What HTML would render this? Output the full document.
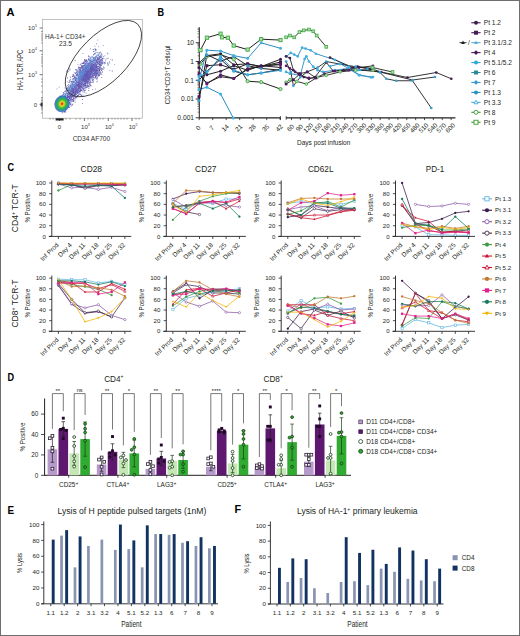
<!DOCTYPE html><html><head><meta charset="utf-8"><title>Figure</title><style>html,body{margin:0;padding:0;background:#fff;width:520px;height:636px;overflow:hidden;}svg{display:block;font-family:"Liberation Sans",sans-serif;}</style></head><body><svg width="520" height="636" viewBox="0 0 520 636" font-family="&quot;Liberation Sans&quot;, sans-serif"><rect x="0" y="0" width="520" height="636" fill="#fff"/>
<text x="6.60" y="16.20" font-size="10.8" fill="#000" textLength="8.0" lengthAdjust="spacingAndGlyphs" font-weight="bold">A</text>
<text x="157.60" y="15.90" font-size="10.8" fill="#000" textLength="6.6" lengthAdjust="spacingAndGlyphs" font-weight="bold">B</text>
<text x="7.60" y="170.60" font-size="10.8" fill="#000" textLength="6.6" lengthAdjust="spacingAndGlyphs" font-weight="bold">C</text>
<text x="7.60" y="380.60" font-size="10.8" fill="#000" textLength="6.6" lengthAdjust="spacingAndGlyphs" font-weight="bold">D</text>
<text x="7.60" y="513.80" font-size="10.8" fill="#000" textLength="6.6" lengthAdjust="spacingAndGlyphs" font-weight="bold">E</text>
<text x="234.60" y="513.30" font-size="10.8" fill="#000" textLength="6.6" lengthAdjust="spacingAndGlyphs" font-weight="bold">F</text>
<g opacity="0.9"><path fill="#1f2a80" d="M87.2 76.8h.8v.8h-.8zM84.2 75.6h.8v.8h-.8zM90.3 67.5h.8v.8h-.8zM98.7 74.5h.8v.8h-.8zM90.7 70.3h.8v.8h-.8zM90.2 76.6h.8v.8h-.8zM73.8 86.4h.8v.8h-.8zM98.8 67.1h.8v.8h-.8zM98.5 71.5h.8v.8h-.8zM89.6 60.0h.8v.8h-.8zM84.5 71.4h.8v.8h-.8zM88.0 58.6h.8v.8h-.8zM86.8 81.3h.8v.8h-.8zM95.3 68.7h.8v.8h-.8zM98.8 63.7h.8v.8h-.8zM93.6 50.9h.8v.8h-.8zM99.1 73.0h.8v.8h-.8zM84.3 89.9h.8v.8h-.8zM81.6 79.2h.8v.8h-.8zM92.1 71.8h.8v.8h-.8zM96.0 65.4h.8v.8h-.8zM87.9 63.3h.8v.8h-.8zM100.0 62.5h.8v.8h-.8zM102.2 61.9h.8v.8h-.8zM88.8 76.6h.8v.8h-.8zM94.7 70.8h.8v.8h-.8zM73.7 89.1h.8v.8h-.8zM77.2 74.0h.8v.8h-.8zM78.3 83.5h.8v.8h-.8zM86.6 77.1h.8v.8h-.8zM91.1 67.7h.8v.8h-.8zM97.0 77.5h.8v.8h-.8zM93.8 70.3h.8v.8h-.8zM72.7 78.7h.8v.8h-.8zM100.8 62.0h.8v.8h-.8zM86.7 69.0h.8v.8h-.8zM84.7 79.7h.8v.8h-.8zM82.6 78.6h.8v.8h-.8zM98.0 59.5h.8v.8h-.8zM79.4 79.3h.8v.8h-.8zM101.8 68.2h.8v.8h-.8zM87.8 78.4h.8v.8h-.8zM82.4 67.6h.8v.8h-.8zM79.9 91.2h.8v.8h-.8zM89.9 73.5h.8v.8h-.8zM91.8 68.2h.8v.8h-.8zM98.9 70.5h.8v.8h-.8zM66.8 87.9h.8v.8h-.8zM95.5 71.8h.8v.8h-.8zM106.6 58.2h.8v.8h-.8zM90.4 57.4h.8v.8h-.8zM81.8 76.9h.8v.8h-.8zM96.5 78.6h.8v.8h-.8zM100.1 63.9h.8v.8h-.8zM75.2 83.2h.8v.8h-.8zM82.2 66.3h.8v.8h-.8zM88.2 64.5h.8v.8h-.8zM87.9 73.6h.8v.8h-.8zM94.4 72.4h.8v.8h-.8zM76.4 74.1h.8v.8h-.8zM84.8 75.9h.8v.8h-.8zM94.7 56.7h.8v.8h-.8zM77.2 73.3h.8v.8h-.8zM88.0 68.9h.8v.8h-.8zM76.7 84.8h.8v.8h-.8zM86.9 64.7h.8v.8h-.8zM82.0 87.7h.8v.8h-.8zM95.2 75.6h.8v.8h-.8zM90.7 65.6h.8v.8h-.8zM84.9 85.1h.8v.8h-.8zM76.8 91.8h.8v.8h-.8zM79.3 84.6h.8v.8h-.8zM92.6 69.1h.8v.8h-.8zM87.0 79.0h.8v.8h-.8zM91.5 63.2h.8v.8h-.8zM91.8 61.4h.8v.8h-.8zM101.4 68.3h.8v.8h-.8zM75.2 80.1h.8v.8h-.8zM85.0 83.3h.8v.8h-.8zM94.4 70.0h.8v.8h-.8zM86.1 86.9h.8v.8h-.8zM90.7 73.3h.8v.8h-.8zM89.6 71.1h.8v.8h-.8zM99.1 64.2h.8v.8h-.8zM83.3 87.5h.8v.8h-.8zM79.7 75.6h.8v.8h-.8zM82.0 80.6h.8v.8h-.8zM81.5 79.0h.8v.8h-.8zM85.9 80.2h.8v.8h-.8zM97.5 56.9h.8v.8h-.8zM101.5 58.6h.8v.8h-.8zM80.9 84.5h.8v.8h-.8zM87.1 81.5h.8v.8h-.8zM69.4 88.4h.8v.8h-.8zM91.5 65.5h.8v.8h-.8zM90.4 77.6h.8v.8h-.8zM82.7 77.4h.8v.8h-.8zM93.7 65.3h.8v.8h-.8zM85.2 82.5h.8v.8h-.8zM78.1 87.5h.8v.8h-.8zM82.2 63.1h.8v.8h-.8zM84.7 80.5h.8v.8h-.8zM88.1 59.0h.8v.8h-.8zM89.2 70.4h.8v.8h-.8zM84.6 72.9h.8v.8h-.8zM76.7 77.8h.8v.8h-.8zM72.9 88.8h.8v.8h-.8zM84.4 69.3h.8v.8h-.8zM104.1 62.0h.8v.8h-.8zM81.3 86.1h.8v.8h-.8zM79.7 86.8h.8v.8h-.8zM87.7 74.5h.8v.8h-.8zM100.8 65.0h.8v.8h-.8zM92.5 63.4h.8v.8h-.8zM76.6 72.1h.8v.8h-.8zM94.4 66.6h.8v.8h-.8zM90.3 74.8h.8v.8h-.8zM84.4 77.5h.8v.8h-.8zM88.2 72.1h.8v.8h-.8zM69.2 81.6h.8v.8h-.8zM88.6 56.0h.8v.8h-.8zM76.5 87.9h.8v.8h-.8zM92.9 57.4h.8v.8h-.8zM99.9 65.8h.8v.8h-.8zM85.1 85.4h.8v.8h-.8zM86.1 77.9h.8v.8h-.8zM84.2 73.8h.8v.8h-.8zM85.0 76.2h.8v.8h-.8zM91.6 65.1h.8v.8h-.8zM85.5 72.5h.8v.8h-.8zM94.5 59.2h.8v.8h-.8zM89.3 82.9h.8v.8h-.8zM86.2 67.9h.8v.8h-.8zM88.2 77.4h.8v.8h-.8zM82.4 83.5h.8v.8h-.8zM85.6 78.0h.8v.8h-.8zM82.6 80.3h.8v.8h-.8zM86.0 77.2h.8v.8h-.8zM88.9 71.6h.8v.8h-.8zM89.9 72.5h.8v.8h-.8zM90.8 64.7h.8v.8h-.8zM84.1 80.7h.8v.8h-.8zM85.4 78.3h.8v.8h-.8zM85.2 80.4h.8v.8h-.8zM91.9 68.7h.8v.8h-.8zM86.0 67.3h.8v.8h-.8zM83.5 84.2h.8v.8h-.8zM87.4 65.5h.8v.8h-.8zM75.9 75.2h.8v.8h-.8zM92.5 70.1h.8v.8h-.8zM81.6 84.9h.8v.8h-.8zM87.3 71.7h.8v.8h-.8zM79.6 85.9h.8v.8h-.8zM85.5 67.4h.8v.8h-.8zM81.1 71.3h.8v.8h-.8zM99.2 61.4h.8v.8h-.8zM87.2 69.0h.8v.8h-.8zM89.8 66.9h.8v.8h-.8zM83.6 85.0h.8v.8h-.8zM82.9 76.1h.8v.8h-.8zM78.0 68.4h.8v.8h-.8zM103.1 56.4h.8v.8h-.8zM87.9 68.6h.8v.8h-.8zM79.4 69.1h.8v.8h-.8zM87.2 82.1h.8v.8h-.8zM96.2 68.7h.8v.8h-.8zM94.2 65.2h.8v.8h-.8zM88.2 69.4h.8v.8h-.8zM78.0 95.0h.8v.8h-.8zM100.5 56.9h.8v.8h-.8zM88.9 73.8h.8v.8h-.8zM80.9 77.7h.8v.8h-.8zM87.3 77.8h.8v.8h-.8zM85.5 84.7h.8v.8h-.8zM79.7 76.4h.8v.8h-.8zM82.6 94.8h.8v.8h-.8zM96.2 60.1h.8v.8h-.8zM83.6 73.5h.8v.8h-.8zM94.2 70.2h.8v.8h-.8zM99.8 56.6h.8v.8h-.8zM96.6 70.2h.8v.8h-.8zM90.8 68.5h.8v.8h-.8zM102.0 58.1h.8v.8h-.8zM77.5 91.6h.8v.8h-.8zM77.8 83.7h.8v.8h-.8zM84.7 72.9h.8v.8h-.8zM72.8 85.7h.8v.8h-.8zM93.9 63.5h.8v.8h-.8zM90.5 62.4h.8v.8h-.8zM84.2 74.8h.8v.8h-.8zM94.7 77.7h.8v.8h-.8zM96.7 58.9h.8v.8h-.8zM93.3 53.9h.8v.8h-.8zM71.4 91.5h.8v.8h-.8zM70.5 94.6h.8v.8h-.8zM76.2 85.8h.8v.8h-.8zM72.0 89.9h.8v.8h-.8zM70.6 90.6h.8v.8h-.8zM71.5 89.9h.8v.8h-.8zM68.1 96.5h.8v.8h-.8zM60.3 96.1h.8v.8h-.8zM69.0 95.7h.8v.8h-.8zM71.4 97.9h.8v.8h-.8zM75.2 90.1h.8v.8h-.8zM76.4 91.9h.8v.8h-.8zM74.8 92.7h.8v.8h-.8zM76.4 84.8h.8v.8h-.8zM72.8 91.4h.8v.8h-.8zM73.4 95.7h.8v.8h-.8zM75.4 93.7h.8v.8h-.8zM74.3 86.3h.8v.8h-.8zM68.3 89.6h.8v.8h-.8zM75.5 93.9h.8v.8h-.8zM79.2 93.4h.8v.8h-.8zM72.0 93.4h.8v.8h-.8zM71.3 93.2h.8v.8h-.8zM65.1 90.7h.8v.8h-.8zM74.7 92.9h.8v.8h-.8zM71.7 99.2h.8v.8h-.8zM72.1 91.2h.8v.8h-.8zM79.1 87.2h.8v.8h-.8zM71.7 90.4h.8v.8h-.8zM73.6 90.9h.8v.8h-.8zM70.6 96.0h.8v.8h-.8zM78.1 87.0h.8v.8h-.8zM71.0 90.6h.8v.8h-.8zM77.1 90.2h.8v.8h-.8zM75.0 91.3h.8v.8h-.8zM79.2 91.1h.8v.8h-.8zM67.7 92.8h.8v.8h-.8zM71.2 88.3h.8v.8h-.8zM72.5 99.6h.8v.8h-.8zM70.1 90.7h.8v.8h-.8zM75.0 86.4h.8v.8h-.8zM69.3 96.9h.8v.8h-.8zM76.8 86.0h.8v.8h-.8zM78.7 84.0h.8v.8h-.8zM69.5 94.0h.8v.8h-.8zM63.8 94.8h.8v.8h-.8zM73.6 91.9h.8v.8h-.8zM76.3 90.9h.8v.8h-.8zM70.3 98.9h.8v.8h-.8zM69.4 88.8h.8v.8h-.8zM68.8 88.2h.8v.8h-.8zM76.2 90.9h.8v.8h-.8zM73.0 91.6h.8v.8h-.8zM74.8 90.7h.8v.8h-.8zM77.6 92.1h.8v.8h-.8zM66.6 89.5h.8v.8h-.8zM67.1 95.1h.8v.8h-.8zM63.0 105.2h.8v.8h-.8zM64.9 102.6h.8v.8h-.8zM69.9 104.4h.8v.8h-.8zM57.5 99.8h.8v.8h-.8zM68.2 99.1h.8v.8h-.8zM72.2 99.6h.8v.8h-.8zM73.4 99.9h.8v.8h-.8zM66.5 100.2h.8v.8h-.8zM67.2 96.0h.8v.8h-.8zM61.7 104.9h.8v.8h-.8zM63.7 102.2h.8v.8h-.8zM74.7 101.8h.8v.8h-.8zM61.0 104.6h.8v.8h-.8zM67.2 98.4h.8v.8h-.8zM61.5 101.7h.8v.8h-.8zM68.8 102.8h.8v.8h-.8zM60.4 104.3h.8v.8h-.8zM62.5 100.1h.8v.8h-.8zM63.8 108.6h.8v.8h-.8zM63.0 101.2h.8v.8h-.8zM67.8 104.2h.8v.8h-.8zM67.0 97.4h.8v.8h-.8zM62.0 106.2h.8v.8h-.8zM65.3 108.1h.8v.8h-.8zM66.9 101.8h.8v.8h-.8zM65.5 106.0h.8v.8h-.8zM57.9 107.0h.8v.8h-.8zM70.6 97.6h.8v.8h-.8zM62.7 99.2h.8v.8h-.8zM62.9 101.1h.8v.8h-.8zM62.1 102.3h.8v.8h-.8zM74.7 60.1h.8v.8h-.8zM89.9 48.5h.8v.8h-.8zM78.5 77.7h.8v.8h-.8zM80.2 94.2h.8v.8h-.8zM94.3 59.4h.8v.8h-.8zM111.8 70.6h.8v.8h-.8zM97.4 69.8h.8v.8h-.8zM86.7 69.4h.8v.8h-.8zM107.5 53.5h.8v.8h-.8zM69.6 69.4h.8v.8h-.8zM101.3 77.0h.8v.8h-.8zM97.1 58.9h.8v.8h-.8zM68.3 70.8h.8v.8h-.8zM84.5 78.0h.8v.8h-.8zM93.2 79.4h.8v.8h-.8zM83.7 75.5h.8v.8h-.8z"/><path fill="#2c3a9c" d="M84.2 73.9h.8v.8h-.8zM88.9 70.2h.8v.8h-.8zM90.7 71.6h.8v.8h-.8zM88.0 55.6h.8v.8h-.8zM85.9 81.1h.8v.8h-.8zM92.0 67.8h.8v.8h-.8zM86.6 78.7h.8v.8h-.8zM87.3 68.2h.8v.8h-.8zM87.1 77.9h.8v.8h-.8zM91.0 73.1h.8v.8h-.8zM82.6 69.4h.8v.8h-.8zM85.8 82.6h.8v.8h-.8zM95.8 60.0h.8v.8h-.8zM93.2 63.8h.8v.8h-.8zM72.8 78.2h.8v.8h-.8zM89.7 69.1h.8v.8h-.8zM87.3 83.2h.8v.8h-.8zM83.5 79.6h.8v.8h-.8zM88.5 88.0h.8v.8h-.8zM100.9 70.3h.8v.8h-.8zM87.7 71.1h.8v.8h-.8zM95.0 67.4h.8v.8h-.8zM84.5 62.1h.8v.8h-.8zM94.1 69.8h.8v.8h-.8zM84.4 73.7h.8v.8h-.8zM83.8 71.6h.8v.8h-.8zM89.4 75.9h.8v.8h-.8zM85.5 75.0h.8v.8h-.8zM85.5 81.3h.8v.8h-.8zM87.9 74.4h.8v.8h-.8zM104.7 62.0h.8v.8h-.8zM80.3 90.6h.8v.8h-.8zM84.4 75.3h.8v.8h-.8zM86.2 70.1h.8v.8h-.8zM89.7 73.0h.8v.8h-.8zM97.7 55.3h.8v.8h-.8zM87.4 71.3h.8v.8h-.8zM83.6 66.8h.8v.8h-.8zM92.1 68.3h.8v.8h-.8zM92.4 73.8h.8v.8h-.8zM91.0 66.8h.8v.8h-.8zM95.8 64.9h.8v.8h-.8zM87.1 77.0h.8v.8h-.8zM86.4 78.1h.8v.8h-.8zM94.3 73.8h.8v.8h-.8zM88.4 74.6h.8v.8h-.8zM82.3 80.4h.8v.8h-.8zM82.0 77.1h.8v.8h-.8zM92.9 75.7h.8v.8h-.8zM83.4 78.7h.8v.8h-.8zM95.6 67.1h.8v.8h-.8zM93.8 60.0h.8v.8h-.8zM100.2 72.6h.8v.8h-.8zM87.4 72.2h.8v.8h-.8zM85.6 67.9h.8v.8h-.8zM86.4 74.7h.8v.8h-.8zM68.3 84.3h.8v.8h-.8zM103.9 67.5h.8v.8h-.8zM95.7 59.8h.8v.8h-.8zM81.1 90.1h.8v.8h-.8zM88.4 77.9h.8v.8h-.8zM83.2 85.7h.8v.8h-.8zM75.0 83.7h.8v.8h-.8zM93.2 81.6h.8v.8h-.8zM97.9 73.6h.8v.8h-.8zM98.4 63.2h.8v.8h-.8zM96.9 67.9h.8v.8h-.8zM73.9 91.1h.8v.8h-.8zM96.9 62.2h.8v.8h-.8zM99.2 69.7h.8v.8h-.8zM80.5 87.0h.8v.8h-.8zM86.3 67.0h.8v.8h-.8zM72.6 76.1h.8v.8h-.8zM84.7 76.0h.8v.8h-.8zM100.6 56.9h.8v.8h-.8zM76.4 77.5h.8v.8h-.8zM84.8 73.5h.8v.8h-.8zM86.1 76.2h.8v.8h-.8zM83.7 80.8h.8v.8h-.8zM86.4 73.5h.8v.8h-.8zM88.6 72.4h.8v.8h-.8zM76.6 75.3h.8v.8h-.8zM76.3 72.0h.8v.8h-.8zM92.4 66.3h.8v.8h-.8zM85.0 60.6h.8v.8h-.8zM96.7 73.6h.8v.8h-.8zM83.0 79.1h.8v.8h-.8zM91.0 72.8h.8v.8h-.8zM85.5 76.3h.8v.8h-.8zM90.1 83.8h.8v.8h-.8zM93.9 68.7h.8v.8h-.8zM89.4 74.4h.8v.8h-.8zM86.0 73.1h.8v.8h-.8zM83.6 72.1h.8v.8h-.8zM75.5 80.3h.8v.8h-.8zM93.4 68.9h.8v.8h-.8zM91.4 69.8h.8v.8h-.8zM88.2 77.3h.8v.8h-.8zM84.0 79.7h.8v.8h-.8zM79.7 81.5h.8v.8h-.8zM74.7 86.8h.8v.8h-.8zM94.2 69.3h.8v.8h-.8zM97.6 61.1h.8v.8h-.8zM81.0 80.8h.8v.8h-.8zM100.2 51.8h.8v.8h-.8zM93.9 60.1h.8v.8h-.8zM87.7 70.8h.8v.8h-.8zM99.2 59.5h.8v.8h-.8zM86.1 78.2h.8v.8h-.8zM85.4 75.5h.8v.8h-.8zM78.8 79.6h.8v.8h-.8zM82.8 63.2h.8v.8h-.8zM96.6 69.4h.8v.8h-.8zM94.1 71.5h.8v.8h-.8zM90.9 72.8h.8v.8h-.8zM91.5 70.7h.8v.8h-.8zM80.1 85.7h.8v.8h-.8zM88.8 86.4h.8v.8h-.8zM67.0 85.5h.8v.8h-.8zM93.3 51.2h.8v.8h-.8zM92.3 68.8h.8v.8h-.8zM92.4 66.6h.8v.8h-.8zM85.0 82.5h.8v.8h-.8zM98.6 64.0h.8v.8h-.8zM99.2 75.1h.8v.8h-.8zM84.4 79.0h.8v.8h-.8zM87.6 76.3h.8v.8h-.8zM91.5 64.5h.8v.8h-.8zM96.5 69.2h.8v.8h-.8zM86.8 85.9h.8v.8h-.8zM93.4 67.5h.8v.8h-.8zM98.2 58.5h.8v.8h-.8zM83.8 75.4h.8v.8h-.8zM94.3 65.9h.8v.8h-.8zM88.6 70.9h.8v.8h-.8zM78.7 80.8h.8v.8h-.8zM84.3 83.5h.8v.8h-.8zM93.8 58.3h.8v.8h-.8zM90.9 66.6h.8v.8h-.8zM93.6 73.0h.8v.8h-.8zM101.0 64.8h.8v.8h-.8zM95.0 72.4h.8v.8h-.8zM76.3 77.8h.8v.8h-.8zM83.4 62.0h.8v.8h-.8zM81.8 69.9h.8v.8h-.8zM89.6 66.0h.8v.8h-.8zM85.1 83.0h.8v.8h-.8zM87.4 67.8h.8v.8h-.8zM75.3 77.2h.8v.8h-.8zM83.8 72.2h.8v.8h-.8zM93.8 74.7h.8v.8h-.8zM88.5 66.6h.8v.8h-.8zM73.2 91.5h.8v.8h-.8zM97.5 70.2h.8v.8h-.8zM78.3 78.7h.8v.8h-.8zM88.5 86.0h.8v.8h-.8zM83.6 77.2h.8v.8h-.8zM91.2 69.1h.8v.8h-.8zM95.6 60.7h.8v.8h-.8zM96.0 49.4h.8v.8h-.8zM78.6 73.8h.8v.8h-.8zM93.3 73.1h.8v.8h-.8zM74.8 89.6h.8v.8h-.8zM96.7 62.7h.8v.8h-.8zM92.5 69.4h.8v.8h-.8zM85.0 70.9h.8v.8h-.8zM87.3 77.9h.8v.8h-.8zM89.9 67.1h.8v.8h-.8zM78.3 82.3h.8v.8h-.8zM86.0 75.5h.8v.8h-.8zM101.6 61.8h.8v.8h-.8zM90.4 70.9h.8v.8h-.8zM85.0 67.5h.8v.8h-.8zM88.2 76.7h.8v.8h-.8zM88.4 77.2h.8v.8h-.8zM85.0 78.0h.8v.8h-.8zM87.9 69.6h.8v.8h-.8zM100.1 55.4h.8v.8h-.8zM97.6 59.1h.8v.8h-.8zM91.1 65.4h.8v.8h-.8zM101.7 61.2h.8v.8h-.8zM91.0 69.1h.8v.8h-.8zM92.8 49.1h.8v.8h-.8zM75.3 88.5h.8v.8h-.8zM73.2 82.3h.8v.8h-.8zM85.0 72.7h.8v.8h-.8zM75.1 79.4h.8v.8h-.8zM96.0 73.5h.8v.8h-.8zM86.1 80.4h.8v.8h-.8zM78.5 88.2h.8v.8h-.8zM87.4 82.0h.8v.8h-.8zM96.2 64.9h.8v.8h-.8zM95.3 58.0h.8v.8h-.8zM91.6 69.9h.8v.8h-.8zM95.1 49.1h.8v.8h-.8zM102.6 62.9h.8v.8h-.8zM84.8 84.7h.8v.8h-.8zM87.2 76.6h.8v.8h-.8zM84.5 74.9h.8v.8h-.8zM82.1 87.3h.8v.8h-.8zM80.8 94.6h.8v.8h-.8zM84.3 71.5h.8v.8h-.8zM88.6 78.4h.8v.8h-.8zM95.6 55.9h.8v.8h-.8zM84.6 63.2h.8v.8h-.8zM94.0 66.8h.8v.8h-.8zM77.6 84.1h.8v.8h-.8zM100.1 59.5h.8v.8h-.8zM83.6 77.8h.8v.8h-.8zM101.4 56.5h.8v.8h-.8zM92.7 65.6h.8v.8h-.8zM90.7 70.6h.8v.8h-.8zM99.4 69.1h.8v.8h-.8zM96.7 73.1h.8v.8h-.8zM90.2 71.7h.8v.8h-.8zM88.2 72.5h.8v.8h-.8zM80.8 82.1h.8v.8h-.8zM89.0 71.6h.8v.8h-.8zM86.3 76.3h.8v.8h-.8zM100.6 56.4h.8v.8h-.8zM71.2 85.6h.8v.8h-.8zM74.2 93.9h.8v.8h-.8zM77.0 89.2h.8v.8h-.8zM72.2 96.1h.8v.8h-.8zM72.5 93.3h.8v.8h-.8zM77.4 89.5h.8v.8h-.8zM67.7 91.7h.8v.8h-.8zM72.3 83.7h.8v.8h-.8zM74.6 89.1h.8v.8h-.8zM69.3 92.4h.8v.8h-.8zM74.0 91.5h.8v.8h-.8zM73.6 79.7h.8v.8h-.8zM72.3 88.7h.8v.8h-.8zM66.7 93.0h.8v.8h-.8zM76.7 87.2h.8v.8h-.8zM75.6 94.0h.8v.8h-.8zM72.6 89.9h.8v.8h-.8zM70.6 94.8h.8v.8h-.8zM68.8 93.3h.8v.8h-.8zM72.5 95.3h.8v.8h-.8zM66.7 93.0h.8v.8h-.8zM66.2 92.9h.8v.8h-.8zM69.5 95.5h.8v.8h-.8zM69.1 101.9h.8v.8h-.8zM65.6 97.8h.8v.8h-.8zM78.1 87.9h.8v.8h-.8zM69.6 92.1h.8v.8h-.8zM71.7 91.6h.8v.8h-.8zM74.7 86.2h.8v.8h-.8zM67.5 96.7h.8v.8h-.8zM66.8 94.8h.8v.8h-.8zM71.7 83.7h.8v.8h-.8zM74.9 89.8h.8v.8h-.8zM76.5 88.8h.8v.8h-.8zM69.3 95.7h.8v.8h-.8zM71.3 97.2h.8v.8h-.8zM72.3 90.2h.8v.8h-.8zM74.6 92.3h.8v.8h-.8zM75.3 90.6h.8v.8h-.8zM69.6 85.9h.8v.8h-.8zM72.9 100.4h.8v.8h-.8zM66.1 98.8h.8v.8h-.8zM71.2 89.1h.8v.8h-.8zM73.3 93.0h.8v.8h-.8zM73.7 90.8h.8v.8h-.8zM73.0 98.1h.8v.8h-.8zM66.3 94.8h.8v.8h-.8zM74.0 94.0h.8v.8h-.8zM73.8 90.9h.8v.8h-.8zM69.7 89.1h.8v.8h-.8zM80.3 86.3h.8v.8h-.8zM72.6 90.3h.8v.8h-.8zM74.6 99.6h.8v.8h-.8zM63.6 100.5h.8v.8h-.8zM73.5 90.6h.8v.8h-.8zM71.3 87.4h.8v.8h-.8zM63.4 104.8h.8v.8h-.8zM62.3 103.2h.8v.8h-.8zM65.8 99.5h.8v.8h-.8zM59.9 101.9h.8v.8h-.8zM61.2 106.2h.8v.8h-.8zM65.4 111.6h.8v.8h-.8zM66.1 102.7h.8v.8h-.8zM63.3 100.0h.8v.8h-.8zM59.4 109.0h.8v.8h-.8zM63.7 103.8h.8v.8h-.8zM69.6 102.2h.8v.8h-.8zM67.4 103.4h.8v.8h-.8zM68.3 97.4h.8v.8h-.8zM59.9 99.1h.8v.8h-.8zM64.4 111.0h.8v.8h-.8zM66.3 102.4h.8v.8h-.8zM63.5 102.6h.8v.8h-.8zM70.4 103.1h.8v.8h-.8zM69.1 96.4h.8v.8h-.8zM62.2 102.6h.8v.8h-.8zM60.0 101.5h.8v.8h-.8zM60.7 104.9h.8v.8h-.8zM66.0 105.6h.8v.8h-.8zM61.1 103.5h.8v.8h-.8zM63.8 101.4h.8v.8h-.8zM62.1 106.0h.8v.8h-.8zM63.9 102.6h.8v.8h-.8zM70.5 96.1h.8v.8h-.8zM68.4 107.1h.8v.8h-.8zM65.2 102.8h.8v.8h-.8zM68.7 94.1h.8v.8h-.8zM61.0 104.5h.8v.8h-.8zM58.8 103.5h.8v.8h-.8zM58.5 103.9h.8v.8h-.8zM76.5 92.7h.8v.8h-.8zM96.2 43.5h.8v.8h-.8zM85.2 63.0h.8v.8h-.8zM78.2 77.8h.8v.8h-.8zM90.3 81.9h.8v.8h-.8zM81.4 66.4h.8v.8h-.8zM81.3 72.1h.8v.8h-.8zM98.2 73.6h.8v.8h-.8zM97.3 69.9h.8v.8h-.8zM67.3 77.6h.8v.8h-.8zM85.5 67.8h.8v.8h-.8zM99.6 74.0h.8v.8h-.8zM92.3 64.7h.8v.8h-.8zM99.5 55.9h.8v.8h-.8z"/><path fill="#3d4fb5" d="M96.3 64.8h.8v.8h-.8zM89.1 84.1h.8v.8h-.8zM77.8 86.2h.8v.8h-.8zM84.7 63.4h.8v.8h-.8zM99.6 65.0h.8v.8h-.8zM83.0 62.3h.8v.8h-.8zM73.7 87.9h.8v.8h-.8zM92.4 61.1h.8v.8h-.8zM77.4 86.3h.8v.8h-.8zM91.4 73.9h.8v.8h-.8zM92.3 64.3h.8v.8h-.8zM88.3 72.4h.8v.8h-.8zM93.9 67.0h.8v.8h-.8zM93.1 66.1h.8v.8h-.8zM86.2 72.5h.8v.8h-.8zM95.6 76.6h.8v.8h-.8zM75.7 74.8h.8v.8h-.8zM79.0 72.0h.8v.8h-.8zM90.3 78.7h.8v.8h-.8zM92.5 66.4h.8v.8h-.8zM76.2 70.4h.8v.8h-.8zM90.7 68.0h.8v.8h-.8zM86.5 73.7h.8v.8h-.8zM93.2 68.1h.8v.8h-.8zM81.4 67.9h.8v.8h-.8zM86.2 68.2h.8v.8h-.8zM84.3 72.4h.8v.8h-.8zM89.8 73.7h.8v.8h-.8zM96.0 69.4h.8v.8h-.8zM89.9 68.1h.8v.8h-.8zM85.0 81.2h.8v.8h-.8zM89.9 64.2h.8v.8h-.8zM79.6 82.4h.8v.8h-.8zM79.8 67.0h.8v.8h-.8zM74.6 77.5h.8v.8h-.8zM83.5 73.0h.8v.8h-.8zM99.7 68.4h.8v.8h-.8zM85.2 66.3h.8v.8h-.8zM73.5 90.0h.8v.8h-.8zM86.1 71.8h.8v.8h-.8zM80.2 76.9h.8v.8h-.8zM79.3 67.1h.8v.8h-.8zM77.2 91.5h.8v.8h-.8zM95.1 73.3h.8v.8h-.8zM88.8 77.7h.8v.8h-.8zM100.7 59.6h.8v.8h-.8zM86.9 68.6h.8v.8h-.8zM96.9 63.4h.8v.8h-.8zM81.3 82.8h.8v.8h-.8zM97.3 61.9h.8v.8h-.8zM95.1 69.1h.8v.8h-.8zM82.9 80.0h.8v.8h-.8zM73.9 72.4h.8v.8h-.8zM90.0 75.2h.8v.8h-.8zM95.7 73.6h.8v.8h-.8zM79.7 82.6h.8v.8h-.8zM90.3 69.1h.8v.8h-.8zM94.4 58.7h.8v.8h-.8zM95.3 77.1h.8v.8h-.8zM85.3 73.9h.8v.8h-.8zM92.3 69.1h.8v.8h-.8zM94.3 65.6h.8v.8h-.8zM84.8 78.1h.8v.8h-.8zM90.4 68.9h.8v.8h-.8zM89.1 68.8h.8v.8h-.8zM92.4 68.9h.8v.8h-.8zM79.4 74.6h.8v.8h-.8zM74.8 84.9h.8v.8h-.8zM109.2 61.6h.8v.8h-.8zM85.0 79.0h.8v.8h-.8zM101.3 69.9h.8v.8h-.8zM74.6 85.8h.8v.8h-.8zM71.7 88.0h.8v.8h-.8zM95.8 56.2h.8v.8h-.8zM86.4 72.8h.8v.8h-.8zM91.6 67.5h.8v.8h-.8zM85.5 71.2h.8v.8h-.8zM88.5 79.0h.8v.8h-.8zM85.6 65.0h.8v.8h-.8zM94.3 62.9h.8v.8h-.8zM97.7 60.2h.8v.8h-.8zM107.0 62.6h.8v.8h-.8zM73.6 94.0h.8v.8h-.8zM101.4 62.8h.8v.8h-.8zM78.6 84.9h.8v.8h-.8zM97.0 71.8h.8v.8h-.8zM98.1 66.2h.8v.8h-.8zM85.5 74.7h.8v.8h-.8zM88.0 73.9h.8v.8h-.8zM71.1 86.9h.8v.8h-.8zM98.8 58.0h.8v.8h-.8zM88.4 73.4h.8v.8h-.8zM87.1 70.8h.8v.8h-.8zM88.6 71.6h.8v.8h-.8zM104.5 55.5h.8v.8h-.8zM90.8 72.3h.8v.8h-.8zM97.6 59.0h.8v.8h-.8zM108.7 62.8h.8v.8h-.8zM78.9 83.8h.8v.8h-.8zM86.0 76.9h.8v.8h-.8zM90.8 76.0h.8v.8h-.8zM82.8 69.1h.8v.8h-.8zM97.7 66.2h.8v.8h-.8zM82.6 77.4h.8v.8h-.8zM87.0 72.3h.8v.8h-.8zM81.2 75.3h.8v.8h-.8zM87.6 63.1h.8v.8h-.8zM83.6 84.2h.8v.8h-.8zM75.9 87.3h.8v.8h-.8zM80.5 83.8h.8v.8h-.8zM79.7 70.2h.8v.8h-.8zM90.0 75.1h.8v.8h-.8zM85.4 71.3h.8v.8h-.8zM91.8 69.9h.8v.8h-.8zM88.2 71.9h.8v.8h-.8zM82.0 71.6h.8v.8h-.8zM94.3 60.4h.8v.8h-.8zM92.4 68.0h.8v.8h-.8zM81.6 76.2h.8v.8h-.8zM85.2 82.3h.8v.8h-.8zM98.3 61.2h.8v.8h-.8zM104.1 63.5h.8v.8h-.8zM78.8 68.2h.8v.8h-.8zM78.7 77.0h.8v.8h-.8zM86.1 77.8h.8v.8h-.8zM99.6 63.8h.8v.8h-.8zM83.9 78.9h.8v.8h-.8zM89.2 74.6h.8v.8h-.8zM78.2 94.6h.8v.8h-.8zM88.6 63.7h.8v.8h-.8zM87.7 64.8h.8v.8h-.8zM93.6 72.5h.8v.8h-.8zM95.9 61.9h.8v.8h-.8zM89.8 82.2h.8v.8h-.8zM83.5 77.8h.8v.8h-.8zM90.1 80.9h.8v.8h-.8zM98.1 75.7h.8v.8h-.8zM84.6 74.7h.8v.8h-.8zM93.4 71.7h.8v.8h-.8zM84.4 81.0h.8v.8h-.8zM96.3 61.9h.8v.8h-.8zM86.6 70.5h.8v.8h-.8zM83.6 68.9h.8v.8h-.8zM81.6 86.4h.8v.8h-.8zM81.8 73.3h.8v.8h-.8zM90.9 70.6h.8v.8h-.8zM84.9 76.3h.8v.8h-.8zM82.1 67.6h.8v.8h-.8zM86.5 82.9h.8v.8h-.8zM91.6 74.9h.8v.8h-.8zM88.7 69.4h.8v.8h-.8zM98.8 57.6h.8v.8h-.8zM79.1 82.0h.8v.8h-.8zM94.1 73.4h.8v.8h-.8zM91.4 66.8h.8v.8h-.8zM85.6 70.3h.8v.8h-.8zM94.0 72.0h.8v.8h-.8zM75.2 88.6h.8v.8h-.8zM96.5 60.9h.8v.8h-.8zM79.3 80.6h.8v.8h-.8zM86.3 74.7h.8v.8h-.8zM94.3 70.0h.8v.8h-.8zM82.1 81.7h.8v.8h-.8zM81.7 85.8h.8v.8h-.8zM96.6 58.8h.8v.8h-.8zM74.0 91.8h.8v.8h-.8zM81.8 65.9h.8v.8h-.8zM93.5 74.5h.8v.8h-.8zM97.9 74.2h.8v.8h-.8zM71.3 81.8h.8v.8h-.8zM93.3 74.6h.8v.8h-.8zM87.9 81.0h.8v.8h-.8zM94.7 68.5h.8v.8h-.8zM94.9 76.3h.8v.8h-.8zM94.5 65.2h.8v.8h-.8zM85.8 66.2h.8v.8h-.8zM89.6 73.0h.8v.8h-.8zM72.2 91.4h.8v.8h-.8zM92.6 79.8h.8v.8h-.8zM71.7 81.1h.8v.8h-.8zM81.0 77.6h.8v.8h-.8zM81.0 89.6h.8v.8h-.8zM88.6 68.4h.8v.8h-.8zM95.6 69.7h.8v.8h-.8zM94.5 49.4h.8v.8h-.8zM90.8 68.6h.8v.8h-.8zM75.8 75.3h.8v.8h-.8zM68.7 87.4h.8v.8h-.8zM95.4 70.2h.8v.8h-.8zM85.5 88.5h.8v.8h-.8zM69.4 85.0h.8v.8h-.8zM96.9 61.1h.8v.8h-.8zM86.7 77.7h.8v.8h-.8zM96.8 73.0h.8v.8h-.8zM79.2 81.8h.8v.8h-.8zM79.0 70.4h.8v.8h-.8zM85.1 61.2h.8v.8h-.8zM85.3 75.7h.8v.8h-.8zM94.0 67.4h.8v.8h-.8zM92.1 70.5h.8v.8h-.8zM70.2 85.0h.8v.8h-.8zM88.1 72.8h.8v.8h-.8zM88.4 72.6h.8v.8h-.8zM100.8 64.6h.8v.8h-.8zM65.5 100.0h.8v.8h-.8zM72.7 93.5h.8v.8h-.8zM69.7 103.9h.8v.8h-.8zM77.0 95.3h.8v.8h-.8zM64.8 95.9h.8v.8h-.8zM76.9 84.4h.8v.8h-.8zM71.9 90.9h.8v.8h-.8zM75.4 87.2h.8v.8h-.8zM71.3 99.6h.8v.8h-.8zM74.6 94.1h.8v.8h-.8zM73.8 93.2h.8v.8h-.8zM75.6 89.7h.8v.8h-.8zM77.4 93.2h.8v.8h-.8zM76.3 83.6h.8v.8h-.8zM72.2 87.6h.8v.8h-.8zM76.4 94.0h.8v.8h-.8zM72.9 92.3h.8v.8h-.8zM79.3 88.3h.8v.8h-.8zM75.2 93.5h.8v.8h-.8zM71.9 91.9h.8v.8h-.8zM79.5 84.6h.8v.8h-.8zM73.4 94.7h.8v.8h-.8zM75.5 90.5h.8v.8h-.8zM76.6 96.9h.8v.8h-.8zM74.3 89.8h.8v.8h-.8zM70.5 104.3h.8v.8h-.8zM76.4 89.9h.8v.8h-.8zM73.2 91.8h.8v.8h-.8zM79.1 86.5h.8v.8h-.8zM69.8 92.0h.8v.8h-.8zM75.0 97.0h.8v.8h-.8zM73.6 98.2h.8v.8h-.8zM73.1 90.9h.8v.8h-.8zM70.8 95.2h.8v.8h-.8zM82.8 88.1h.8v.8h-.8zM68.2 93.9h.8v.8h-.8zM77.8 89.6h.8v.8h-.8zM68.1 95.6h.8v.8h-.8zM75.2 93.0h.8v.8h-.8zM70.9 89.5h.8v.8h-.8zM78.8 91.9h.8v.8h-.8zM71.6 93.8h.8v.8h-.8zM74.2 85.5h.8v.8h-.8zM76.1 97.4h.8v.8h-.8zM77.0 90.7h.8v.8h-.8zM76.3 87.8h.8v.8h-.8zM69.4 93.5h.8v.8h-.8zM72.6 89.2h.8v.8h-.8zM74.4 94.3h.8v.8h-.8zM77.6 93.1h.8v.8h-.8zM67.3 92.9h.8v.8h-.8zM67.3 94.0h.8v.8h-.8zM75.7 89.9h.8v.8h-.8zM72.9 90.7h.8v.8h-.8zM69.6 97.1h.8v.8h-.8zM80.1 88.4h.8v.8h-.8zM73.4 89.7h.8v.8h-.8zM72.8 96.5h.8v.8h-.8zM65.3 110.8h.8v.8h-.8zM62.3 95.4h.8v.8h-.8zM58.4 102.5h.8v.8h-.8zM61.1 103.9h.8v.8h-.8zM61.5 95.6h.8v.8h-.8zM59.4 109.6h.8v.8h-.8zM61.7 112.4h.8v.8h-.8zM65.9 97.4h.8v.8h-.8zM58.8 102.1h.8v.8h-.8zM64.6 106.0h.8v.8h-.8zM65.4 95.2h.8v.8h-.8zM67.5 101.8h.8v.8h-.8zM58.6 96.9h.8v.8h-.8zM63.0 97.5h.8v.8h-.8zM62.9 105.0h.8v.8h-.8zM59.8 103.1h.8v.8h-.8zM64.6 105.2h.8v.8h-.8zM63.0 104.4h.8v.8h-.8zM63.2 100.2h.8v.8h-.8zM65.1 95.8h.8v.8h-.8zM59.4 107.6h.8v.8h-.8zM57.8 101.2h.8v.8h-.8zM73.2 101.1h.8v.8h-.8zM67.5 99.2h.8v.8h-.8zM61.3 102.2h.8v.8h-.8zM70.4 95.9h.8v.8h-.8zM67.7 97.2h.8v.8h-.8zM69.6 100.3h.8v.8h-.8zM67.3 97.2h.8v.8h-.8zM61.3 102.0h.8v.8h-.8zM66.1 103.2h.8v.8h-.8zM71.8 104.5h.8v.8h-.8zM78.7 70.6h.8v.8h-.8zM85.0 69.5h.8v.8h-.8zM106.9 52.7h.8v.8h-.8zM89.2 78.3h.8v.8h-.8zM68.9 80.2h.8v.8h-.8zM84.0 82.4h.8v.8h-.8zM101.4 74.0h.8v.8h-.8zM77.6 63.9h.8v.8h-.8zM89.2 76.8h.8v.8h-.8zM69.9 76.7h.8v.8h-.8zM96.4 81.5h.8v.8h-.8zM87.7 71.6h.8v.8h-.8zM75.9 75.0h.8v.8h-.8zM82.0 65.8h.8v.8h-.8zM90.8 61.1h.8v.8h-.8zM92.1 81.7h.8v.8h-.8zM95.9 75.5h.8v.8h-.8zM75.1 69.2h.8v.8h-.8zM58.8 86.8h.8v.8h-.8zM88.4 86.4h.8v.8h-.8zM79.4 78.6h.8v.8h-.8zM90.8 56.6h.8v.8h-.8zM78.4 79.4h.8v.8h-.8z"/><path fill="#4a3a98" d="M78.8 89.9h.8v.8h-.8zM92.3 68.4h.8v.8h-.8zM84.2 64.7h.8v.8h-.8zM95.3 70.3h.8v.8h-.8zM89.0 60.2h.8v.8h-.8zM88.2 79.8h.8v.8h-.8zM90.4 80.0h.8v.8h-.8zM95.8 71.2h.8v.8h-.8zM84.4 76.1h.8v.8h-.8zM80.2 83.4h.8v.8h-.8zM85.4 73.1h.8v.8h-.8zM90.7 74.1h.8v.8h-.8zM87.5 64.7h.8v.8h-.8zM77.1 70.5h.8v.8h-.8zM82.7 78.2h.8v.8h-.8zM95.9 61.5h.8v.8h-.8zM95.5 57.1h.8v.8h-.8zM90.8 70.9h.8v.8h-.8zM98.3 69.5h.8v.8h-.8zM92.7 66.4h.8v.8h-.8zM89.1 78.9h.8v.8h-.8zM88.0 78.7h.8v.8h-.8zM79.6 83.6h.8v.8h-.8zM88.6 71.4h.8v.8h-.8zM76.5 84.0h.8v.8h-.8zM91.2 59.7h.8v.8h-.8zM95.2 63.1h.8v.8h-.8zM79.9 67.9h.8v.8h-.8zM76.8 85.1h.8v.8h-.8zM83.0 69.8h.8v.8h-.8zM77.1 85.0h.8v.8h-.8zM100.4 59.9h.8v.8h-.8zM83.6 79.6h.8v.8h-.8zM94.3 70.3h.8v.8h-.8zM96.0 75.1h.8v.8h-.8zM101.8 71.9h.8v.8h-.8zM84.7 87.4h.8v.8h-.8zM89.7 70.2h.8v.8h-.8zM92.2 75.6h.8v.8h-.8zM79.2 88.6h.8v.8h-.8zM94.6 47.9h.8v.8h-.8zM79.7 67.5h.8v.8h-.8zM95.2 66.3h.8v.8h-.8zM86.4 71.6h.8v.8h-.8zM100.7 52.7h.8v.8h-.8zM90.7 85.5h.8v.8h-.8zM96.1 67.6h.8v.8h-.8zM86.7 65.8h.8v.8h-.8zM91.9 60.7h.8v.8h-.8zM79.8 81.0h.8v.8h-.8zM86.0 72.0h.8v.8h-.8zM80.5 86.3h.8v.8h-.8zM87.1 77.3h.8v.8h-.8zM89.7 69.9h.8v.8h-.8zM84.5 77.9h.8v.8h-.8zM91.9 68.7h.8v.8h-.8zM87.5 84.7h.8v.8h-.8zM99.3 58.0h.8v.8h-.8zM97.3 69.9h.8v.8h-.8zM75.8 81.8h.8v.8h-.8zM96.1 74.6h.8v.8h-.8zM87.3 76.1h.8v.8h-.8zM85.7 77.0h.8v.8h-.8zM83.4 70.4h.8v.8h-.8zM69.9 79.2h.8v.8h-.8zM85.7 77.2h.8v.8h-.8zM91.3 70.0h.8v.8h-.8zM84.2 79.3h.8v.8h-.8zM96.6 67.3h.8v.8h-.8zM96.0 71.1h.8v.8h-.8zM83.5 86.0h.8v.8h-.8zM99.3 70.1h.8v.8h-.8zM100.7 62.4h.8v.8h-.8zM82.6 67.1h.8v.8h-.8zM84.6 82.7h.8v.8h-.8zM76.0 81.1h.8v.8h-.8zM99.3 64.6h.8v.8h-.8zM78.0 75.8h.8v.8h-.8zM80.9 81.9h.8v.8h-.8zM95.1 75.9h.8v.8h-.8zM86.6 72.3h.8v.8h-.8zM96.6 60.2h.8v.8h-.8zM86.8 74.7h.8v.8h-.8zM89.5 74.3h.8v.8h-.8zM89.3 69.4h.8v.8h-.8zM97.3 62.2h.8v.8h-.8zM99.3 61.0h.8v.8h-.8zM88.8 72.8h.8v.8h-.8zM86.2 61.4h.8v.8h-.8zM83.2 71.9h.8v.8h-.8zM98.9 56.2h.8v.8h-.8zM80.7 78.1h.8v.8h-.8zM90.4 66.4h.8v.8h-.8zM70.1 85.8h.8v.8h-.8zM82.9 83.6h.8v.8h-.8zM81.5 73.8h.8v.8h-.8zM85.4 83.6h.8v.8h-.8zM98.4 68.5h.8v.8h-.8zM85.5 73.3h.8v.8h-.8zM85.4 60.8h.8v.8h-.8zM97.5 57.4h.8v.8h-.8zM81.8 73.7h.8v.8h-.8zM69.5 89.9h.8v.8h-.8zM77.9 81.0h.8v.8h-.8zM99.5 72.3h.8v.8h-.8zM78.5 82.8h.8v.8h-.8zM103.5 58.3h.8v.8h-.8zM86.3 67.6h.8v.8h-.8zM87.6 72.6h.8v.8h-.8zM93.3 64.1h.8v.8h-.8zM91.1 70.1h.8v.8h-.8zM92.1 80.2h.8v.8h-.8zM83.2 85.4h.8v.8h-.8zM80.2 78.6h.8v.8h-.8zM87.6 75.0h.8v.8h-.8zM87.7 77.4h.8v.8h-.8zM79.8 69.4h.8v.8h-.8zM93.6 66.5h.8v.8h-.8zM87.0 73.3h.8v.8h-.8zM81.0 65.5h.8v.8h-.8zM86.0 78.4h.8v.8h-.8zM95.2 61.6h.8v.8h-.8zM96.1 67.6h.8v.8h-.8zM98.9 70.5h.8v.8h-.8zM83.5 88.3h.8v.8h-.8zM95.5 51.7h.8v.8h-.8zM89.7 62.2h.8v.8h-.8zM82.7 74.3h.8v.8h-.8zM99.5 64.8h.8v.8h-.8zM86.3 61.9h.8v.8h-.8zM84.1 85.0h.8v.8h-.8zM104.7 62.9h.8v.8h-.8zM87.4 63.5h.8v.8h-.8zM75.8 73.5h.8v.8h-.8zM72.8 90.3h.8v.8h-.8zM83.3 78.2h.8v.8h-.8zM87.0 74.4h.8v.8h-.8zM81.5 78.5h.8v.8h-.8zM94.7 62.7h.8v.8h-.8zM85.7 79.5h.8v.8h-.8zM94.1 66.9h.8v.8h-.8zM88.2 69.4h.8v.8h-.8zM91.9 65.5h.8v.8h-.8zM83.5 65.9h.8v.8h-.8zM96.1 65.5h.8v.8h-.8zM89.1 71.6h.8v.8h-.8zM86.7 73.5h.8v.8h-.8zM89.8 68.1h.8v.8h-.8zM82.9 63.0h.8v.8h-.8zM84.2 77.5h.8v.8h-.8zM91.9 66.3h.8v.8h-.8zM101.1 68.8h.8v.8h-.8zM98.4 74.9h.8v.8h-.8zM74.0 91.1h.8v.8h-.8zM96.9 71.7h.8v.8h-.8zM91.1 67.6h.8v.8h-.8zM77.9 86.3h.8v.8h-.8zM84.6 73.5h.8v.8h-.8zM95.0 71.8h.8v.8h-.8zM86.8 75.5h.8v.8h-.8zM85.7 81.6h.8v.8h-.8zM86.5 74.6h.8v.8h-.8zM72.2 79.4h.8v.8h-.8zM86.4 75.5h.8v.8h-.8zM80.5 83.1h.8v.8h-.8zM81.2 83.6h.8v.8h-.8zM99.7 57.2h.8v.8h-.8zM80.8 85.9h.8v.8h-.8zM84.6 74.0h.8v.8h-.8zM87.0 79.8h.8v.8h-.8zM83.8 80.6h.8v.8h-.8zM81.2 77.4h.8v.8h-.8zM82.3 69.6h.8v.8h-.8zM85.3 70.2h.8v.8h-.8zM76.1 78.8h.8v.8h-.8zM74.0 81.6h.8v.8h-.8zM91.3 62.6h.8v.8h-.8zM86.0 72.2h.8v.8h-.8zM81.0 75.4h.8v.8h-.8zM85.0 64.2h.8v.8h-.8zM78.6 71.6h.8v.8h-.8zM84.6 78.6h.8v.8h-.8zM96.1 66.6h.8v.8h-.8zM87.4 66.4h.8v.8h-.8zM73.8 78.3h.8v.8h-.8zM83.2 78.0h.8v.8h-.8zM84.1 83.0h.8v.8h-.8zM82.3 63.3h.8v.8h-.8zM87.3 66.6h.8v.8h-.8zM95.5 65.6h.8v.8h-.8zM97.6 74.7h.8v.8h-.8zM77.4 84.0h.8v.8h-.8zM91.7 73.1h.8v.8h-.8zM74.8 83.5h.8v.8h-.8zM97.2 58.1h.8v.8h-.8zM94.1 74.5h.8v.8h-.8zM71.1 81.0h.8v.8h-.8zM85.4 72.4h.8v.8h-.8zM95.6 65.9h.8v.8h-.8zM93.6 60.0h.8v.8h-.8zM85.3 71.3h.8v.8h-.8zM98.3 72.3h.8v.8h-.8zM95.3 70.9h.8v.8h-.8zM71.5 96.0h.8v.8h-.8zM68.4 90.1h.8v.8h-.8zM78.0 90.2h.8v.8h-.8zM72.0 96.0h.8v.8h-.8zM78.3 84.3h.8v.8h-.8zM64.8 90.6h.8v.8h-.8zM78.4 85.5h.8v.8h-.8zM71.8 94.6h.8v.8h-.8zM79.9 83.3h.8v.8h-.8zM70.0 94.1h.8v.8h-.8zM73.8 95.1h.8v.8h-.8zM73.7 91.3h.8v.8h-.8zM68.3 89.4h.8v.8h-.8zM72.1 89.8h.8v.8h-.8zM76.0 86.4h.8v.8h-.8zM73.4 84.4h.8v.8h-.8zM76.3 90.3h.8v.8h-.8zM75.2 96.3h.8v.8h-.8zM75.1 95.9h.8v.8h-.8zM77.4 84.0h.8v.8h-.8zM70.6 100.3h.8v.8h-.8zM71.4 95.8h.8v.8h-.8zM68.1 96.0h.8v.8h-.8zM71.8 88.5h.8v.8h-.8zM63.1 93.9h.8v.8h-.8zM67.2 96.0h.8v.8h-.8zM67.1 90.5h.8v.8h-.8zM68.1 93.6h.8v.8h-.8zM76.8 87.7h.8v.8h-.8zM71.8 89.7h.8v.8h-.8zM80.9 84.3h.8v.8h-.8zM67.1 96.2h.8v.8h-.8zM73.6 87.1h.8v.8h-.8zM65.2 94.1h.8v.8h-.8zM67.1 93.1h.8v.8h-.8zM77.0 92.3h.8v.8h-.8zM66.4 98.9h.8v.8h-.8zM74.3 93.4h.8v.8h-.8zM76.9 93.0h.8v.8h-.8zM78.6 88.7h.8v.8h-.8zM72.1 84.0h.8v.8h-.8zM64.5 95.9h.8v.8h-.8zM75.8 88.2h.8v.8h-.8zM78.6 87.4h.8v.8h-.8zM76.9 95.3h.8v.8h-.8zM73.9 93.7h.8v.8h-.8zM72.0 104.5h.8v.8h-.8zM62.0 106.5h.8v.8h-.8zM67.7 106.9h.8v.8h-.8zM62.8 92.1h.8v.8h-.8zM63.7 102.8h.8v.8h-.8zM62.7 103.8h.8v.8h-.8zM64.5 104.4h.8v.8h-.8zM64.4 101.0h.8v.8h-.8zM65.0 105.1h.8v.8h-.8zM66.6 98.2h.8v.8h-.8zM62.6 101.4h.8v.8h-.8zM71.9 101.3h.8v.8h-.8zM56.4 100.2h.8v.8h-.8zM65.0 99.3h.8v.8h-.8zM65.1 100.5h.8v.8h-.8zM62.4 100.7h.8v.8h-.8zM66.3 105.1h.8v.8h-.8zM60.1 102.8h.8v.8h-.8zM64.0 108.7h.8v.8h-.8zM62.3 103.3h.8v.8h-.8zM67.9 105.7h.8v.8h-.8zM66.6 106.3h.8v.8h-.8zM64.3 109.1h.8v.8h-.8zM60.7 106.7h.8v.8h-.8zM63.1 93.7h.8v.8h-.8zM63.0 104.7h.8v.8h-.8zM64.8 98.9h.8v.8h-.8zM65.5 107.7h.8v.8h-.8zM68.5 105.3h.8v.8h-.8zM64.2 97.2h.8v.8h-.8zM61.8 101.4h.8v.8h-.8zM64.4 91.3h.8v.8h-.8zM62.2 102.7h.8v.8h-.8zM90.4 74.2h.8v.8h-.8zM83.8 82.5h.8v.8h-.8zM107.7 57.8h.8v.8h-.8zM85.6 92.7h.8v.8h-.8zM98.9 74.8h.8v.8h-.8zM64.6 92.4h.8v.8h-.8zM87.2 74.5h.8v.8h-.8zM66.8 71.6h.8v.8h-.8zM93.5 77.3h.8v.8h-.8zM94.9 71.8h.8v.8h-.8zM75.3 91.9h.8v.8h-.8z"/><path fill="#33509f" d="M79.7 80.3h.8v.8h-.8zM90.5 70.2h.8v.8h-.8zM71.8 89.2h.8v.8h-.8zM75.2 90.4h.8v.8h-.8zM96.2 74.3h.8v.8h-.8zM99.2 69.5h.8v.8h-.8zM85.5 73.7h.8v.8h-.8zM96.8 75.5h.8v.8h-.8zM101.7 63.2h.8v.8h-.8zM74.2 77.2h.8v.8h-.8zM93.1 64.0h.8v.8h-.8zM78.8 94.3h.8v.8h-.8zM90.9 65.9h.8v.8h-.8zM93.8 69.5h.8v.8h-.8zM80.4 64.0h.8v.8h-.8zM87.9 75.5h.8v.8h-.8zM79.9 85.1h.8v.8h-.8zM72.9 75.3h.8v.8h-.8zM91.1 69.3h.8v.8h-.8zM89.2 75.1h.8v.8h-.8zM85.9 75.1h.8v.8h-.8zM79.9 70.5h.8v.8h-.8zM78.6 68.9h.8v.8h-.8zM84.2 63.8h.8v.8h-.8zM89.0 71.8h.8v.8h-.8zM80.5 79.8h.8v.8h-.8zM91.1 72.8h.8v.8h-.8zM94.2 74.3h.8v.8h-.8zM82.4 80.7h.8v.8h-.8zM88.5 85.1h.8v.8h-.8zM86.8 76.2h.8v.8h-.8zM90.1 68.3h.8v.8h-.8zM89.2 76.2h.8v.8h-.8zM86.4 59.8h.8v.8h-.8zM91.5 70.3h.8v.8h-.8zM89.7 68.7h.8v.8h-.8zM87.7 78.8h.8v.8h-.8zM82.5 66.6h.8v.8h-.8zM77.0 82.4h.8v.8h-.8zM86.7 78.7h.8v.8h-.8zM92.7 70.6h.8v.8h-.8zM91.7 75.4h.8v.8h-.8zM97.3 54.5h.8v.8h-.8zM93.7 74.3h.8v.8h-.8zM90.5 68.4h.8v.8h-.8zM86.6 80.5h.8v.8h-.8zM85.7 81.1h.8v.8h-.8zM90.1 68.4h.8v.8h-.8zM85.4 69.5h.8v.8h-.8zM80.2 90.1h.8v.8h-.8zM92.8 70.0h.8v.8h-.8zM81.3 66.3h.8v.8h-.8zM84.9 75.4h.8v.8h-.8zM83.9 74.3h.8v.8h-.8zM84.6 75.8h.8v.8h-.8zM89.9 68.1h.8v.8h-.8zM78.2 91.7h.8v.8h-.8zM91.3 73.6h.8v.8h-.8zM103.3 68.6h.8v.8h-.8zM73.2 74.7h.8v.8h-.8zM96.5 67.7h.8v.8h-.8zM86.1 76.7h.8v.8h-.8zM84.7 69.5h.8v.8h-.8zM92.6 68.6h.8v.8h-.8zM80.9 95.1h.8v.8h-.8zM92.3 74.9h.8v.8h-.8zM71.8 81.9h.8v.8h-.8zM85.7 76.7h.8v.8h-.8zM85.8 79.8h.8v.8h-.8zM75.0 88.5h.8v.8h-.8zM85.5 87.1h.8v.8h-.8zM79.2 76.2h.8v.8h-.8zM85.2 72.7h.8v.8h-.8zM97.2 73.1h.8v.8h-.8zM79.0 78.6h.8v.8h-.8zM79.2 84.6h.8v.8h-.8zM88.3 85.4h.8v.8h-.8zM93.6 66.9h.8v.8h-.8zM92.8 60.6h.8v.8h-.8zM74.6 76.6h.8v.8h-.8zM92.2 60.8h.8v.8h-.8zM79.0 72.8h.8v.8h-.8zM69.8 79.8h.8v.8h-.8zM68.3 85.8h.8v.8h-.8zM88.3 72.6h.8v.8h-.8zM76.5 70.8h.8v.8h-.8zM91.6 78.8h.8v.8h-.8zM101.3 63.3h.8v.8h-.8zM95.2 71.6h.8v.8h-.8zM88.6 79.1h.8v.8h-.8zM86.0 68.1h.8v.8h-.8zM101.6 59.0h.8v.8h-.8zM73.0 74.2h.8v.8h-.8zM86.7 76.1h.8v.8h-.8zM90.2 62.7h.8v.8h-.8zM92.5 68.6h.8v.8h-.8zM71.7 88.0h.8v.8h-.8zM83.5 65.1h.8v.8h-.8zM84.5 76.6h.8v.8h-.8zM95.8 65.6h.8v.8h-.8zM83.8 60.9h.8v.8h-.8zM97.1 59.2h.8v.8h-.8zM81.9 83.3h.8v.8h-.8zM96.6 70.0h.8v.8h-.8zM86.7 74.8h.8v.8h-.8zM96.4 64.5h.8v.8h-.8zM84.1 75.9h.8v.8h-.8zM97.3 67.5h.8v.8h-.8zM93.7 62.1h.8v.8h-.8zM88.9 78.5h.8v.8h-.8zM97.0 65.9h.8v.8h-.8zM96.1 73.7h.8v.8h-.8zM79.0 81.9h.8v.8h-.8zM83.3 84.0h.8v.8h-.8zM79.5 82.3h.8v.8h-.8zM90.7 65.0h.8v.8h-.8zM77.7 80.7h.8v.8h-.8zM85.0 60.8h.8v.8h-.8zM83.4 73.6h.8v.8h-.8zM89.9 64.1h.8v.8h-.8zM86.6 72.4h.8v.8h-.8zM73.2 87.9h.8v.8h-.8zM81.7 82.0h.8v.8h-.8zM85.6 79.1h.8v.8h-.8zM87.5 63.6h.8v.8h-.8zM92.8 67.6h.8v.8h-.8zM89.4 68.3h.8v.8h-.8zM91.3 77.7h.8v.8h-.8zM96.0 72.3h.8v.8h-.8zM88.3 73.7h.8v.8h-.8zM101.5 60.2h.8v.8h-.8zM81.3 65.3h.8v.8h-.8zM98.9 69.0h.8v.8h-.8zM88.6 72.1h.8v.8h-.8zM86.7 77.2h.8v.8h-.8zM86.6 71.5h.8v.8h-.8zM79.1 84.8h.8v.8h-.8zM85.2 76.6h.8v.8h-.8zM84.8 78.9h.8v.8h-.8zM82.2 74.7h.8v.8h-.8zM94.9 58.5h.8v.8h-.8zM79.8 78.8h.8v.8h-.8zM79.4 71.4h.8v.8h-.8zM83.5 80.0h.8v.8h-.8zM99.2 68.4h.8v.8h-.8zM100.5 66.9h.8v.8h-.8zM92.0 67.5h.8v.8h-.8zM89.2 77.3h.8v.8h-.8zM107.6 65.0h.8v.8h-.8zM94.9 69.6h.8v.8h-.8zM98.9 68.8h.8v.8h-.8zM85.7 82.0h.8v.8h-.8zM95.6 71.9h.8v.8h-.8zM80.1 67.4h.8v.8h-.8zM94.5 73.5h.8v.8h-.8zM84.0 85.1h.8v.8h-.8zM87.0 75.6h.8v.8h-.8zM85.6 68.2h.8v.8h-.8zM83.5 75.2h.8v.8h-.8zM90.5 70.8h.8v.8h-.8zM101.1 53.7h.8v.8h-.8zM88.9 82.1h.8v.8h-.8zM86.2 75.2h.8v.8h-.8zM93.3 75.1h.8v.8h-.8zM82.4 80.8h.8v.8h-.8zM85.4 76.8h.8v.8h-.8zM93.7 77.7h.8v.8h-.8zM86.6 77.1h.8v.8h-.8zM84.7 90.0h.8v.8h-.8zM78.9 86.5h.8v.8h-.8zM84.7 75.7h.8v.8h-.8zM84.0 83.8h.8v.8h-.8zM72.7 83.5h.8v.8h-.8zM84.4 67.5h.8v.8h-.8zM80.6 89.6h.8v.8h-.8zM86.6 76.2h.8v.8h-.8zM95.0 50.2h.8v.8h-.8zM96.5 70.4h.8v.8h-.8zM90.5 68.6h.8v.8h-.8zM96.7 69.3h.8v.8h-.8zM78.9 80.7h.8v.8h-.8zM72.2 84.6h.8v.8h-.8zM87.3 77.3h.8v.8h-.8zM81.3 71.8h.8v.8h-.8zM79.7 90.5h.8v.8h-.8zM85.6 67.6h.8v.8h-.8zM87.0 82.0h.8v.8h-.8zM95.9 63.7h.8v.8h-.8zM79.0 78.8h.8v.8h-.8zM78.6 86.8h.8v.8h-.8zM92.3 68.5h.8v.8h-.8zM84.6 77.6h.8v.8h-.8zM86.7 68.6h.8v.8h-.8zM91.2 73.5h.8v.8h-.8zM85.1 76.4h.8v.8h-.8zM80.1 73.1h.8v.8h-.8zM103.1 66.6h.8v.8h-.8zM72.0 94.0h.8v.8h-.8zM80.7 87.6h.8v.8h-.8zM67.3 88.5h.8v.8h-.8zM74.7 92.3h.8v.8h-.8zM75.1 85.4h.8v.8h-.8zM75.3 89.7h.8v.8h-.8zM70.8 91.4h.8v.8h-.8zM71.8 94.4h.8v.8h-.8zM80.1 90.0h.8v.8h-.8zM71.7 93.2h.8v.8h-.8zM76.2 86.8h.8v.8h-.8zM70.6 94.4h.8v.8h-.8zM69.1 90.3h.8v.8h-.8zM75.3 90.8h.8v.8h-.8zM70.3 97.3h.8v.8h-.8zM65.6 93.7h.8v.8h-.8zM69.3 95.9h.8v.8h-.8zM74.1 93.4h.8v.8h-.8zM79.3 86.1h.8v.8h-.8zM75.3 94.4h.8v.8h-.8zM69.0 98.1h.8v.8h-.8zM72.4 86.0h.8v.8h-.8zM63.5 99.5h.8v.8h-.8zM73.5 91.1h.8v.8h-.8zM76.7 81.4h.8v.8h-.8zM73.0 96.5h.8v.8h-.8zM68.0 99.3h.8v.8h-.8zM74.3 88.9h.8v.8h-.8zM77.8 88.0h.8v.8h-.8zM73.3 93.3h.8v.8h-.8zM73.5 88.1h.8v.8h-.8zM75.1 93.9h.8v.8h-.8zM72.5 89.3h.8v.8h-.8zM79.4 87.8h.8v.8h-.8zM74.8 97.3h.8v.8h-.8zM75.2 92.6h.8v.8h-.8zM73.0 98.7h.8v.8h-.8zM69.6 98.2h.8v.8h-.8zM72.7 90.3h.8v.8h-.8zM69.5 93.8h.8v.8h-.8zM65.0 96.1h.8v.8h-.8zM63.2 94.1h.8v.8h-.8zM70.4 95.3h.8v.8h-.8zM71.8 86.8h.8v.8h-.8zM64.9 107.3h.8v.8h-.8zM65.2 102.9h.8v.8h-.8zM61.9 107.3h.8v.8h-.8zM62.4 100.4h.8v.8h-.8zM62.7 101.6h.8v.8h-.8zM62.4 100.6h.8v.8h-.8zM69.2 107.2h.8v.8h-.8zM64.2 107.7h.8v.8h-.8zM61.3 103.4h.8v.8h-.8zM62.7 107.1h.8v.8h-.8zM61.4 106.6h.8v.8h-.8zM67.5 99.2h.8v.8h-.8zM64.7 108.4h.8v.8h-.8zM66.6 102.0h.8v.8h-.8zM60.8 102.8h.8v.8h-.8zM71.2 105.4h.8v.8h-.8zM67.9 100.0h.8v.8h-.8zM70.3 101.0h.8v.8h-.8zM70.0 98.9h.8v.8h-.8zM67.9 103.3h.8v.8h-.8zM65.6 101.5h.8v.8h-.8zM68.6 105.7h.8v.8h-.8zM64.5 98.4h.8v.8h-.8zM75.7 69.6h.8v.8h-.8zM82.6 65.9h.8v.8h-.8zM92.7 76.8h.8v.8h-.8zM96.7 51.9h.8v.8h-.8zM85.9 73.4h.8v.8h-.8zM82.9 80.0h.8v.8h-.8zM72.2 87.0h.8v.8h-.8zM77.0 82.5h.8v.8h-.8zM83.5 90.3h.8v.8h-.8zM73.2 88.5h.8v.8h-.8zM84.5 60.0h.8v.8h-.8zM85.7 59.4h.8v.8h-.8zM88.4 90.1h.8v.8h-.8zM78.6 72.7h.8v.8h-.8zM92.9 73.0h.8v.8h-.8zM84.3 59.5h.8v.8h-.8zM85.4 81.6h.8v.8h-.8zM82.9 77.5h.8v.8h-.8zM70.7 90.5h.8v.8h-.8zM79.9 70.0h.8v.8h-.8zM92.3 89.2h.8v.8h-.8z"/><path fill="#5a4cb0" d="M95.1 64.9h.8v.8h-.8zM92.4 76.7h.8v.8h-.8zM82.8 67.9h.8v.8h-.8zM99.2 62.5h.8v.8h-.8zM89.0 72.4h.8v.8h-.8zM93.3 69.3h.8v.8h-.8zM87.2 75.3h.8v.8h-.8zM83.8 70.0h.8v.8h-.8zM98.7 70.4h.8v.8h-.8zM70.6 81.3h.8v.8h-.8zM98.7 64.5h.8v.8h-.8zM86.9 85.5h.8v.8h-.8zM96.4 60.0h.8v.8h-.8zM85.8 59.6h.8v.8h-.8zM75.0 72.4h.8v.8h-.8zM92.9 68.3h.8v.8h-.8zM92.6 65.8h.8v.8h-.8zM88.0 78.9h.8v.8h-.8zM87.4 76.0h.8v.8h-.8zM93.9 73.5h.8v.8h-.8zM81.3 68.4h.8v.8h-.8zM101.7 59.0h.8v.8h-.8zM101.9 63.8h.8v.8h-.8zM77.6 75.8h.8v.8h-.8zM82.9 75.5h.8v.8h-.8zM86.3 65.3h.8v.8h-.8zM98.6 58.8h.8v.8h-.8zM101.9 63.5h.8v.8h-.8zM92.8 70.4h.8v.8h-.8zM98.8 52.8h.8v.8h-.8zM85.0 80.6h.8v.8h-.8zM86.9 65.1h.8v.8h-.8zM82.0 79.7h.8v.8h-.8zM87.1 75.4h.8v.8h-.8zM89.4 77.4h.8v.8h-.8zM87.8 70.8h.8v.8h-.8zM78.4 66.6h.8v.8h-.8zM92.3 79.0h.8v.8h-.8zM90.0 75.3h.8v.8h-.8zM88.8 74.9h.8v.8h-.8zM80.9 79.6h.8v.8h-.8zM94.8 60.2h.8v.8h-.8zM92.7 68.8h.8v.8h-.8zM91.3 65.5h.8v.8h-.8zM88.2 81.0h.8v.8h-.8zM81.2 67.1h.8v.8h-.8zM94.9 67.2h.8v.8h-.8zM81.5 84.9h.8v.8h-.8zM84.1 77.3h.8v.8h-.8zM100.6 54.6h.8v.8h-.8zM74.8 94.9h.8v.8h-.8zM85.4 80.0h.8v.8h-.8zM80.8 80.4h.8v.8h-.8zM70.6 85.4h.8v.8h-.8zM75.0 73.1h.8v.8h-.8zM81.7 79.4h.8v.8h-.8zM89.4 77.4h.8v.8h-.8zM82.7 78.4h.8v.8h-.8zM87.5 74.3h.8v.8h-.8zM83.8 92.3h.8v.8h-.8zM78.3 82.7h.8v.8h-.8zM91.7 66.4h.8v.8h-.8zM89.1 65.5h.8v.8h-.8zM94.7 64.6h.8v.8h-.8zM85.4 71.0h.8v.8h-.8zM86.4 71.1h.8v.8h-.8zM95.9 69.6h.8v.8h-.8zM81.5 83.6h.8v.8h-.8zM75.1 92.5h.8v.8h-.8zM97.3 66.4h.8v.8h-.8zM86.6 75.6h.8v.8h-.8zM93.1 61.9h.8v.8h-.8zM97.2 71.9h.8v.8h-.8zM73.4 81.1h.8v.8h-.8zM82.9 63.3h.8v.8h-.8zM87.3 74.3h.8v.8h-.8zM86.3 60.4h.8v.8h-.8zM74.4 76.9h.8v.8h-.8zM80.9 78.2h.8v.8h-.8zM85.2 77.1h.8v.8h-.8zM103.0 61.7h.8v.8h-.8zM100.4 60.7h.8v.8h-.8zM93.1 58.0h.8v.8h-.8zM77.5 92.0h.8v.8h-.8zM85.4 59.8h.8v.8h-.8zM88.8 59.2h.8v.8h-.8zM84.9 69.9h.8v.8h-.8zM89.2 72.2h.8v.8h-.8zM87.3 81.2h.8v.8h-.8zM88.8 74.8h.8v.8h-.8zM95.4 73.7h.8v.8h-.8zM78.9 88.5h.8v.8h-.8zM88.2 69.2h.8v.8h-.8zM83.9 81.3h.8v.8h-.8zM87.7 71.9h.8v.8h-.8zM89.4 75.4h.8v.8h-.8zM85.1 74.4h.8v.8h-.8zM88.1 74.2h.8v.8h-.8zM89.7 74.5h.8v.8h-.8zM81.3 83.4h.8v.8h-.8zM89.4 75.6h.8v.8h-.8zM86.8 71.6h.8v.8h-.8zM88.1 80.2h.8v.8h-.8zM94.2 64.1h.8v.8h-.8zM84.0 60.1h.8v.8h-.8zM81.4 83.8h.8v.8h-.8zM79.2 81.6h.8v.8h-.8zM93.1 74.9h.8v.8h-.8zM92.0 72.7h.8v.8h-.8zM83.7 65.0h.8v.8h-.8zM93.3 69.6h.8v.8h-.8zM88.7 63.8h.8v.8h-.8zM89.7 58.2h.8v.8h-.8zM80.0 85.8h.8v.8h-.8zM78.0 84.4h.8v.8h-.8zM82.8 71.6h.8v.8h-.8zM92.4 72.5h.8v.8h-.8zM90.9 66.9h.8v.8h-.8zM82.5 84.8h.8v.8h-.8zM85.0 84.4h.8v.8h-.8zM91.4 77.1h.8v.8h-.8zM100.2 63.4h.8v.8h-.8zM82.1 71.8h.8v.8h-.8zM92.3 71.9h.8v.8h-.8zM88.3 71.6h.8v.8h-.8zM84.4 73.8h.8v.8h-.8zM77.0 71.2h.8v.8h-.8zM88.0 68.8h.8v.8h-.8zM78.0 83.3h.8v.8h-.8zM99.1 67.0h.8v.8h-.8zM89.4 77.9h.8v.8h-.8zM89.2 70.9h.8v.8h-.8zM88.4 78.7h.8v.8h-.8zM87.2 60.8h.8v.8h-.8zM88.1 75.1h.8v.8h-.8zM81.6 83.9h.8v.8h-.8zM95.6 60.2h.8v.8h-.8zM81.1 78.6h.8v.8h-.8zM96.2 73.3h.8v.8h-.8zM86.0 74.0h.8v.8h-.8zM86.9 61.7h.8v.8h-.8zM86.1 62.9h.8v.8h-.8zM85.1 76.5h.8v.8h-.8zM102.2 71.3h.8v.8h-.8zM85.9 70.6h.8v.8h-.8zM83.7 77.3h.8v.8h-.8zM94.5 73.6h.8v.8h-.8zM85.1 76.0h.8v.8h-.8zM83.4 75.2h.8v.8h-.8zM79.0 80.3h.8v.8h-.8zM87.9 72.1h.8v.8h-.8zM90.8 65.8h.8v.8h-.8zM98.9 66.4h.8v.8h-.8zM91.7 76.3h.8v.8h-.8zM82.1 69.4h.8v.8h-.8zM83.1 77.4h.8v.8h-.8zM83.3 83.3h.8v.8h-.8zM91.9 75.7h.8v.8h-.8zM71.9 92.6h.8v.8h-.8zM99.7 66.9h.8v.8h-.8zM96.5 77.7h.8v.8h-.8zM80.6 72.7h.8v.8h-.8zM98.5 58.9h.8v.8h-.8zM80.1 70.5h.8v.8h-.8zM95.9 78.5h.8v.8h-.8zM75.7 88.9h.8v.8h-.8zM81.6 78.9h.8v.8h-.8zM82.8 71.9h.8v.8h-.8zM97.0 62.4h.8v.8h-.8zM80.7 71.9h.8v.8h-.8zM91.2 65.5h.8v.8h-.8zM83.2 78.5h.8v.8h-.8zM84.5 77.8h.8v.8h-.8zM87.6 69.9h.8v.8h-.8zM82.0 76.3h.8v.8h-.8zM85.2 66.3h.8v.8h-.8zM83.8 73.4h.8v.8h-.8zM77.9 67.3h.8v.8h-.8zM93.7 65.0h.8v.8h-.8zM90.4 75.4h.8v.8h-.8zM88.0 74.4h.8v.8h-.8zM74.9 82.7h.8v.8h-.8zM92.6 71.2h.8v.8h-.8zM88.9 70.4h.8v.8h-.8zM92.2 63.6h.8v.8h-.8zM82.1 89.6h.8v.8h-.8zM84.5 75.9h.8v.8h-.8zM85.7 80.0h.8v.8h-.8zM83.3 77.4h.8v.8h-.8zM91.2 76.5h.8v.8h-.8zM94.8 70.2h.8v.8h-.8zM101.9 59.9h.8v.8h-.8zM78.2 88.2h.8v.8h-.8zM85.3 68.1h.8v.8h-.8zM95.9 69.3h.8v.8h-.8zM94.9 68.2h.8v.8h-.8zM88.2 76.5h.8v.8h-.8zM77.0 83.6h.8v.8h-.8zM96.1 67.0h.8v.8h-.8zM79.7 83.3h.8v.8h-.8zM93.0 70.5h.8v.8h-.8zM101.4 58.9h.8v.8h-.8zM92.6 69.8h.8v.8h-.8zM99.3 57.4h.8v.8h-.8zM84.2 80.2h.8v.8h-.8zM96.2 73.3h.8v.8h-.8zM91.8 68.4h.8v.8h-.8zM85.5 66.6h.8v.8h-.8zM85.1 66.6h.8v.8h-.8zM100.5 73.5h.8v.8h-.8zM86.7 74.1h.8v.8h-.8zM77.7 85.6h.8v.8h-.8zM90.5 64.3h.8v.8h-.8zM80.2 84.8h.8v.8h-.8zM77.3 84.8h.8v.8h-.8zM80.6 79.1h.8v.8h-.8zM70.9 94.5h.8v.8h-.8zM65.9 98.0h.8v.8h-.8zM70.5 90.3h.8v.8h-.8zM75.7 96.9h.8v.8h-.8zM76.9 95.8h.8v.8h-.8zM74.3 90.7h.8v.8h-.8zM71.6 97.3h.8v.8h-.8zM75.2 85.7h.8v.8h-.8zM69.5 96.5h.8v.8h-.8zM71.1 95.8h.8v.8h-.8zM67.7 101.5h.8v.8h-.8zM73.8 95.1h.8v.8h-.8zM78.3 81.9h.8v.8h-.8zM70.2 92.7h.8v.8h-.8zM70.4 90.2h.8v.8h-.8zM74.7 98.1h.8v.8h-.8zM77.8 88.5h.8v.8h-.8zM75.4 85.3h.8v.8h-.8zM74.0 96.4h.8v.8h-.8zM76.3 89.8h.8v.8h-.8zM69.8 94.5h.8v.8h-.8zM67.3 99.2h.8v.8h-.8zM77.5 89.7h.8v.8h-.8zM67.8 90.6h.8v.8h-.8zM73.3 90.1h.8v.8h-.8zM79.6 86.5h.8v.8h-.8zM76.6 89.1h.8v.8h-.8zM67.1 100.0h.8v.8h-.8zM70.4 91.1h.8v.8h-.8zM76.6 84.4h.8v.8h-.8zM69.3 100.1h.8v.8h-.8zM73.9 95.6h.8v.8h-.8zM69.5 99.3h.8v.8h-.8zM71.7 83.4h.8v.8h-.8zM72.1 92.9h.8v.8h-.8zM78.8 84.9h.8v.8h-.8zM75.5 87.8h.8v.8h-.8zM66.4 89.8h.8v.8h-.8zM66.4 90.4h.8v.8h-.8zM69.7 86.8h.8v.8h-.8zM76.6 92.1h.8v.8h-.8zM69.9 95.3h.8v.8h-.8zM69.5 87.3h.8v.8h-.8zM66.9 90.7h.8v.8h-.8zM62.3 97.2h.8v.8h-.8zM60.6 98.2h.8v.8h-.8zM68.6 96.8h.8v.8h-.8zM60.5 102.9h.8v.8h-.8zM64.2 100.9h.8v.8h-.8zM68.5 103.6h.8v.8h-.8zM68.5 95.7h.8v.8h-.8zM62.3 97.3h.8v.8h-.8zM60.6 103.9h.8v.8h-.8zM63.9 95.7h.8v.8h-.8zM65.5 103.6h.8v.8h-.8zM62.4 107.2h.8v.8h-.8zM65.2 101.0h.8v.8h-.8zM65.5 102.5h.8v.8h-.8zM66.8 103.9h.8v.8h-.8zM64.3 102.6h.8v.8h-.8zM61.2 101.3h.8v.8h-.8zM69.1 99.9h.8v.8h-.8zM66.3 109.2h.8v.8h-.8zM69.4 101.9h.8v.8h-.8zM68.1 99.6h.8v.8h-.8zM71.6 99.3h.8v.8h-.8zM64.8 109.2h.8v.8h-.8zM63.8 104.5h.8v.8h-.8zM61.9 99.3h.8v.8h-.8zM57.4 98.5h.8v.8h-.8zM69.5 106.4h.8v.8h-.8zM57.5 102.0h.8v.8h-.8zM64.8 103.2h.8v.8h-.8zM64.0 103.1h.8v.8h-.8zM56.3 104.3h.8v.8h-.8zM58.9 103.0h.8v.8h-.8zM60.2 104.2h.8v.8h-.8zM63.2 100.3h.8v.8h-.8zM66.0 100.1h.8v.8h-.8zM62.1 107.4h.8v.8h-.8zM61.3 101.7h.8v.8h-.8zM66.3 103.5h.8v.8h-.8zM86.8 87.2h.8v.8h-.8zM97.6 58.5h.8v.8h-.8zM75.9 90.4h.8v.8h-.8zM95.0 88.7h.8v.8h-.8zM85.1 64.7h.8v.8h-.8zM72.1 90.0h.8v.8h-.8zM94.6 45.8h.8v.8h-.8zM56.6 88.5h.8v.8h-.8zM88.4 76.8h.8v.8h-.8zM87.4 76.1h.8v.8h-.8zM89.1 74.4h.8v.8h-.8zM93.6 64.3h.8v.8h-.8zM90.0 58.8h.8v.8h-.8zM108.1 63.8h.8v.8h-.8zM78.3 70.7h.8v.8h-.8zM97.0 80.7h.8v.8h-.8zM110.5 59.0h.8v.8h-.8zM87.2 73.7h.8v.8h-.8zM80.3 69.1h.8v.8h-.8zM83.9 65.1h.8v.8h-.8zM82.5 52.9h.8v.8h-.8zM99.2 67.7h.8v.8h-.8z"/><path fill="#7a6ccc" d="M92.4 70.2h.8v.8h-.8zM79.8 76.0h.8v.8h-.8zM80.2 73.8h.8v.8h-.8zM88.1 81.3h.8v.8h-.8zM82.4 80.7h.8v.8h-.8zM90.2 68.6h.8v.8h-.8zM80.1 88.1h.8v.8h-.8zM98.4 61.8h.8v.8h-.8zM84.8 85.7h.8v.8h-.8zM75.2 81.4h.8v.8h-.8zM94.3 66.7h.8v.8h-.8zM90.0 75.4h.8v.8h-.8zM92.1 64.0h.8v.8h-.8zM86.9 68.9h.8v.8h-.8zM94.7 62.3h.8v.8h-.8zM84.0 71.9h.8v.8h-.8zM93.2 66.6h.8v.8h-.8zM86.2 81.4h.8v.8h-.8zM81.6 70.3h.8v.8h-.8zM68.2 89.3h.8v.8h-.8zM82.0 62.6h.8v.8h-.8zM88.3 75.8h.8v.8h-.8zM81.7 71.5h.8v.8h-.8zM85.6 83.8h.8v.8h-.8zM96.9 74.2h.8v.8h-.8zM95.4 65.2h.8v.8h-.8zM86.7 70.2h.8v.8h-.8zM89.5 60.4h.8v.8h-.8zM87.8 66.2h.8v.8h-.8zM88.1 71.7h.8v.8h-.8zM83.8 69.6h.8v.8h-.8zM85.9 86.9h.8v.8h-.8zM93.8 64.6h.8v.8h-.8zM77.3 80.0h.8v.8h-.8zM88.2 73.5h.8v.8h-.8zM95.1 64.0h.8v.8h-.8zM83.4 77.5h.8v.8h-.8zM83.6 76.7h.8v.8h-.8zM81.9 72.1h.8v.8h-.8zM85.7 76.9h.8v.8h-.8zM84.0 78.0h.8v.8h-.8zM90.4 75.0h.8v.8h-.8zM82.2 83.9h.8v.8h-.8zM83.4 82.5h.8v.8h-.8zM80.3 92.7h.8v.8h-.8zM75.8 85.1h.8v.8h-.8zM79.9 84.5h.8v.8h-.8zM84.4 80.4h.8v.8h-.8zM80.0 83.9h.8v.8h-.8zM85.0 72.6h.8v.8h-.8zM92.1 64.5h.8v.8h-.8zM70.3 77.0h.8v.8h-.8zM91.2 64.9h.8v.8h-.8zM86.0 72.2h.8v.8h-.8zM87.5 72.9h.8v.8h-.8zM89.9 68.3h.8v.8h-.8zM92.8 73.0h.8v.8h-.8zM80.1 89.3h.8v.8h-.8zM90.2 66.1h.8v.8h-.8zM94.8 60.4h.8v.8h-.8zM93.3 65.9h.8v.8h-.8zM96.3 66.8h.8v.8h-.8zM83.5 73.9h.8v.8h-.8zM79.9 78.4h.8v.8h-.8zM81.5 70.8h.8v.8h-.8zM80.3 84.7h.8v.8h-.8zM86.6 66.5h.8v.8h-.8zM92.7 61.3h.8v.8h-.8zM89.0 64.1h.8v.8h-.8zM93.8 66.0h.8v.8h-.8zM87.2 69.4h.8v.8h-.8zM82.1 79.4h.8v.8h-.8zM79.1 69.1h.8v.8h-.8zM83.3 77.3h.8v.8h-.8zM86.9 83.5h.8v.8h-.8zM89.5 74.3h.8v.8h-.8zM96.2 71.6h.8v.8h-.8zM73.7 88.0h.8v.8h-.8zM100.6 72.6h.8v.8h-.8zM95.4 57.9h.8v.8h-.8zM95.2 63.2h.8v.8h-.8zM86.8 74.9h.8v.8h-.8zM97.3 61.2h.8v.8h-.8zM88.3 58.4h.8v.8h-.8zM79.3 86.6h.8v.8h-.8zM75.5 89.8h.8v.8h-.8zM90.9 63.6h.8v.8h-.8zM95.3 74.4h.8v.8h-.8zM89.8 77.5h.8v.8h-.8zM94.5 64.4h.8v.8h-.8zM86.2 79.0h.8v.8h-.8zM96.3 75.6h.8v.8h-.8zM100.1 66.8h.8v.8h-.8zM86.2 70.0h.8v.8h-.8zM86.6 77.3h.8v.8h-.8zM80.9 78.5h.8v.8h-.8zM73.9 76.1h.8v.8h-.8zM84.8 81.6h.8v.8h-.8zM87.7 79.8h.8v.8h-.8zM97.1 63.9h.8v.8h-.8zM94.2 64.8h.8v.8h-.8zM81.9 74.9h.8v.8h-.8zM75.1 78.7h.8v.8h-.8zM87.0 82.5h.8v.8h-.8zM81.3 85.0h.8v.8h-.8zM93.1 78.7h.8v.8h-.8zM85.7 70.1h.8v.8h-.8zM89.7 57.0h.8v.8h-.8zM76.9 89.7h.8v.8h-.8zM100.1 71.8h.8v.8h-.8zM78.4 80.5h.8v.8h-.8zM81.2 80.4h.8v.8h-.8zM84.9 68.4h.8v.8h-.8zM89.0 69.6h.8v.8h-.8zM94.3 73.2h.8v.8h-.8zM92.1 57.0h.8v.8h-.8zM87.9 82.6h.8v.8h-.8zM82.5 84.7h.8v.8h-.8zM97.6 68.8h.8v.8h-.8zM84.7 60.5h.8v.8h-.8zM88.9 81.5h.8v.8h-.8zM91.1 70.9h.8v.8h-.8zM88.6 76.8h.8v.8h-.8zM79.7 84.4h.8v.8h-.8zM96.3 74.1h.8v.8h-.8zM81.0 83.1h.8v.8h-.8zM83.6 75.5h.8v.8h-.8zM77.2 92.9h.8v.8h-.8zM92.9 71.2h.8v.8h-.8zM78.0 81.5h.8v.8h-.8zM84.2 72.8h.8v.8h-.8zM93.6 75.4h.8v.8h-.8zM88.8 56.4h.8v.8h-.8zM84.1 77.8h.8v.8h-.8zM82.6 72.4h.8v.8h-.8zM99.8 71.1h.8v.8h-.8zM97.0 67.0h.8v.8h-.8zM87.7 66.0h.8v.8h-.8zM91.6 71.8h.8v.8h-.8zM81.0 73.0h.8v.8h-.8zM79.1 81.9h.8v.8h-.8zM97.0 70.9h.8v.8h-.8zM93.4 69.4h.8v.8h-.8zM87.4 80.5h.8v.8h-.8zM93.0 60.1h.8v.8h-.8zM87.2 77.3h.8v.8h-.8zM79.0 83.2h.8v.8h-.8zM92.9 71.3h.8v.8h-.8zM77.7 88.4h.8v.8h-.8zM83.5 74.9h.8v.8h-.8zM88.3 72.9h.8v.8h-.8zM92.2 78.5h.8v.8h-.8zM81.9 73.8h.8v.8h-.8zM87.9 71.5h.8v.8h-.8zM98.8 71.8h.8v.8h-.8zM80.5 73.8h.8v.8h-.8zM94.1 67.5h.8v.8h-.8zM88.8 70.7h.8v.8h-.8zM74.1 81.3h.8v.8h-.8zM97.9 75.6h.8v.8h-.8zM89.1 79.7h.8v.8h-.8zM84.8 86.4h.8v.8h-.8zM92.4 71.7h.8v.8h-.8zM71.3 82.8h.8v.8h-.8zM78.9 81.3h.8v.8h-.8zM76.1 87.5h.8v.8h-.8zM86.1 78.4h.8v.8h-.8zM84.7 63.0h.8v.8h-.8zM79.9 67.0h.8v.8h-.8zM95.9 68.3h.8v.8h-.8zM89.5 70.8h.8v.8h-.8zM88.3 63.8h.8v.8h-.8zM83.9 73.7h.8v.8h-.8zM84.5 67.2h.8v.8h-.8zM73.6 88.5h.8v.8h-.8zM98.8 62.5h.8v.8h-.8zM95.0 69.5h.8v.8h-.8zM76.1 78.2h.8v.8h-.8zM89.6 76.2h.8v.8h-.8zM76.3 91.7h.8v.8h-.8zM89.6 68.2h.8v.8h-.8zM81.9 70.9h.8v.8h-.8zM80.4 84.3h.8v.8h-.8zM101.4 61.3h.8v.8h-.8zM79.8 72.0h.8v.8h-.8zM92.5 76.9h.8v.8h-.8zM91.2 73.2h.8v.8h-.8zM91.7 64.5h.8v.8h-.8zM88.8 65.1h.8v.8h-.8zM89.1 74.2h.8v.8h-.8zM76.9 78.5h.8v.8h-.8zM87.8 74.3h.8v.8h-.8zM95.2 69.0h.8v.8h-.8zM88.6 75.7h.8v.8h-.8zM86.1 86.3h.8v.8h-.8zM74.9 79.4h.8v.8h-.8zM91.0 65.7h.8v.8h-.8zM95.5 62.7h.8v.8h-.8zM93.4 62.0h.8v.8h-.8zM78.8 82.3h.8v.8h-.8zM92.0 67.4h.8v.8h-.8zM96.2 75.4h.8v.8h-.8zM92.2 64.9h.8v.8h-.8zM89.5 69.6h.8v.8h-.8zM90.1 76.6h.8v.8h-.8zM73.4 75.2h.8v.8h-.8zM97.5 66.5h.8v.8h-.8zM79.5 85.1h.8v.8h-.8zM93.3 76.8h.8v.8h-.8zM90.3 66.0h.8v.8h-.8zM71.8 92.6h.8v.8h-.8zM69.0 92.7h.8v.8h-.8zM65.8 88.9h.8v.8h-.8zM64.7 99.9h.8v.8h-.8zM77.0 84.9h.8v.8h-.8zM70.1 87.8h.8v.8h-.8zM73.8 89.0h.8v.8h-.8zM74.1 93.7h.8v.8h-.8zM73.9 92.0h.8v.8h-.8zM70.6 91.3h.8v.8h-.8zM72.2 90.5h.8v.8h-.8zM70.8 94.6h.8v.8h-.8zM73.0 88.8h.8v.8h-.8zM78.5 92.6h.8v.8h-.8zM71.7 89.1h.8v.8h-.8zM73.1 88.3h.8v.8h-.8zM78.3 83.5h.8v.8h-.8zM68.5 102.5h.8v.8h-.8zM65.8 99.9h.8v.8h-.8zM69.7 94.6h.8v.8h-.8zM70.0 95.4h.8v.8h-.8zM75.2 85.8h.8v.8h-.8zM71.5 96.9h.8v.8h-.8zM74.1 91.1h.8v.8h-.8zM68.1 93.4h.8v.8h-.8zM67.7 87.1h.8v.8h-.8zM69.1 99.0h.8v.8h-.8zM70.6 94.2h.8v.8h-.8zM74.8 86.4h.8v.8h-.8zM73.9 93.4h.8v.8h-.8zM75.0 90.1h.8v.8h-.8zM73.2 96.6h.8v.8h-.8zM64.7 96.2h.8v.8h-.8zM71.4 93.9h.8v.8h-.8zM79.3 90.2h.8v.8h-.8zM76.3 93.2h.8v.8h-.8zM69.6 94.0h.8v.8h-.8zM65.7 108.1h.8v.8h-.8zM71.4 100.7h.8v.8h-.8zM67.6 102.6h.8v.8h-.8zM65.7 93.3h.8v.8h-.8zM64.9 99.0h.8v.8h-.8zM63.7 97.5h.8v.8h-.8zM64.2 112.3h.8v.8h-.8zM62.3 103.5h.8v.8h-.8zM65.3 109.2h.8v.8h-.8zM66.7 105.0h.8v.8h-.8zM63.1 102.2h.8v.8h-.8zM63.0 94.1h.8v.8h-.8zM66.5 104.1h.8v.8h-.8zM67.8 97.0h.8v.8h-.8zM68.8 100.7h.8v.8h-.8zM63.5 105.8h.8v.8h-.8zM70.1 100.3h.8v.8h-.8zM63.0 103.4h.8v.8h-.8zM62.6 108.5h.8v.8h-.8zM61.6 106.1h.8v.8h-.8zM70.1 98.4h.8v.8h-.8zM64.4 103.3h.8v.8h-.8zM59.4 100.5h.8v.8h-.8zM68.1 106.2h.8v.8h-.8zM59.7 107.6h.8v.8h-.8zM64.2 105.6h.8v.8h-.8zM64.5 99.1h.8v.8h-.8zM66.1 102.9h.8v.8h-.8zM60.8 100.0h.8v.8h-.8zM69.4 101.8h.8v.8h-.8zM57.3 103.3h.8v.8h-.8zM58.0 98.0h.8v.8h-.8zM85.9 85.8h.8v.8h-.8zM85.4 81.8h.8v.8h-.8zM98.2 46.0h.8v.8h-.8zM79.5 70.6h.8v.8h-.8zM74.8 72.8h.8v.8h-.8zM84.8 60.6h.8v.8h-.8zM71.9 82.4h.8v.8h-.8zM92.6 81.4h.8v.8h-.8zM98.1 62.5h.8v.8h-.8zM97.4 39.6h.8v.8h-.8zM79.3 71.0h.8v.8h-.8zM105.4 59.2h.8v.8h-.8zM100.5 73.2h.8v.8h-.8zM74.1 93.7h.8v.8h-.8zM81.9 103.1h.8v.8h-.8zM99.3 60.0h.8v.8h-.8zM84.0 61.7h.8v.8h-.8zM99.6 66.3h.8v.8h-.8zM88.8 77.7h.8v.8h-.8zM84.8 68.1h.8v.8h-.8zM114.0 63.9h.8v.8h-.8z"/><path fill="#6a3a9a" d="M68.5 82.0h.8v.8h-.8zM95.5 72.0h.8v.8h-.8zM88.9 65.8h.8v.8h-.8zM77.6 75.8h.8v.8h-.8zM98.0 68.1h.8v.8h-.8zM100.3 61.0h.8v.8h-.8zM88.6 72.3h.8v.8h-.8zM91.1 72.4h.8v.8h-.8zM79.6 87.5h.8v.8h-.8zM87.6 71.5h.8v.8h-.8zM91.4 70.9h.8v.8h-.8zM100.6 68.0h.8v.8h-.8zM100.0 68.8h.8v.8h-.8zM71.9 76.1h.8v.8h-.8zM89.4 74.3h.8v.8h-.8zM92.5 66.2h.8v.8h-.8zM89.7 62.4h.8v.8h-.8zM87.5 74.7h.8v.8h-.8zM83.1 62.4h.8v.8h-.8zM94.1 53.1h.8v.8h-.8zM89.2 63.3h.8v.8h-.8zM87.2 70.2h.8v.8h-.8zM86.6 72.7h.8v.8h-.8zM83.7 81.2h.8v.8h-.8zM88.0 77.2h.8v.8h-.8zM84.5 80.6h.8v.8h-.8zM96.0 69.3h.8v.8h-.8zM83.6 71.1h.8v.8h-.8zM76.2 83.4h.8v.8h-.8zM91.8 61.1h.8v.8h-.8zM89.8 65.7h.8v.8h-.8zM96.2 61.6h.8v.8h-.8zM91.0 71.8h.8v.8h-.8zM93.4 67.6h.8v.8h-.8zM88.1 67.5h.8v.8h-.8zM98.9 60.8h.8v.8h-.8zM86.9 73.1h.8v.8h-.8zM91.6 66.2h.8v.8h-.8zM86.7 69.3h.8v.8h-.8zM98.1 71.4h.8v.8h-.8zM84.1 76.0h.8v.8h-.8zM84.5 70.7h.8v.8h-.8zM90.2 75.8h.8v.8h-.8zM92.2 74.7h.8v.8h-.8zM85.1 80.4h.8v.8h-.8zM82.4 91.4h.8v.8h-.8zM87.6 78.1h.8v.8h-.8zM98.8 58.8h.8v.8h-.8zM88.1 71.0h.8v.8h-.8zM81.6 76.5h.8v.8h-.8zM79.4 86.1h.8v.8h-.8zM90.3 72.7h.8v.8h-.8zM87.0 78.8h.8v.8h-.8zM86.2 60.3h.8v.8h-.8zM90.3 66.5h.8v.8h-.8zM84.9 75.9h.8v.8h-.8zM91.4 64.0h.8v.8h-.8zM92.2 74.4h.8v.8h-.8zM76.5 69.2h.8v.8h-.8zM80.2 81.3h.8v.8h-.8zM93.8 60.0h.8v.8h-.8zM88.5 71.1h.8v.8h-.8zM87.7 76.0h.8v.8h-.8zM90.2 68.1h.8v.8h-.8zM84.4 69.4h.8v.8h-.8zM86.9 85.1h.8v.8h-.8zM89.7 73.8h.8v.8h-.8zM79.0 82.4h.8v.8h-.8zM99.5 63.0h.8v.8h-.8zM86.0 73.9h.8v.8h-.8zM75.4 78.4h.8v.8h-.8zM88.3 65.3h.8v.8h-.8zM80.5 85.2h.8v.8h-.8zM90.7 70.0h.8v.8h-.8zM89.0 70.8h.8v.8h-.8zM93.2 59.9h.8v.8h-.8zM87.0 75.3h.8v.8h-.8zM90.3 66.0h.8v.8h-.8zM85.8 75.8h.8v.8h-.8zM96.2 70.2h.8v.8h-.8zM81.0 86.6h.8v.8h-.8zM94.6 68.0h.8v.8h-.8zM85.3 74.2h.8v.8h-.8zM79.9 89.0h.8v.8h-.8zM74.3 84.6h.8v.8h-.8zM96.6 63.5h.8v.8h-.8zM77.8 94.7h.8v.8h-.8zM97.9 65.7h.8v.8h-.8zM87.8 75.8h.8v.8h-.8zM83.2 81.4h.8v.8h-.8zM87.9 85.8h.8v.8h-.8zM91.4 70.2h.8v.8h-.8zM94.9 76.9h.8v.8h-.8zM96.1 73.3h.8v.8h-.8zM83.7 78.0h.8v.8h-.8zM79.1 83.2h.8v.8h-.8zM72.2 74.5h.8v.8h-.8zM89.1 80.4h.8v.8h-.8zM80.8 63.2h.8v.8h-.8zM90.9 69.2h.8v.8h-.8zM88.4 72.3h.8v.8h-.8zM97.5 57.2h.8v.8h-.8zM83.6 85.6h.8v.8h-.8zM93.6 64.7h.8v.8h-.8zM79.7 77.8h.8v.8h-.8zM90.4 76.2h.8v.8h-.8zM83.1 78.4h.8v.8h-.8zM107.3 63.7h.8v.8h-.8zM90.8 65.6h.8v.8h-.8zM96.1 66.5h.8v.8h-.8zM84.9 79.9h.8v.8h-.8zM102.1 69.3h.8v.8h-.8zM89.9 69.4h.8v.8h-.8zM83.8 68.3h.8v.8h-.8zM83.4 68.1h.8v.8h-.8zM82.6 65.2h.8v.8h-.8zM72.5 75.9h.8v.8h-.8zM91.1 76.3h.8v.8h-.8zM79.8 76.3h.8v.8h-.8zM91.0 68.6h.8v.8h-.8zM75.5 82.3h.8v.8h-.8zM87.8 77.5h.8v.8h-.8zM88.1 67.1h.8v.8h-.8zM87.0 74.0h.8v.8h-.8zM88.6 59.5h.8v.8h-.8zM79.8 67.5h.8v.8h-.8zM86.2 77.3h.8v.8h-.8zM85.6 85.2h.8v.8h-.8zM91.4 63.4h.8v.8h-.8zM88.2 73.9h.8v.8h-.8zM93.6 71.3h.8v.8h-.8zM87.0 69.3h.8v.8h-.8zM101.7 60.0h.8v.8h-.8zM81.9 79.1h.8v.8h-.8zM91.4 61.3h.8v.8h-.8zM85.8 76.6h.8v.8h-.8zM87.8 82.6h.8v.8h-.8zM93.1 70.2h.8v.8h-.8zM80.6 74.6h.8v.8h-.8zM79.5 67.3h.8v.8h-.8zM94.1 59.1h.8v.8h-.8zM99.1 62.2h.8v.8h-.8zM86.0 71.9h.8v.8h-.8zM78.7 71.9h.8v.8h-.8zM90.3 84.7h.8v.8h-.8zM99.9 59.4h.8v.8h-.8zM84.7 83.3h.8v.8h-.8zM90.6 77.0h.8v.8h-.8zM91.3 82.0h.8v.8h-.8zM85.2 76.2h.8v.8h-.8zM77.0 82.3h.8v.8h-.8zM77.9 75.1h.8v.8h-.8zM87.3 84.6h.8v.8h-.8zM91.1 65.2h.8v.8h-.8zM88.6 72.5h.8v.8h-.8zM87.4 86.4h.8v.8h-.8zM83.2 84.1h.8v.8h-.8zM93.4 57.8h.8v.8h-.8zM78.0 89.7h.8v.8h-.8zM85.6 77.7h.8v.8h-.8zM94.2 68.4h.8v.8h-.8zM84.8 80.1h.8v.8h-.8zM77.9 91.3h.8v.8h-.8zM87.8 73.8h.8v.8h-.8zM83.9 74.2h.8v.8h-.8zM72.7 88.3h.8v.8h-.8zM92.0 70.6h.8v.8h-.8zM94.8 74.1h.8v.8h-.8zM91.5 62.4h.8v.8h-.8zM83.3 76.3h.8v.8h-.8zM84.3 79.0h.8v.8h-.8zM90.4 69.2h.8v.8h-.8zM82.6 81.5h.8v.8h-.8zM89.0 77.6h.8v.8h-.8zM105.3 60.5h.8v.8h-.8zM94.7 64.2h.8v.8h-.8zM84.5 86.7h.8v.8h-.8zM101.5 54.6h.8v.8h-.8zM98.1 63.2h.8v.8h-.8zM87.4 73.8h.8v.8h-.8zM85.1 66.9h.8v.8h-.8zM93.1 59.5h.8v.8h-.8zM76.9 85.1h.8v.8h-.8zM78.3 77.7h.8v.8h-.8zM81.6 81.5h.8v.8h-.8zM77.5 81.5h.8v.8h-.8zM87.1 69.9h.8v.8h-.8zM93.1 73.5h.8v.8h-.8zM99.0 62.3h.8v.8h-.8zM86.8 81.5h.8v.8h-.8zM86.9 81.9h.8v.8h-.8zM85.9 80.9h.8v.8h-.8zM95.4 65.7h.8v.8h-.8zM91.8 66.3h.8v.8h-.8zM81.9 75.0h.8v.8h-.8zM95.8 67.0h.8v.8h-.8zM80.7 89.8h.8v.8h-.8zM93.2 65.4h.8v.8h-.8zM83.8 78.8h.8v.8h-.8zM90.9 71.1h.8v.8h-.8zM87.7 73.9h.8v.8h-.8zM80.9 79.8h.8v.8h-.8zM87.6 71.7h.8v.8h-.8zM83.3 73.5h.8v.8h-.8zM100.1 64.8h.8v.8h-.8zM87.6 81.1h.8v.8h-.8zM86.7 77.0h.8v.8h-.8zM79.8 64.5h.8v.8h-.8zM83.7 91.0h.8v.8h-.8zM73.4 84.0h.8v.8h-.8zM98.4 66.2h.8v.8h-.8zM101.2 69.7h.8v.8h-.8zM97.4 68.2h.8v.8h-.8zM74.3 75.7h.8v.8h-.8zM75.9 85.1h.8v.8h-.8zM87.3 75.0h.8v.8h-.8zM83.3 77.6h.8v.8h-.8zM73.5 78.3h.8v.8h-.8zM70.6 81.0h.8v.8h-.8zM95.3 53.3h.8v.8h-.8zM76.3 91.0h.8v.8h-.8zM83.8 65.2h.8v.8h-.8zM85.4 76.3h.8v.8h-.8zM96.8 76.7h.8v.8h-.8zM99.0 52.5h.8v.8h-.8zM79.9 70.7h.8v.8h-.8zM96.8 70.6h.8v.8h-.8zM84.5 89.6h.8v.8h-.8zM86.9 60.9h.8v.8h-.8zM75.3 78.0h.8v.8h-.8zM94.7 75.2h.8v.8h-.8zM72.5 85.9h.8v.8h-.8zM89.7 71.0h.8v.8h-.8zM68.0 100.1h.8v.8h-.8zM75.9 83.3h.8v.8h-.8zM77.8 88.8h.8v.8h-.8zM78.6 85.7h.8v.8h-.8zM73.5 97.4h.8v.8h-.8zM65.9 91.6h.8v.8h-.8zM74.1 87.3h.8v.8h-.8zM68.6 92.2h.8v.8h-.8zM72.9 89.0h.8v.8h-.8zM73.2 92.5h.8v.8h-.8zM83.7 87.9h.8v.8h-.8zM80.0 89.7h.8v.8h-.8zM71.0 96.7h.8v.8h-.8zM72.7 92.4h.8v.8h-.8zM67.3 100.0h.8v.8h-.8zM69.9 95.0h.8v.8h-.8zM72.6 92.0h.8v.8h-.8zM65.3 95.4h.8v.8h-.8zM75.8 88.4h.8v.8h-.8zM72.2 89.3h.8v.8h-.8zM81.8 87.6h.8v.8h-.8zM72.9 91.6h.8v.8h-.8zM69.5 98.3h.8v.8h-.8zM72.0 83.8h.8v.8h-.8zM70.5 95.2h.8v.8h-.8zM71.4 92.9h.8v.8h-.8zM70.8 96.6h.8v.8h-.8zM64.2 98.5h.8v.8h-.8zM78.5 85.1h.8v.8h-.8zM76.7 95.9h.8v.8h-.8zM69.9 91.1h.8v.8h-.8zM73.5 92.4h.8v.8h-.8zM70.8 96.5h.8v.8h-.8zM72.8 88.8h.8v.8h-.8zM74.0 87.2h.8v.8h-.8zM68.1 96.1h.8v.8h-.8zM79.5 87.0h.8v.8h-.8zM72.1 96.2h.8v.8h-.8zM71.4 92.2h.8v.8h-.8zM73.8 83.6h.8v.8h-.8zM68.2 85.7h.8v.8h-.8zM68.9 97.1h.8v.8h-.8zM78.0 82.3h.8v.8h-.8zM81.5 87.6h.8v.8h-.8zM73.4 88.1h.8v.8h-.8zM71.9 88.9h.8v.8h-.8zM83.2 89.1h.8v.8h-.8zM72.7 90.9h.8v.8h-.8zM66.1 98.5h.8v.8h-.8zM69.5 94.7h.8v.8h-.8zM61.9 97.2h.8v.8h-.8zM72.7 99.3h.8v.8h-.8zM76.4 91.4h.8v.8h-.8zM75.0 91.6h.8v.8h-.8zM71.6 98.9h.8v.8h-.8zM77.9 84.2h.8v.8h-.8zM72.4 103.8h.8v.8h-.8zM60.1 102.2h.8v.8h-.8zM60.6 102.2h.8v.8h-.8zM62.6 112.0h.8v.8h-.8zM64.6 107.1h.8v.8h-.8zM61.2 104.2h.8v.8h-.8zM62.1 109.3h.8v.8h-.8zM67.7 97.8h.8v.8h-.8zM66.5 98.4h.8v.8h-.8zM64.6 101.7h.8v.8h-.8zM56.5 104.2h.8v.8h-.8zM67.7 100.8h.8v.8h-.8zM62.7 105.5h.8v.8h-.8zM66.2 102.6h.8v.8h-.8zM62.4 108.0h.8v.8h-.8zM70.9 101.4h.8v.8h-.8zM64.7 100.0h.8v.8h-.8zM64.4 97.9h.8v.8h-.8zM63.5 107.5h.8v.8h-.8zM65.0 97.6h.8v.8h-.8zM64.0 103.1h.8v.8h-.8zM60.3 105.8h.8v.8h-.8zM61.3 106.0h.8v.8h-.8zM63.7 109.2h.8v.8h-.8zM69.3 97.8h.8v.8h-.8zM64.3 103.1h.8v.8h-.8zM64.1 111.1h.8v.8h-.8zM59.7 95.6h.8v.8h-.8zM66.3 106.0h.8v.8h-.8zM60.7 103.4h.8v.8h-.8zM61.8 95.6h.8v.8h-.8zM84.1 59.3h.8v.8h-.8zM90.2 61.4h.8v.8h-.8zM82.0 72.2h.8v.8h-.8zM66.1 70.7h.8v.8h-.8zM64.7 87.6h.8v.8h-.8zM66.3 88.1h.8v.8h-.8zM112.2 59.6h.8v.8h-.8zM89.3 76.6h.8v.8h-.8zM77.8 84.9h.8v.8h-.8zM90.3 85.5h.8v.8h-.8zM82.1 99.1h.8v.8h-.8zM86.7 79.8h.8v.8h-.8zM73.2 100.2h.8v.8h-.8zM66.9 81.4h.8v.8h-.8zM86.4 80.6h.8v.8h-.8zM109.4 70.3h.8v.8h-.8zM82.4 65.1h.8v.8h-.8zM75.3 87.0h.8v.8h-.8zM95.7 64.7h.8v.8h-.8zM69.4 68.6h.8v.8h-.8z"/><path fill="#4a88d4" d="M79.0 79.1h.8v.8h-.8zM88.1 66.5h.8v.8h-.8zM83.1 71.3h.8v.8h-.8zM79.0 72.9h.8v.8h-.8zM78.2 79.6h.8v.8h-.8zM78.6 72.5h.8v.8h-.8zM87.6 68.9h.8v.8h-.8zM84.7 72.0h.8v.8h-.8zM89.4 60.7h.8v.8h-.8zM80.5 71.9h.8v.8h-.8zM93.6 57.5h.8v.8h-.8zM93.4 57.0h.8v.8h-.8zM76.1 82.0h.8v.8h-.8zM79.6 75.0h.8v.8h-.8zM87.2 69.1h.8v.8h-.8zM83.1 74.1h.8v.8h-.8zM86.6 66.1h.8v.8h-.8zM84.4 69.4h.8v.8h-.8zM78.8 78.1h.8v.8h-.8zM89.9 60.8h.8v.8h-.8zM91.1 60.9h.8v.8h-.8zM70.2 85.3h.8v.8h-.8zM76.0 82.6h.8v.8h-.8zM75.5 78.7h.8v.8h-.8zM82.0 71.4h.8v.8h-.8zM87.2 69.4h.8v.8h-.8zM94.1 58.7h.8v.8h-.8zM84.4 72.5h.8v.8h-.8zM78.5 76.1h.8v.8h-.8zM70.5 86.4h.8v.8h-.8zM90.5 63.2h.8v.8h-.8zM95.1 58.4h.8v.8h-.8zM73.5 84.3h.8v.8h-.8zM95.8 56.6h.8v.8h-.8zM80.3 74.6h.8v.8h-.8zM86.5 66.0h.8v.8h-.8zM92.7 60.3h.8v.8h-.8zM86.3 65.4h.8v.8h-.8zM73.6 84.0h.8v.8h-.8zM83.9 66.7h.8v.8h-.8zM81.0 72.0h.8v.8h-.8zM75.5 79.1h.8v.8h-.8zM87.4 66.9h.8v.8h-.8zM84.1 71.3h.8v.8h-.8zM84.4 68.3h.8v.8h-.8zM93.5 59.5h.8v.8h-.8zM86.8 69.1h.8v.8h-.8zM77.0 79.4h.8v.8h-.8zM80.5 76.2h.8v.8h-.8zM79.9 76.0h.8v.8h-.8zM89.6 62.5h.8v.8h-.8zM97.6 54.4h.8v.8h-.8zM82.2 70.3h.8v.8h-.8zM81.4 73.5h.8v.8h-.8zM82.0 74.0h.8v.8h-.8zM86.9 68.2h.8v.8h-.8zM77.8 76.4h.8v.8h-.8zM87.0 67.9h.8v.8h-.8zM75.7 82.7h.8v.8h-.8zM86.0 64.6h.8v.8h-.8zM80.6 77.4h.8v.8h-.8zM90.7 63.9h.8v.8h-.8zM73.0 85.2h.8v.8h-.8zM90.3 64.5h.8v.8h-.8zM92.7 62.7h.8v.8h-.8zM76.4 80.1h.8v.8h-.8zM89.0 59.7h.8v.8h-.8zM79.4 77.4h.8v.8h-.8zM87.6 66.3h.8v.8h-.8zM93.1 62.0h.8v.8h-.8zM85.5 64.4h.8v.8h-.8zM72.2 84.7h.8v.8h-.8zM80.5 76.7h.8v.8h-.8zM88.5 66.6h.8v.8h-.8zM89.5 59.7h.8v.8h-.8zM89.3 66.1h.8v.8h-.8zM81.6 74.6h.8v.8h-.8zM93.2 57.4h.8v.8h-.8zM73.1 81.1h.8v.8h-.8zM73.4 81.4h.8v.8h-.8zM89.8 60.6h.8v.8h-.8zM77.7 78.2h.8v.8h-.8zM73.9 78.8h.8v.8h-.8zM90.3 62.3h.8v.8h-.8zM76.1 79.0h.8v.8h-.8zM82.6 73.5h.8v.8h-.8zM79.5 74.7h.8v.8h-.8zM80.2 75.1h.8v.8h-.8zM84.1 71.6h.8v.8h-.8zM85.0 72.1h.8v.8h-.8zM82.1 74.3h.8v.8h-.8zM83.8 70.0h.8v.8h-.8zM88.3 60.3h.8v.8h-.8zM79.9 75.7h.8v.8h-.8zM80.2 77.3h.8v.8h-.8zM70.2 83.6h.8v.8h-.8zM73.0 85.6h.8v.8h-.8zM84.8 67.2h.8v.8h-.8zM78.3 78.1h.8v.8h-.8zM82.5 72.1h.8v.8h-.8zM78.8 78.7h.8v.8h-.8zM85.7 69.3h.8v.8h-.8zM94.5 53.9h.8v.8h-.8zM73.7 82.2h.8v.8h-.8zM90.5 61.5h.8v.8h-.8zM82.5 74.6h.8v.8h-.8zM87.0 63.5h.8v.8h-.8zM86.5 66.3h.8v.8h-.8zM71.7 86.5h.8v.8h-.8zM79.9 72.0h.8v.8h-.8zM88.7 67.3h.8v.8h-.8zM81.2 76.0h.8v.8h-.8zM78.2 78.0h.8v.8h-.8zM80.7 77.0h.8v.8h-.8zM79.3 77.6h.8v.8h-.8zM94.3 57.5h.8v.8h-.8zM76.4 76.5h.8v.8h-.8zM77.4 78.2h.8v.8h-.8zM98.4 54.6h.8v.8h-.8zM86.9 64.9h.8v.8h-.8zM80.2 71.1h.8v.8h-.8zM78.1 73.9h.8v.8h-.8zM94.3 58.6h.8v.8h-.8zM78.8 79.4h.8v.8h-.8zM72.9 81.0h.8v.8h-.8zM79.6 78.4h.8v.8h-.8zM66.9 87.8h.8v.8h-.8zM96.1 55.2h.8v.8h-.8zM79.3 76.6h.8v.8h-.8zM89.7 66.5h.8v.8h-.8zM79.4 74.7h.8v.8h-.8zM93.4 57.6h.8v.8h-.8zM92.0 56.2h.8v.8h-.8zM82.6 72.8h.8v.8h-.8zM82.2 75.3h.8v.8h-.8zM82.3 75.0h.8v.8h-.8zM83.0 72.0h.8v.8h-.8zM88.5 62.5h.8v.8h-.8zM85.3 71.7h.8v.8h-.8zM73.9 85.2h.8v.8h-.8zM78.2 78.7h.8v.8h-.8zM81.6 74.8h.8v.8h-.8zM87.3 66.9h.8v.8h-.8zM86.7 67.1h.8v.8h-.8zM75.9 82.2h.8v.8h-.8zM83.3 73.2h.8v.8h-.8zM85.7 69.8h.8v.8h-.8zM84.1 72.0h.8v.8h-.8zM90.9 61.4h.8v.8h-.8zM87.8 68.0h.8v.8h-.8zM82.4 73.9h.8v.8h-.8zM89.4 61.5h.8v.8h-.8zM87.2 66.8h.8v.8h-.8zM81.1 70.3h.8v.8h-.8zM92.9 61.9h.8v.8h-.8zM73.0 86.0h.8v.8h-.8zM89.7 62.7h.8v.8h-.8zM87.7 65.6h.8v.8h-.8zM89.8 61.7h.8v.8h-.8zM94.2 60.6h.8v.8h-.8zM73.5 84.6h.8v.8h-.8zM90.5 58.8h.8v.8h-.8zM80.0 76.0h.8v.8h-.8zM83.0 72.6h.8v.8h-.8zM80.8 75.0h.8v.8h-.8zM80.1 78.3h.8v.8h-.8zM87.7 67.4h.8v.8h-.8zM75.9 79.0h.8v.8h-.8zM73.3 82.2h.8v.8h-.8zM70.6 85.4h.8v.8h-.8zM88.0 67.9h.8v.8h-.8zM79.6 72.6h.8v.8h-.8zM98.4 55.4h.8v.8h-.8zM82.4 72.9h.8v.8h-.8zM85.2 71.8h.8v.8h-.8zM73.0 80.7h.8v.8h-.8zM90.3 59.9h.8v.8h-.8zM89.6 66.0h.8v.8h-.8zM94.4 59.6h.8v.8h-.8zM75.9 78.2h.8v.8h-.8zM75.0 77.0h.8v.8h-.8zM78.2 77.0h.8v.8h-.8zM93.0 54.6h.8v.8h-.8zM80.4 72.9h.8v.8h-.8zM80.8 73.7h.8v.8h-.8zM84.3 65.7h.8v.8h-.8zM82.5 72.1h.8v.8h-.8zM83.5 69.6h.8v.8h-.8zM92.7 58.2h.8v.8h-.8zM78.8 74.0h.8v.8h-.8zM82.2 68.7h.8v.8h-.8zM88.1 68.4h.8v.8h-.8zM82.4 72.3h.8v.8h-.8zM97.6 56.6h.8v.8h-.8zM92.5 61.4h.8v.8h-.8zM77.1 74.7h.8v.8h-.8zM85.7 64.6h.8v.8h-.8zM88.9 64.6h.8v.8h-.8zM86.9 69.5h.8v.8h-.8zM84.4 68.2h.8v.8h-.8zM83.0 73.6h.8v.8h-.8zM79.6 74.9h.8v.8h-.8zM91.4 62.9h.8v.8h-.8zM97.8 52.2h.8v.8h-.8zM90.6 60.9h.8v.8h-.8zM86.2 67.3h.8v.8h-.8zM86.6 64.2h.8v.8h-.8zM78.9 73.8h.8v.8h-.8zM91.7 59.1h.8v.8h-.8zM98.6 53.8h.8v.8h-.8zM84.2 69.8h.8v.8h-.8zM88.3 68.0h.8v.8h-.8zM86.7 64.4h.8v.8h-.8zM83.9 72.6h.8v.8h-.8zM80.7 76.4h.8v.8h-.8zM84.3 71.2h.8v.8h-.8zM85.3 65.4h.8v.8h-.8zM80.1 76.3h.8v.8h-.8zM85.6 65.5h.8v.8h-.8zM74.8 78.7h.8v.8h-.8zM80.9 72.1h.8v.8h-.8zM82.4 70.8h.8v.8h-.8zM76.5 74.9h.8v.8h-.8zM72.8 82.5h.8v.8h-.8zM71.0 84.4h.8v.8h-.8zM64.3 95.5h.8v.8h-.8zM68.8 91.3h.8v.8h-.8zM64.2 97.1h.8v.8h-.8zM74.0 84.2h.8v.8h-.8zM65.2 96.0h.8v.8h-.8zM71.6 89.0h.8v.8h-.8zM66.2 92.9h.8v.8h-.8zM66.3 93.2h.8v.8h-.8zM70.3 90.1h.8v.8h-.8zM66.9 93.4h.8v.8h-.8zM63.9 93.0h.8v.8h-.8zM64.2 94.8h.8v.8h-.8zM73.2 85.9h.8v.8h-.8zM72.2 83.7h.8v.8h-.8zM70.1 87.1h.8v.8h-.8zM71.7 87.1h.8v.8h-.8zM74.1 86.2h.8v.8h-.8zM71.5 84.3h.8v.8h-.8zM72.6 86.8h.8v.8h-.8zM66.7 93.9h.8v.8h-.8zM64.7 92.9h.8v.8h-.8zM67.6 86.9h.8v.8h-.8zM73.5 85.9h.8v.8h-.8zM70.4 87.8h.8v.8h-.8zM70.6 89.1h.8v.8h-.8zM69.0 92.3h.8v.8h-.8zM65.9 90.2h.8v.8h-.8zM69.6 89.0h.8v.8h-.8zM75.5 83.2h.8v.8h-.8zM67.8 87.8h.8v.8h-.8zM73.8 86.1h.8v.8h-.8zM66.6 89.4h.8v.8h-.8zM76.1 83.5h.8v.8h-.8zM66.0 92.1h.8v.8h-.8zM66.8 89.4h.8v.8h-.8zM66.6 88.7h.8v.8h-.8zM69.2 87.5h.8v.8h-.8zM71.0 89.8h.8v.8h-.8zM68.5 88.2h.8v.8h-.8zM66.3 90.0h.8v.8h-.8zM68.1 93.7h.8v.8h-.8zM66.9 94.0h.8v.8h-.8zM71.8 87.7h.8v.8h-.8zM68.1 92.6h.8v.8h-.8zM76.1 82.9h.8v.8h-.8zM70.8 85.5h.8v.8h-.8zM76.2 82.5h.8v.8h-.8zM68.8 90.9h.8v.8h-.8zM62.5 96.6h.8v.8h-.8zM75.0 85.0h.8v.8h-.8zM62.5 93.8h.8v.8h-.8zM61.7 100.3h.8v.8h-.8zM67.0 94.5h.8v.8h-.8zM58.5 98.5h.8v.8h-.8zM62.4 99.4h.8v.8h-.8zM65.5 96.2h.8v.8h-.8zM61.6 96.3h.8v.8h-.8zM61.9 100.0h.8v.8h-.8zM62.5 94.5h.8v.8h-.8zM60.8 102.4h.8v.8h-.8zM60.0 102.0h.8v.8h-.8zM58.5 102.2h.8v.8h-.8zM58.7 102.0h.8v.8h-.8zM62.9 95.9h.8v.8h-.8zM64.9 95.9h.8v.8h-.8zM58.7 104.0h.8v.8h-.8zM62.0 99.8h.8v.8h-.8zM63.2 99.1h.8v.8h-.8zM62.2 99.8h.8v.8h-.8zM66.1 96.4h.8v.8h-.8zM57.2 105.3h.8v.8h-.8zM61.8 97.2h.8v.8h-.8zM62.6 100.3h.8v.8h-.8zM62.8 100.2h.8v.8h-.8zM55.8 102.9h.8v.8h-.8zM57.3 104.2h.8v.8h-.8zM60.5 98.5h.8v.8h-.8zM64.8 95.3h.8v.8h-.8zM61.9 100.3h.8v.8h-.8zM66.2 96.9h.8v.8h-.8zM63.7 98.3h.8v.8h-.8zM63.2 93.2h.8v.8h-.8zM61.7 98.8h.8v.8h-.8zM60.5 102.5h.8v.8h-.8zM58.5 103.7h.8v.8h-.8zM60.5 98.9h.8v.8h-.8zM59.9 98.4h.8v.8h-.8zM63.5 97.0h.8v.8h-.8zM64.6 96.5h.8v.8h-.8zM67.9 95.0h.8v.8h-.8zM62.9 98.7h.8v.8h-.8zM62.3 97.2h.8v.8h-.8zM60.3 100.8h.8v.8h-.8zM62.4 100.7h.8v.8h-.8zM59.6 98.6h.8v.8h-.8zM56.7 101.9h.8v.8h-.8zM59.8 102.1h.8v.8h-.8zM86.0 65.8h.8v.8h-.8zM90.8 61.6h.8v.8h-.8zM88.5 61.9h.8v.8h-.8zM79.5 73.5h.8v.8h-.8zM94.5 52.7h.8v.8h-.8zM86.7 68.3h.8v.8h-.8zM62.3 95.1h.8v.8h-.8zM91.3 60.6h.8v.8h-.8zM79.6 73.9h.8v.8h-.8zM85.8 65.6h.8v.8h-.8zM72.0 81.1h.8v.8h-.8zM102.8 45.1h.8v.8h-.8z"/></g>
<defs><radialGradient id="hot" cx="0.5" cy="0.5" r="0.5"><stop offset="0" stop-color="#d81c10"/><stop offset="0.1" stop-color="#e85a10"/><stop offset="0.2" stop-color="#f0b020"/><stop offset="0.3" stop-color="#c8dc28"/><stop offset="0.42" stop-color="#58c040"/><stop offset="0.62" stop-color="#2eac48"/><stop offset="0.76" stop-color="#2a90b8"/><stop offset="0.9" stop-color="#3050b0" stop-opacity="0.7"/><stop offset="1" stop-color="#4060d0" stop-opacity="0"/></radialGradient><radialGradient id="blu" cx="0.5" cy="0.5" r="0.5"><stop offset="0" stop-color="#4a62c8" stop-opacity="0.35"/><stop offset="1" stop-color="#4a62c8" stop-opacity="0"/></radialGradient></defs>
<ellipse cx="86" cy="74" rx="28" ry="11" fill="url(#blu)" transform="rotate(-51 86 74)"/>
<ellipse cx="62" cy="103.8" rx="8" ry="9" fill="url(#hot)" transform="rotate(20 62 103.8)"/>
<rect x="42.5" y="19.5" width="99.80000000000001" height="98.7" fill="none" stroke="#a8a8a8" stroke-width="0.7"/>
<ellipse cx="103.4" cy="58.6" rx="48.6" ry="23.5" fill="none" stroke="#222" stroke-width="0.8" transform="rotate(-45 103.4 58.6)"/>
<text x="45.00" y="39.30" font-size="6.6" fill="#333" textLength="40.5" lengthAdjust="spacingAndGlyphs">HA-1+ CD34+</text>
<text x="65.50" y="46.20" font-size="6.6" fill="#333" text-anchor="middle">23.5</text>
<line x1="39.60" y1="28.00" x2="42.50" y2="28.00" stroke="#333" stroke-width="0.7"/>
<text x="34.80" y="30.20" font-size="6" fill="#333" text-anchor="end">10</text>
<text x="34.90" y="27.40" font-size="3.5" fill="#333">5</text>
<line x1="39.60" y1="50.80" x2="42.50" y2="50.80" stroke="#333" stroke-width="0.7"/>
<text x="34.80" y="53.00" font-size="6" fill="#333" text-anchor="end">10</text>
<text x="34.90" y="50.20" font-size="3.5" fill="#333">4</text>
<line x1="39.60" y1="74.70" x2="42.50" y2="74.70" stroke="#333" stroke-width="0.7"/>
<text x="34.80" y="76.90" font-size="6" fill="#333" text-anchor="end">10</text>
<text x="34.90" y="74.10" font-size="3.5" fill="#333">3</text>
<line x1="39.60" y1="104.60" x2="42.50" y2="104.60" stroke="#333" stroke-width="0.7"/>
<text x="37.20" y="106.80" font-size="6" fill="#333" text-anchor="end">0</text>
<line x1="41.00" y1="31.50" x2="42.50" y2="31.50" stroke="#333" stroke-width="0.5"/>
<line x1="41.00" y1="34.00" x2="42.50" y2="34.00" stroke="#333" stroke-width="0.5"/>
<line x1="41.00" y1="36.00" x2="42.50" y2="36.00" stroke="#333" stroke-width="0.5"/>
<line x1="41.00" y1="38.00" x2="42.50" y2="38.00" stroke="#333" stroke-width="0.5"/>
<line x1="41.00" y1="40.00" x2="42.50" y2="40.00" stroke="#333" stroke-width="0.5"/>
<line x1="41.00" y1="43.00" x2="42.50" y2="43.00" stroke="#333" stroke-width="0.5"/>
<line x1="41.00" y1="54.50" x2="42.50" y2="54.50" stroke="#333" stroke-width="0.5"/>
<line x1="41.00" y1="57.00" x2="42.50" y2="57.00" stroke="#333" stroke-width="0.5"/>
<line x1="41.00" y1="59.00" x2="42.50" y2="59.00" stroke="#333" stroke-width="0.5"/>
<line x1="41.00" y1="61.00" x2="42.50" y2="61.00" stroke="#333" stroke-width="0.5"/>
<line x1="41.00" y1="63.00" x2="42.50" y2="63.00" stroke="#333" stroke-width="0.5"/>
<line x1="41.00" y1="66.00" x2="42.50" y2="66.00" stroke="#333" stroke-width="0.5"/>
<line x1="41.00" y1="79.00" x2="42.50" y2="79.00" stroke="#333" stroke-width="0.5"/>
<line x1="41.00" y1="82.00" x2="42.50" y2="82.00" stroke="#333" stroke-width="0.5"/>
<line x1="41.00" y1="86.00" x2="42.50" y2="86.00" stroke="#333" stroke-width="0.5"/>
<line x1="41.00" y1="92.00" x2="42.50" y2="92.00" stroke="#333" stroke-width="0.5"/>
<line x1="41.00" y1="97.50" x2="42.50" y2="97.50" stroke="#333" stroke-width="0.5"/>
<line x1="41.00" y1="99.00" x2="42.50" y2="99.00" stroke="#333" stroke-width="0.5"/>
<line x1="41.00" y1="100.50" x2="42.50" y2="100.50" stroke="#333" stroke-width="0.5"/>
<line x1="41.00" y1="102.00" x2="42.50" y2="102.00" stroke="#333" stroke-width="0.5"/>
<line x1="41.00" y1="103.20" x2="42.50" y2="103.20" stroke="#333" stroke-width="0.5"/>
<line x1="41.00" y1="106.00" x2="42.50" y2="106.00" stroke="#333" stroke-width="0.5"/>
<line x1="41.00" y1="107.20" x2="42.50" y2="107.20" stroke="#333" stroke-width="0.5"/>
<line x1="41.00" y1="108.50" x2="42.50" y2="108.50" stroke="#333" stroke-width="0.5"/>
<line x1="41.00" y1="110.00" x2="42.50" y2="110.00" stroke="#333" stroke-width="0.5"/>
<line x1="41.00" y1="113.00" x2="42.50" y2="113.00" stroke="#333" stroke-width="0.5"/>
<line x1="84.40" y1="118.20" x2="84.40" y2="121.00" stroke="#333" stroke-width="0.7"/>
<text x="84.40" y="129.20" font-size="6" fill="#333" text-anchor="middle">10</text>
<text x="87.80" y="126.30" font-size="3.5" fill="#333">3</text>
<line x1="108.30" y1="118.20" x2="108.30" y2="121.00" stroke="#333" stroke-width="0.7"/>
<text x="108.30" y="129.20" font-size="6" fill="#333" text-anchor="middle">10</text>
<text x="111.70" y="126.30" font-size="3.5" fill="#333">4</text>
<line x1="132.00" y1="118.20" x2="132.00" y2="121.00" stroke="#333" stroke-width="0.7"/>
<text x="132.00" y="129.20" font-size="6" fill="#333" text-anchor="middle">10</text>
<text x="135.40" y="126.30" font-size="3.5" fill="#333">5</text>
<line x1="59.50" y1="118.20" x2="59.50" y2="121.00" stroke="#333" stroke-width="0.7"/>
<text x="59.50" y="129.20" font-size="6" fill="#333" text-anchor="middle">0</text>
<line x1="50.00" y1="118.20" x2="50.00" y2="119.60" stroke="#333" stroke-width="0.5"/>
<line x1="53.00" y1="118.20" x2="53.00" y2="119.60" stroke="#333" stroke-width="0.5"/>
<line x1="66.00" y1="118.20" x2="66.00" y2="119.60" stroke="#333" stroke-width="0.5"/>
<line x1="70.00" y1="118.20" x2="70.00" y2="119.60" stroke="#333" stroke-width="0.5"/>
<line x1="76.00" y1="118.20" x2="76.00" y2="119.60" stroke="#333" stroke-width="0.5"/>
<line x1="80.00" y1="118.20" x2="80.00" y2="119.60" stroke="#333" stroke-width="0.5"/>
<line x1="88.00" y1="118.20" x2="88.00" y2="119.60" stroke="#333" stroke-width="0.5"/>
<line x1="91.00" y1="118.20" x2="91.00" y2="119.60" stroke="#333" stroke-width="0.5"/>
<line x1="94.00" y1="118.20" x2="94.00" y2="119.60" stroke="#333" stroke-width="0.5"/>
<line x1="97.00" y1="118.20" x2="97.00" y2="119.60" stroke="#333" stroke-width="0.5"/>
<line x1="100.00" y1="118.20" x2="100.00" y2="119.60" stroke="#333" stroke-width="0.5"/>
<line x1="103.00" y1="118.20" x2="103.00" y2="119.60" stroke="#333" stroke-width="0.5"/>
<line x1="112.00" y1="118.20" x2="112.00" y2="119.60" stroke="#333" stroke-width="0.5"/>
<line x1="115.00" y1="118.20" x2="115.00" y2="119.60" stroke="#333" stroke-width="0.5"/>
<line x1="118.00" y1="118.20" x2="118.00" y2="119.60" stroke="#333" stroke-width="0.5"/>
<line x1="121.00" y1="118.20" x2="121.00" y2="119.60" stroke="#333" stroke-width="0.5"/>
<line x1="124.00" y1="118.20" x2="124.00" y2="119.60" stroke="#333" stroke-width="0.5"/>
<line x1="127.00" y1="118.20" x2="127.00" y2="119.60" stroke="#333" stroke-width="0.5"/>
<line x1="136.00" y1="118.20" x2="136.00" y2="119.60" stroke="#333" stroke-width="0.5"/>
<line x1="139.00" y1="118.20" x2="139.00" y2="119.60" stroke="#333" stroke-width="0.5"/>
<rect x="55.6" y="118.3" width="8" height="2.2" fill="#222"/>
<rect x="40.6" y="102.8" width="1.9" height="3.6" fill="#333"/>
<text x="91.40" y="141.30" font-size="7.8" fill="#333" text-anchor="middle" textLength="37.5" lengthAdjust="spacingAndGlyphs">CD34 AF700</text>
<text x="22.90" y="70.00" font-size="8.2" fill="#333" text-anchor="middle" textLength="40.7" lengthAdjust="spacingAndGlyphs" transform="rotate(-90 22.90 70.00)">HA-1 TCR APC</text>
<line x1="199.30" y1="27.30" x2="199.30" y2="117.90" stroke="#231f20" stroke-width="1.0"/>
<line x1="195.70" y1="42.75" x2="199.30" y2="42.75" stroke="#231f20" stroke-width="0.9"/>
<text x="194.10" y="45.05" font-size="6.7" fill="#231f20" text-anchor="end">10</text>
<line x1="195.70" y1="61.50" x2="199.30" y2="61.50" stroke="#231f20" stroke-width="0.9"/>
<text x="194.10" y="63.80" font-size="6.7" fill="#231f20" text-anchor="end">1</text>
<line x1="195.70" y1="80.25" x2="199.30" y2="80.25" stroke="#231f20" stroke-width="0.9"/>
<text x="194.10" y="82.55" font-size="6.7" fill="#231f20" text-anchor="end">0.1</text>
<line x1="195.70" y1="99.00" x2="199.30" y2="99.00" stroke="#231f20" stroke-width="0.9"/>
<text x="194.10" y="101.30" font-size="6.7" fill="#231f20" text-anchor="end">0.01</text>
<line x1="195.70" y1="117.75" x2="199.30" y2="117.75" stroke="#231f20" stroke-width="0.9"/>
<text x="194.10" y="120.05" font-size="6.7" fill="#231f20" text-anchor="end">0.001</text>
<line x1="197.50" y1="112.11" x2="199.30" y2="112.11" stroke="#231f20" stroke-width="0.5"/>
<line x1="197.50" y1="108.80" x2="199.30" y2="108.80" stroke="#231f20" stroke-width="0.5"/>
<line x1="197.50" y1="106.46" x2="199.30" y2="106.46" stroke="#231f20" stroke-width="0.5"/>
<line x1="197.50" y1="104.64" x2="199.30" y2="104.64" stroke="#231f20" stroke-width="0.5"/>
<line x1="197.50" y1="103.16" x2="199.30" y2="103.16" stroke="#231f20" stroke-width="0.5"/>
<line x1="197.50" y1="101.90" x2="199.30" y2="101.90" stroke="#231f20" stroke-width="0.5"/>
<line x1="197.50" y1="100.82" x2="199.30" y2="100.82" stroke="#231f20" stroke-width="0.5"/>
<line x1="197.50" y1="99.86" x2="199.30" y2="99.86" stroke="#231f20" stroke-width="0.5"/>
<line x1="197.50" y1="93.36" x2="199.30" y2="93.36" stroke="#231f20" stroke-width="0.5"/>
<line x1="197.50" y1="90.05" x2="199.30" y2="90.05" stroke="#231f20" stroke-width="0.5"/>
<line x1="197.50" y1="87.71" x2="199.30" y2="87.71" stroke="#231f20" stroke-width="0.5"/>
<line x1="197.50" y1="85.89" x2="199.30" y2="85.89" stroke="#231f20" stroke-width="0.5"/>
<line x1="197.50" y1="84.41" x2="199.30" y2="84.41" stroke="#231f20" stroke-width="0.5"/>
<line x1="197.50" y1="83.15" x2="199.30" y2="83.15" stroke="#231f20" stroke-width="0.5"/>
<line x1="197.50" y1="82.07" x2="199.30" y2="82.07" stroke="#231f20" stroke-width="0.5"/>
<line x1="197.50" y1="81.11" x2="199.30" y2="81.11" stroke="#231f20" stroke-width="0.5"/>
<line x1="197.50" y1="74.61" x2="199.30" y2="74.61" stroke="#231f20" stroke-width="0.5"/>
<line x1="197.50" y1="71.30" x2="199.30" y2="71.30" stroke="#231f20" stroke-width="0.5"/>
<line x1="197.50" y1="68.96" x2="199.30" y2="68.96" stroke="#231f20" stroke-width="0.5"/>
<line x1="197.50" y1="67.14" x2="199.30" y2="67.14" stroke="#231f20" stroke-width="0.5"/>
<line x1="197.50" y1="65.66" x2="199.30" y2="65.66" stroke="#231f20" stroke-width="0.5"/>
<line x1="197.50" y1="64.40" x2="199.30" y2="64.40" stroke="#231f20" stroke-width="0.5"/>
<line x1="197.50" y1="63.32" x2="199.30" y2="63.32" stroke="#231f20" stroke-width="0.5"/>
<line x1="197.50" y1="62.36" x2="199.30" y2="62.36" stroke="#231f20" stroke-width="0.5"/>
<line x1="197.50" y1="55.86" x2="199.30" y2="55.86" stroke="#231f20" stroke-width="0.5"/>
<line x1="197.50" y1="52.55" x2="199.30" y2="52.55" stroke="#231f20" stroke-width="0.5"/>
<line x1="197.50" y1="50.21" x2="199.30" y2="50.21" stroke="#231f20" stroke-width="0.5"/>
<line x1="197.50" y1="48.39" x2="199.30" y2="48.39" stroke="#231f20" stroke-width="0.5"/>
<line x1="197.50" y1="46.91" x2="199.30" y2="46.91" stroke="#231f20" stroke-width="0.5"/>
<line x1="197.50" y1="45.65" x2="199.30" y2="45.65" stroke="#231f20" stroke-width="0.5"/>
<line x1="197.50" y1="44.57" x2="199.30" y2="44.57" stroke="#231f20" stroke-width="0.5"/>
<line x1="197.50" y1="43.61" x2="199.30" y2="43.61" stroke="#231f20" stroke-width="0.5"/>
<line x1="197.50" y1="37.11" x2="199.30" y2="37.11" stroke="#231f20" stroke-width="0.5"/>
<line x1="197.50" y1="33.80" x2="199.30" y2="33.80" stroke="#231f20" stroke-width="0.5"/>
<line x1="197.50" y1="31.46" x2="199.30" y2="31.46" stroke="#231f20" stroke-width="0.5"/>
<line x1="197.50" y1="29.64" x2="199.30" y2="29.64" stroke="#231f20" stroke-width="0.5"/>
<line x1="197.50" y1="28.16" x2="199.30" y2="28.16" stroke="#231f20" stroke-width="0.5"/>
<line x1="199.30" y1="117.90" x2="280.40" y2="117.90" stroke="#231f20" stroke-width="1.1"/>
<line x1="280.40" y1="116.10" x2="280.40" y2="119.70" stroke="#231f20" stroke-width="0.8"/>
<line x1="286.20" y1="116.10" x2="286.20" y2="119.70" stroke="#231f20" stroke-width="0.8"/>
<line x1="286.20" y1="117.90" x2="455.40" y2="117.90" stroke="#231f20" stroke-width="1.1"/>
<line x1="199.20" y1="117.90" x2="199.20" y2="120.10" stroke="#231f20" stroke-width="0.8"/>
<text x="199.80" y="129.50" font-size="6.4" fill="#231f20" text-anchor="middle" transform="rotate(-45 199.80 129.50)">0</text>
<line x1="212.70" y1="117.90" x2="212.70" y2="120.10" stroke="#231f20" stroke-width="0.8"/>
<text x="213.30" y="129.50" font-size="6.4" fill="#231f20" text-anchor="middle" transform="rotate(-45 213.30 129.50)">7</text>
<line x1="226.21" y1="117.90" x2="226.21" y2="120.10" stroke="#231f20" stroke-width="0.8"/>
<text x="226.81" y="129.50" font-size="6.4" fill="#231f20" text-anchor="middle" transform="rotate(-45 226.81 129.50)">14</text>
<line x1="239.71" y1="117.90" x2="239.71" y2="120.10" stroke="#231f20" stroke-width="0.8"/>
<text x="240.31" y="129.50" font-size="6.4" fill="#231f20" text-anchor="middle" transform="rotate(-45 240.31 129.50)">21</text>
<line x1="253.21" y1="117.90" x2="253.21" y2="120.10" stroke="#231f20" stroke-width="0.8"/>
<text x="253.81" y="129.50" font-size="6.4" fill="#231f20" text-anchor="middle" transform="rotate(-45 253.81 129.50)">28</text>
<line x1="266.71" y1="117.90" x2="266.71" y2="120.10" stroke="#231f20" stroke-width="0.8"/>
<text x="267.31" y="129.50" font-size="6.4" fill="#231f20" text-anchor="middle" transform="rotate(-45 267.31 129.50)">35</text>
<line x1="280.22" y1="117.90" x2="280.22" y2="120.10" stroke="#231f20" stroke-width="0.8"/>
<text x="280.82" y="129.50" font-size="6.4" fill="#231f20" text-anchor="middle" transform="rotate(-45 280.82 129.50)">42</text>
<line x1="291.50" y1="117.90" x2="291.50" y2="120.10" stroke="#231f20" stroke-width="0.8"/>
<text x="292.10" y="129.50" font-size="6.4" fill="#231f20" text-anchor="middle" transform="rotate(-45 292.10 129.50)">60</text>
<line x1="300.37" y1="117.90" x2="300.37" y2="120.10" stroke="#231f20" stroke-width="0.8"/>
<text x="300.97" y="129.50" font-size="6.4" fill="#231f20" text-anchor="middle" transform="rotate(-45 300.97 129.50)">90</text>
<line x1="309.23" y1="117.90" x2="309.23" y2="120.10" stroke="#231f20" stroke-width="0.8"/>
<text x="309.83" y="129.50" font-size="6.4" fill="#231f20" text-anchor="middle" transform="rotate(-45 309.83 129.50)">120</text>
<line x1="318.10" y1="117.90" x2="318.10" y2="120.10" stroke="#231f20" stroke-width="0.8"/>
<text x="318.70" y="129.50" font-size="6.4" fill="#231f20" text-anchor="middle" transform="rotate(-45 318.70 129.50)">150</text>
<line x1="326.97" y1="117.90" x2="326.97" y2="120.10" stroke="#231f20" stroke-width="0.8"/>
<text x="327.57" y="129.50" font-size="6.4" fill="#231f20" text-anchor="middle" transform="rotate(-45 327.57 129.50)">180</text>
<line x1="335.84" y1="117.90" x2="335.84" y2="120.10" stroke="#231f20" stroke-width="0.8"/>
<text x="336.44" y="129.50" font-size="6.4" fill="#231f20" text-anchor="middle" transform="rotate(-45 336.44 129.50)">210</text>
<line x1="344.70" y1="117.90" x2="344.70" y2="120.10" stroke="#231f20" stroke-width="0.8"/>
<text x="345.30" y="129.50" font-size="6.4" fill="#231f20" text-anchor="middle" transform="rotate(-45 345.30 129.50)">240</text>
<line x1="353.57" y1="117.90" x2="353.57" y2="120.10" stroke="#231f20" stroke-width="0.8"/>
<text x="354.17" y="129.50" font-size="6.4" fill="#231f20" text-anchor="middle" transform="rotate(-45 354.17 129.50)">270</text>
<line x1="362.44" y1="117.90" x2="362.44" y2="120.10" stroke="#231f20" stroke-width="0.8"/>
<text x="363.04" y="129.50" font-size="6.4" fill="#231f20" text-anchor="middle" transform="rotate(-45 363.04 129.50)">300</text>
<line x1="371.30" y1="117.90" x2="371.30" y2="120.10" stroke="#231f20" stroke-width="0.8"/>
<text x="371.90" y="129.50" font-size="6.4" fill="#231f20" text-anchor="middle" transform="rotate(-45 371.90 129.50)">330</text>
<line x1="380.17" y1="117.90" x2="380.17" y2="120.10" stroke="#231f20" stroke-width="0.8"/>
<text x="380.77" y="129.50" font-size="6.4" fill="#231f20" text-anchor="middle" transform="rotate(-45 380.77 129.50)">360</text>
<line x1="389.04" y1="117.90" x2="389.04" y2="120.10" stroke="#231f20" stroke-width="0.8"/>
<text x="389.64" y="129.50" font-size="6.4" fill="#231f20" text-anchor="middle" transform="rotate(-45 389.64 129.50)">390</text>
<line x1="397.90" y1="117.90" x2="397.90" y2="120.10" stroke="#231f20" stroke-width="0.8"/>
<text x="398.50" y="129.50" font-size="6.4" fill="#231f20" text-anchor="middle" transform="rotate(-45 398.50 129.50)">420</text>
<line x1="406.77" y1="117.90" x2="406.77" y2="120.10" stroke="#231f20" stroke-width="0.8"/>
<text x="407.37" y="129.50" font-size="6.4" fill="#231f20" text-anchor="middle" transform="rotate(-45 407.37 129.50)">450</text>
<line x1="415.64" y1="117.90" x2="415.64" y2="120.10" stroke="#231f20" stroke-width="0.8"/>
<text x="416.24" y="129.50" font-size="6.4" fill="#231f20" text-anchor="middle" transform="rotate(-45 416.24 129.50)">480</text>
<line x1="424.50" y1="117.90" x2="424.50" y2="120.10" stroke="#231f20" stroke-width="0.8"/>
<text x="425.11" y="129.50" font-size="6.4" fill="#231f20" text-anchor="middle" transform="rotate(-45 425.11 129.50)">510</text>
<line x1="433.37" y1="117.90" x2="433.37" y2="120.10" stroke="#231f20" stroke-width="0.8"/>
<text x="433.97" y="129.50" font-size="6.4" fill="#231f20" text-anchor="middle" transform="rotate(-45 433.97 129.50)">540</text>
<line x1="442.24" y1="117.90" x2="442.24" y2="120.10" stroke="#231f20" stroke-width="0.8"/>
<text x="442.84" y="129.50" font-size="6.4" fill="#231f20" text-anchor="middle" transform="rotate(-45 442.84 129.50)">570</text>
<line x1="451.11" y1="117.90" x2="451.11" y2="120.10" stroke="#231f20" stroke-width="0.8"/>
<text x="451.71" y="129.50" font-size="6.4" fill="#231f20" text-anchor="middle" transform="rotate(-45 451.71 129.50)">600</text>
<text x="323.70" y="144.60" font-size="7.5" fill="#231f20" text-anchor="middle" textLength="53.4" lengthAdjust="spacingAndGlyphs">Days post infusion</text>
<text x="170.3" y="74.9" font-size="7.2" fill="#231f20" text-anchor="middle" transform="rotate(-90 170.3 74.9)" textLength="58.6" lengthAdjust="spacingAndGlyphs">CD34<tspan font-size="5.2" dy="-2.6">+</tspan><tspan dy="2.6">CD3</tspan><tspan font-size="5.2" dy="-2.6">+</tspan><tspan dy="2.6">T cells/μl</tspan></text>
<polyline points="200.48,50.14 206.87,37.72 220.58,33.70 222.04,37.35 227.88,37.72 233.73,45.58 247.61,49.59 261.13,39.18 280.50,40.09" fill="none" stroke="#231f20" stroke-width="1.0"/>
<polyline points="200.48,63.84 206.87,56.54 220.58,54.71 233.73,59.28 247.61,81.20 261.13,82.11 280.50,89.05" fill="none" stroke="#231f20" stroke-width="1.0"/>
<polyline points="199.02,89.42 206.87,87.23 220.58,93.99 233.36,118.10" fill="none" stroke="#2a8ac0" stroke-width="1.0"/>
<polyline points="199.02,62.93 206.87,55.62 220.58,53.80 233.73,64.76 247.61,63.84 261.13,66.58 280.50,59.28" fill="none" stroke="#231f20" stroke-width="1.0"/>
<polyline points="199.02,74.80 206.87,83.03 220.58,76.63 233.73,78.46 247.61,68.41 261.13,66.58 280.50,63.84" fill="none" stroke="#231f20" stroke-width="1.0"/>
<polyline points="199.02,80.28 206.87,71.15 220.58,59.28 233.73,71.15 247.61,74.80 261.13,72.98 280.50,69.32" fill="none" stroke="#231f20" stroke-width="1.0"/>
<polyline points="199.02,96.73 206.87,65.67 220.58,64.76 233.73,69.32 247.61,63.84 261.13,66.58 280.50,62.02" fill="none" stroke="#231f20" stroke-width="1.0"/>
<polyline points="199.02,100.38 206.87,54.71 220.58,61.10 233.73,56.54 247.61,65.67 261.13,68.41 280.50,70.24" fill="none" stroke="#231f20" stroke-width="1.0"/>
<polyline points="200.48,74.80 206.87,50.14 220.58,51.06 233.73,55.62 247.61,58.36 261.13,42.84 280.50,48.32" fill="none" stroke="#2a8ac0" stroke-width="1.0"/>
<polyline points="199.02,76.63 206.87,72.98 220.58,56.54 233.73,70.24 247.61,74.80 261.13,72.98 280.50,70.24" fill="none" stroke="#2a8ac0" stroke-width="1.0"/>
<polyline points="199.02,72.98 206.87,83.94 220.58,74.80 233.73,78.46 247.61,69.32 261.13,65.67 280.50,64.76" fill="none" stroke="#231f20" stroke-width="1.0"/>
<polyline points="199.02,67.50 206.87,74.80 220.58,71.15 233.73,65.67 247.61,70.24 261.13,65.67 280.50,67.50" fill="none" stroke="#231f20" stroke-width="1.0"/>
<rect x="198.88" y="48.54" width="3.20" height="3.20" fill="#b6e2ae" stroke="#4caf50" stroke-width="1.0"/>
<rect x="205.27" y="36.12" width="3.20" height="3.20" fill="#b6e2ae" stroke="#4caf50" stroke-width="1.0"/>
<rect x="218.98" y="32.10" width="3.20" height="3.20" fill="#b6e2ae" stroke="#4caf50" stroke-width="1.0"/>
<rect x="220.44" y="35.75" width="3.20" height="3.20" fill="#b6e2ae" stroke="#4caf50" stroke-width="1.0"/>
<rect x="226.28" y="36.12" width="3.20" height="3.20" fill="#b6e2ae" stroke="#4caf50" stroke-width="1.0"/>
<rect x="232.13" y="43.98" width="3.20" height="3.20" fill="#b6e2ae" stroke="#4caf50" stroke-width="1.0"/>
<rect x="246.01" y="47.99" width="3.20" height="3.20" fill="#b6e2ae" stroke="#4caf50" stroke-width="1.0"/>
<rect x="259.53" y="37.58" width="3.20" height="3.20" fill="#b6e2ae" stroke="#4caf50" stroke-width="1.0"/>
<rect x="278.90" y="38.49" width="3.20" height="3.20" fill="#b6e2ae" stroke="#4caf50" stroke-width="1.0"/>
<circle cx="200.48" cy="63.84" r="1.6" fill="#b6e2ae" stroke="#4caf50" stroke-width="1.0"/>
<circle cx="206.87" cy="56.54" r="1.6" fill="#b6e2ae" stroke="#4caf50" stroke-width="1.0"/>
<circle cx="220.58" cy="54.71" r="1.6" fill="#b6e2ae" stroke="#4caf50" stroke-width="1.0"/>
<circle cx="233.73" cy="59.28" r="1.6" fill="#b6e2ae" stroke="#4caf50" stroke-width="1.0"/>
<circle cx="247.61" cy="81.20" r="1.6" fill="#b6e2ae" stroke="#4caf50" stroke-width="1.0"/>
<circle cx="261.13" cy="82.11" r="1.6" fill="#b6e2ae" stroke="#4caf50" stroke-width="1.0"/>
<circle cx="280.50" cy="89.05" r="1.6" fill="#b6e2ae" stroke="#4caf50" stroke-width="1.0"/>
<circle cx="199.02" cy="89.42" r="1.5" fill="#3fb0e0"/>
<circle cx="206.87" cy="87.23" r="1.5" fill="#3fb0e0"/>
<circle cx="220.58" cy="93.99" r="1.5" fill="#3fb0e0"/>
<circle cx="233.36" cy="118.10" r="1.5" fill="#3fb0e0"/>
<circle cx="199.02" cy="62.93" r="1.5" fill="#3d1f4f"/>
<circle cx="206.87" cy="55.62" r="1.5" fill="#3d1f4f"/>
<circle cx="220.58" cy="53.80" r="1.5" fill="#3d1f4f"/>
<circle cx="233.73" cy="64.76" r="1.5" fill="#3d1f4f"/>
<circle cx="247.61" cy="63.84" r="1.5" fill="#3d1f4f"/>
<circle cx="261.13" cy="66.58" r="1.5" fill="#3d1f4f"/>
<circle cx="280.50" cy="59.28" r="1.5" fill="#3d1f4f"/>
<circle cx="199.02" cy="74.80" r="1.5" fill="#5a2a70"/>
<circle cx="206.87" cy="83.03" r="1.5" fill="#5a2a70"/>
<circle cx="220.58" cy="76.63" r="1.5" fill="#5a2a70"/>
<circle cx="233.73" cy="78.46" r="1.5" fill="#5a2a70"/>
<circle cx="247.61" cy="68.41" r="1.5" fill="#5a2a70"/>
<circle cx="261.13" cy="66.58" r="1.5" fill="#5a2a70"/>
<circle cx="280.50" cy="63.84" r="1.5" fill="#5a2a70"/>
<circle cx="199.02" cy="80.28" r="1.5" fill="#3aa0d0"/>
<circle cx="206.87" cy="71.15" r="1.5" fill="#3aa0d0"/>
<circle cx="220.58" cy="59.28" r="1.5" fill="#3aa0d0"/>
<circle cx="233.73" cy="71.15" r="1.5" fill="#3aa0d0"/>
<circle cx="247.61" cy="74.80" r="1.5" fill="#3aa0d0"/>
<circle cx="261.13" cy="72.98" r="1.5" fill="#3aa0d0"/>
<circle cx="280.50" cy="69.32" r="1.5" fill="#3aa0d0"/>
<rect x="197.52" y="95.23" width="3.00" height="3.00" fill="#4a1a5a"/>
<rect x="205.37" y="64.17" width="3.00" height="3.00" fill="#4a1a5a"/>
<rect x="219.08" y="63.26" width="3.00" height="3.00" fill="#4a1a5a"/>
<rect x="232.23" y="67.82" width="3.00" height="3.00" fill="#4a1a5a"/>
<rect x="246.11" y="62.34" width="3.00" height="3.00" fill="#4a1a5a"/>
<rect x="259.63" y="65.08" width="3.00" height="3.00" fill="#4a1a5a"/>
<rect x="279.00" y="60.52" width="3.00" height="3.00" fill="#4a1a5a"/>
<circle cx="199.02" cy="100.38" r="1.5" fill="#3aa0d0"/>
<circle cx="206.87" cy="54.71" r="1.5" fill="#3aa0d0"/>
<circle cx="220.58" cy="61.10" r="1.5" fill="#3aa0d0"/>
<circle cx="233.73" cy="56.54" r="1.5" fill="#3aa0d0"/>
<circle cx="247.61" cy="65.67" r="1.5" fill="#3aa0d0"/>
<circle cx="261.13" cy="68.41" r="1.5" fill="#3aa0d0"/>
<circle cx="280.50" cy="70.24" r="1.5" fill="#3aa0d0"/>
<circle cx="200.48" cy="74.80" r="1.5" fill="#3fb0e0"/>
<circle cx="206.87" cy="50.14" r="1.5" fill="#3fb0e0"/>
<circle cx="220.58" cy="51.06" r="1.5" fill="#3fb0e0"/>
<circle cx="233.73" cy="55.62" r="1.5" fill="#3fb0e0"/>
<circle cx="247.61" cy="58.36" r="1.5" fill="#3fb0e0"/>
<circle cx="261.13" cy="42.84" r="1.5" fill="#3fb0e0"/>
<circle cx="280.50" cy="48.32" r="1.5" fill="#3fb0e0"/>
<circle cx="199.02" cy="76.63" r="1.5" fill="#3fb0e0"/>
<circle cx="206.87" cy="72.98" r="1.5" fill="#3fb0e0"/>
<circle cx="220.58" cy="56.54" r="1.5" fill="#3fb0e0"/>
<circle cx="233.73" cy="70.24" r="1.5" fill="#3fb0e0"/>
<circle cx="247.61" cy="74.80" r="1.5" fill="#3fb0e0"/>
<circle cx="261.13" cy="72.98" r="1.5" fill="#3fb0e0"/>
<circle cx="280.50" cy="70.24" r="1.5" fill="#3fb0e0"/>
<circle cx="199.02" cy="72.98" r="1.5" fill="#5a1a6a"/>
<circle cx="206.87" cy="83.94" r="1.5" fill="#5a1a6a"/>
<circle cx="220.58" cy="74.80" r="1.5" fill="#5a1a6a"/>
<circle cx="233.73" cy="78.46" r="1.5" fill="#5a1a6a"/>
<circle cx="247.61" cy="69.32" r="1.5" fill="#5a1a6a"/>
<circle cx="261.13" cy="65.67" r="1.5" fill="#5a1a6a"/>
<circle cx="280.50" cy="64.76" r="1.5" fill="#5a1a6a"/>
<circle cx="199.02" cy="67.50" r="1.5" fill="#3d1f4f"/>
<circle cx="206.87" cy="74.80" r="1.5" fill="#3d1f4f"/>
<circle cx="220.58" cy="71.15" r="1.5" fill="#3d1f4f"/>
<circle cx="233.73" cy="65.67" r="1.5" fill="#3d1f4f"/>
<circle cx="247.61" cy="70.24" r="1.5" fill="#3d1f4f"/>
<circle cx="261.13" cy="65.67" r="1.5" fill="#3d1f4f"/>
<circle cx="280.50" cy="67.50" r="1.5" fill="#3d1f4f"/>
<polyline points="286.11,37.30 289.92,35.57 294.25,37.30 299.44,32.11 303.76,30.38 308.95,29.52 313.28,31.25 316.74,35.57 326.25,46.82" fill="none" stroke="#231f20" stroke-width="0.9"/>
<polyline points="286.46,56.33 290.79,52.87 294.25,54.60 297.71,56.33 302.03,47.68 305.49,48.55 310.68,50.28 315.87,53.74 334.90,59.79 348.74,66.71 357.39,70.17 372.97,69.31" fill="none" stroke="#2a8ac0" stroke-width="0.9"/>
<polyline points="286.11,71.90 289.92,73.63 300.30,75.36 304.63,58.93 306.36,56.33 308.95,61.52 313.28,66.71 317.60,70.17 322.79,71.90 334.90,70.17 348.74,68.44 359.12,75.36 372.97,77.09" fill="none" stroke="#2a8ac0" stroke-width="0.9"/>
<polyline points="286.11,56.33 289.92,58.06 293.38,70.17 298.57,73.63 303.76,77.09 308.95,78.82 315.01,77.09 326.25,62.39 333.17,71.04 343.55,70.17 357.39,66.71 372.97,68.44" fill="none" stroke="#231f20" stroke-width="0.9"/>
<polyline points="286.11,65.85 289.92,68.44 295.11,71.90 300.30,75.36 308.95,77.96 315.87,77.96 324.52,73.63 334.90,71.04 348.74,70.17 359.12,67.58 372.97,65.85" fill="none" stroke="#231f20" stroke-width="0.9"/>
<polyline points="286.11,61.52 290.79,71.90 293.38,85.74 300.30,77.09 307.22,71.90 317.60,67.58 326.25,61.52 340.09,64.12 355.66,66.71 372.97,69.31" fill="none" stroke="#231f20" stroke-width="0.9"/>
<polyline points="286.11,82.28 289.92,79.69 296.84,81.42 306.36,84.01 317.60,77.09 326.25,75.36 340.09,71.90 355.66,70.17 372.97,70.17" fill="none" stroke="#231f20" stroke-width="0.9"/>
<polyline points="286.11,84.01 293.38,79.69 300.30,73.63 307.22,71.90 315.87,77.96" fill="none" stroke="#231f20" stroke-width="0.9"/>
<polyline points="330.00,57.50 352.50,67.50 358.75,67.00 371.25,68.75 381.25,72.00 407.50,77.50 436.25,72.50 451.25,78.75" fill="none" stroke="#231f20" stroke-width="0.9"/>
<polyline points="330.00,66.25 340.00,63.75 360.00,75.00 371.25,77.50" fill="none" stroke="#2a8ac0" stroke-width="0.9"/>
<polyline points="367.50,68.75 380.00,72.50 386.25,78.75 396.25,80.75 412.50,80.75 431.25,108.00" fill="none" stroke="#231f20" stroke-width="0.9"/>
<polyline points="372.50,67.50 392.50,72.00" fill="none" stroke="#231f20" stroke-width="0.9"/>
<polyline points="360.00,70.00 380.00,72.00 412.50,80.00 435.00,77.00" fill="none" stroke="#231f20" stroke-width="0.9"/>
<rect x="284.76" y="35.95" width="2.70" height="2.70" fill="#b6e2ae" stroke="#4caf50" stroke-width="0.9"/>
<rect x="288.57" y="34.22" width="2.70" height="2.70" fill="#b6e2ae" stroke="#4caf50" stroke-width="0.9"/>
<rect x="292.90" y="35.95" width="2.70" height="2.70" fill="#b6e2ae" stroke="#4caf50" stroke-width="0.9"/>
<rect x="298.09" y="30.76" width="2.70" height="2.70" fill="#b6e2ae" stroke="#4caf50" stroke-width="0.9"/>
<rect x="302.41" y="29.03" width="2.70" height="2.70" fill="#b6e2ae" stroke="#4caf50" stroke-width="0.9"/>
<rect x="307.60" y="28.17" width="2.70" height="2.70" fill="#b6e2ae" stroke="#4caf50" stroke-width="0.9"/>
<rect x="311.93" y="29.90" width="2.70" height="2.70" fill="#b6e2ae" stroke="#4caf50" stroke-width="0.9"/>
<rect x="315.39" y="34.22" width="2.70" height="2.70" fill="#b6e2ae" stroke="#4caf50" stroke-width="0.9"/>
<rect x="324.90" y="45.47" width="2.70" height="2.70" fill="#b6e2ae" stroke="#4caf50" stroke-width="0.9"/>
<circle cx="286.46" cy="56.33" r="1.35" fill="#3fb0e0"/>
<circle cx="290.79" cy="52.87" r="1.35" fill="#3fb0e0"/>
<circle cx="294.25" cy="54.60" r="1.35" fill="#3fb0e0"/>
<circle cx="297.71" cy="56.33" r="1.35" fill="#3fb0e0"/>
<circle cx="302.03" cy="47.68" r="1.35" fill="#3fb0e0"/>
<circle cx="305.49" cy="48.55" r="1.35" fill="#3fb0e0"/>
<circle cx="310.68" cy="50.28" r="1.35" fill="#3fb0e0"/>
<circle cx="315.87" cy="53.74" r="1.35" fill="#3fb0e0"/>
<circle cx="334.90" cy="59.79" r="1.35" fill="#3fb0e0"/>
<circle cx="348.74" cy="66.71" r="1.35" fill="#3fb0e0"/>
<circle cx="357.39" cy="70.17" r="1.35" fill="#3fb0e0"/>
<circle cx="372.97" cy="69.31" r="1.35" fill="#3fb0e0"/>
<circle cx="286.11" cy="71.90" r="1.35" fill="#3fb0e0"/>
<circle cx="289.92" cy="73.63" r="1.35" fill="#3fb0e0"/>
<circle cx="300.30" cy="75.36" r="1.35" fill="#3fb0e0"/>
<circle cx="304.63" cy="58.93" r="1.35" fill="#3fb0e0"/>
<circle cx="306.36" cy="56.33" r="1.35" fill="#3fb0e0"/>
<circle cx="308.95" cy="61.52" r="1.35" fill="#3fb0e0"/>
<circle cx="313.28" cy="66.71" r="1.35" fill="#3fb0e0"/>
<circle cx="317.60" cy="70.17" r="1.35" fill="#3fb0e0"/>
<circle cx="322.79" cy="71.90" r="1.35" fill="#3fb0e0"/>
<circle cx="334.90" cy="70.17" r="1.35" fill="#3fb0e0"/>
<circle cx="348.74" cy="68.44" r="1.35" fill="#3fb0e0"/>
<circle cx="359.12" cy="75.36" r="1.35" fill="#3fb0e0"/>
<circle cx="372.97" cy="77.09" r="1.35" fill="#3fb0e0"/>
<circle cx="286.11" cy="56.33" r="1.35" fill="#3d1f4f"/>
<circle cx="289.92" cy="58.06" r="1.35" fill="#3d1f4f"/>
<circle cx="293.38" cy="70.17" r="1.35" fill="#3d1f4f"/>
<circle cx="298.57" cy="73.63" r="1.35" fill="#3d1f4f"/>
<circle cx="303.76" cy="77.09" r="1.35" fill="#3d1f4f"/>
<circle cx="308.95" cy="78.82" r="1.35" fill="#3d1f4f"/>
<circle cx="315.01" cy="77.09" r="1.35" fill="#3d1f4f"/>
<circle cx="326.25" cy="62.39" r="1.35" fill="#3d1f4f"/>
<circle cx="333.17" cy="71.04" r="1.35" fill="#3d1f4f"/>
<circle cx="343.55" cy="70.17" r="1.35" fill="#3d1f4f"/>
<circle cx="357.39" cy="66.71" r="1.35" fill="#3d1f4f"/>
<circle cx="372.97" cy="68.44" r="1.35" fill="#3d1f4f"/>
<circle cx="286.11" cy="65.85" r="1.35" fill="#5a1a6a"/>
<circle cx="289.92" cy="68.44" r="1.35" fill="#5a1a6a"/>
<circle cx="295.11" cy="71.90" r="1.35" fill="#5a1a6a"/>
<circle cx="300.30" cy="75.36" r="1.35" fill="#5a1a6a"/>
<circle cx="308.95" cy="77.96" r="1.35" fill="#5a1a6a"/>
<circle cx="315.87" cy="77.96" r="1.35" fill="#5a1a6a"/>
<circle cx="324.52" cy="73.63" r="1.35" fill="#5a1a6a"/>
<circle cx="334.90" cy="71.04" r="1.35" fill="#5a1a6a"/>
<circle cx="348.74" cy="70.17" r="1.35" fill="#5a1a6a"/>
<circle cx="359.12" cy="67.58" r="1.35" fill="#5a1a6a"/>
<circle cx="372.97" cy="65.85" r="1.35" fill="#5a1a6a"/>
<circle cx="286.11" cy="61.52" r="1.35" fill="#3aa0d0"/>
<circle cx="290.79" cy="71.90" r="1.35" fill="#3aa0d0"/>
<circle cx="293.38" cy="85.74" r="1.35" fill="#3aa0d0"/>
<circle cx="300.30" cy="77.09" r="1.35" fill="#3aa0d0"/>
<circle cx="307.22" cy="71.90" r="1.35" fill="#3aa0d0"/>
<circle cx="317.60" cy="67.58" r="1.35" fill="#3aa0d0"/>
<circle cx="326.25" cy="61.52" r="1.35" fill="#3aa0d0"/>
<circle cx="340.09" cy="64.12" r="1.35" fill="#3aa0d0"/>
<circle cx="355.66" cy="66.71" r="1.35" fill="#3aa0d0"/>
<circle cx="372.97" cy="69.31" r="1.35" fill="#3aa0d0"/>
<circle cx="286.11" cy="82.28" r="1.35" fill="#b6e2ae" stroke="#4caf50" stroke-width="0.9"/>
<circle cx="289.92" cy="79.69" r="1.35" fill="#b6e2ae" stroke="#4caf50" stroke-width="0.9"/>
<circle cx="296.84" cy="81.42" r="1.35" fill="#b6e2ae" stroke="#4caf50" stroke-width="0.9"/>
<circle cx="306.36" cy="84.01" r="1.35" fill="#b6e2ae" stroke="#4caf50" stroke-width="0.9"/>
<circle cx="317.60" cy="77.09" r="1.35" fill="#b6e2ae" stroke="#4caf50" stroke-width="0.9"/>
<circle cx="326.25" cy="75.36" r="1.35" fill="#b6e2ae" stroke="#4caf50" stroke-width="0.9"/>
<circle cx="340.09" cy="71.90" r="1.35" fill="#b6e2ae" stroke="#4caf50" stroke-width="0.9"/>
<circle cx="355.66" cy="70.17" r="1.35" fill="#b6e2ae" stroke="#4caf50" stroke-width="0.9"/>
<circle cx="372.97" cy="70.17" r="1.35" fill="#b6e2ae" stroke="#4caf50" stroke-width="0.9"/>
<rect x="284.76" y="82.66" width="2.70" height="2.70" fill="#4a1a5a"/>
<rect x="292.03" y="78.34" width="2.70" height="2.70" fill="#4a1a5a"/>
<rect x="298.95" y="72.28" width="2.70" height="2.70" fill="#4a1a5a"/>
<rect x="305.87" y="70.55" width="2.70" height="2.70" fill="#4a1a5a"/>
<rect x="314.52" y="76.61" width="2.70" height="2.70" fill="#4a1a5a"/>
<circle cx="330.00" cy="57.50" r="1.35" fill="#3d1f4f"/>
<circle cx="352.50" cy="67.50" r="1.35" fill="#3d1f4f"/>
<circle cx="358.75" cy="67.00" r="1.35" fill="#3d1f4f"/>
<circle cx="371.25" cy="68.75" r="1.35" fill="#3d1f4f"/>
<circle cx="381.25" cy="72.00" r="1.35" fill="#3d1f4f"/>
<circle cx="407.50" cy="77.50" r="1.35" fill="#3d1f4f"/>
<circle cx="436.25" cy="72.50" r="1.35" fill="#3d1f4f"/>
<circle cx="451.25" cy="78.75" r="1.35" fill="#3d1f4f"/>
<circle cx="330.00" cy="66.25" r="1.35" fill="#3fb0e0"/>
<circle cx="340.00" cy="63.75" r="1.35" fill="#3fb0e0"/>
<circle cx="360.00" cy="75.00" r="1.35" fill="#3fb0e0"/>
<circle cx="371.25" cy="77.50" r="1.35" fill="#3fb0e0"/>
<circle cx="367.50" cy="68.75" r="1.35" fill="#3aa0d0"/>
<circle cx="380.00" cy="72.50" r="1.35" fill="#3aa0d0"/>
<circle cx="386.25" cy="78.75" r="1.35" fill="#3aa0d0"/>
<circle cx="396.25" cy="80.75" r="1.35" fill="#3aa0d0"/>
<circle cx="412.50" cy="80.75" r="1.35" fill="#3aa0d0"/>
<circle cx="431.25" cy="108.00" r="1.35" fill="#3aa0d0"/>
<rect x="371.15" y="66.15" width="2.70" height="2.70" fill="#b6e2ae" stroke="#4caf50" stroke-width="0.9"/>
<rect x="391.15" y="70.65" width="2.70" height="2.70" fill="#b6e2ae" stroke="#4caf50" stroke-width="0.9"/>
<circle cx="360.00" cy="70.00" r="1.35" fill="#3aa0d0"/>
<circle cx="380.00" cy="72.00" r="1.35" fill="#3aa0d0"/>
<circle cx="412.50" cy="80.00" r="1.35" fill="#3aa0d0"/>
<circle cx="435.00" cy="77.00" r="1.35" fill="#3aa0d0"/>
<line x1="471.30" y1="22.75" x2="480.60" y2="22.75" stroke="#3d1f4f" stroke-width="1.1"/>
<circle cx="476.00" cy="22.75" r="2.0" fill="#3d1f4f"/>
<text x="483.80" y="25.05" font-size="6.6" fill="#231f20">Pt 1.2</text>
<line x1="471.30" y1="32.70" x2="480.60" y2="32.70" stroke="#4a1a5a" stroke-width="1.1"/>
<rect x="474.00" y="30.70" width="4.00" height="4.00" fill="#4a1a5a"/>
<text x="483.80" y="35.00" font-size="6.6" fill="#231f20">Pt 2</text>
<line x1="471.30" y1="42.65" x2="480.60" y2="42.65" stroke="#5aaed8" stroke-width="1.1"/>
<line x1="459.50" y1="42.65" x2="466.50" y2="42.65" stroke="#231f20" stroke-width="0.9"/>
<path d="M463.00,40.56 L464.90,43.98 L461.10,43.98Z" fill="#231f20"/>
<text x="468.80" y="44.85" font-size="6.6" fill="#231f20" text-anchor="middle">/</text>
<path d="M476.00,40.56 L477.90,43.98 L474.10,43.98Z" fill="#5aaed8"/>
<text x="483.80" y="44.95" font-size="6.6" fill="#231f20">Pt 3.1/3.2</text>
<line x1="471.30" y1="52.60" x2="480.60" y2="52.60" stroke="#4a1a5a" stroke-width="1.1"/>
<path d="M476.00,50.20 L478.40,52.60 L476.00,55.00 L473.60,52.60Z" fill="#4a1a5a"/>
<text x="483.80" y="54.90" font-size="6.6" fill="#231f20">Pt 4</text>
<line x1="471.30" y1="62.55" x2="480.60" y2="62.55" stroke="#2fa8d8" stroke-width="1.1"/>
<circle cx="476.00" cy="62.55" r="2.0" fill="#2fa8d8"/>
<text x="483.80" y="64.85" font-size="6.6" fill="#231f20">Pt 5.1/5.2</text>
<line x1="471.30" y1="72.50" x2="480.60" y2="72.50" stroke="#2a8a9a" stroke-width="1.1"/>
<rect x="474.00" y="70.50" width="4.00" height="4.00" fill="#2a8a9a"/>
<text x="483.80" y="74.80" font-size="6.6" fill="#231f20">Pt 6</text>
<line x1="471.30" y1="82.45" x2="480.60" y2="82.45" stroke="#3a9ad0" stroke-width="1.1"/>
<path d="M476.00,80.05 L478.40,82.45 L476.00,84.85 L473.60,82.45Z" fill="#3a9ad0"/>
<text x="483.80" y="84.75" font-size="6.6" fill="#231f20">Pt 7</text>
<line x1="471.30" y1="92.40" x2="480.60" y2="92.40" stroke="#2a90c8" stroke-width="1.1"/>
<circle cx="476.00" cy="92.40" r="2.0" fill="#2a90c8"/>
<text x="483.80" y="94.70" font-size="6.6" fill="#231f20">Pt 1.3</text>
<line x1="471.30" y1="102.35" x2="480.60" y2="102.35" stroke="#4aa8e0" stroke-width="1.1"/>
<path d="M476.00,100.15 L478.00,103.75 L474.00,103.75Z" fill="#fff" stroke="#4aa8e0" stroke-width="0.9"/>
<text x="483.80" y="104.65" font-size="6.6" fill="#231f20">Pt 3.3</text>
<line x1="471.30" y1="112.30" x2="480.60" y2="112.30" stroke="#3a9a30" stroke-width="1.1"/>
<circle cx="476.00" cy="112.30" r="2.0" fill="#fff" stroke="#3a9a30" stroke-width="0.9"/>
<text x="483.80" y="114.60" font-size="6.6" fill="#231f20">Pt 8</text>
<line x1="471.30" y1="122.25" x2="480.60" y2="122.25" stroke="#3a9a30" stroke-width="1.1"/>
<rect x="474.00" y="120.25" width="4.00" height="4.00" fill="#fff" stroke="#3a9a30" stroke-width="0.9"/>
<text x="483.80" y="124.55" font-size="6.6" fill="#231f20">Pt 9</text>
<polyline points="58.40,183.00 71.70,183.53 85.00,183.53 98.30,183.53 111.60,183.53 124.90,184.07" fill="none" stroke="#5fb6e4" stroke-width="0.75"/>
<polyline points="58.40,183.53 71.70,185.14 85.00,187.27 98.30,185.14 111.60,185.14 124.90,184.60" fill="none" stroke="#3b1a4e" stroke-width="0.75"/>
<polyline points="58.40,184.07 71.70,187.81 85.00,187.27 98.30,189.41 111.60,187.27 124.90,191.54" fill="none" stroke="#8a58aa" stroke-width="0.75"/>
<polyline points="58.40,184.07 71.70,184.60 85.00,188.34 98.30,185.67 111.60,185.67 124.90,185.14" fill="none" stroke="#3d2a48" stroke-width="0.75"/>
<polyline points="58.40,190.48 71.70,184.60 85.00,184.07 98.30,184.07 111.60,184.07 124.90,184.60" fill="none" stroke="#3c9a44" stroke-width="0.75"/>
<polyline points="58.40,183.53 71.70,183.53 85.00,183.53 98.30,183.53 111.60,183.53 124.90,184.07" fill="none" stroke="#c8102e" stroke-width="0.75"/>
<polyline points="58.40,183.53 71.70,183.53 85.00,183.53 98.30,183.53 111.60,184.07 124.90,184.07" fill="none" stroke="#c8102e" stroke-width="0.75"/>
<polyline points="58.40,183.00 71.70,183.53 85.00,183.53 98.30,183.53 111.60,183.53 124.90,183.53" fill="none" stroke="#c07830" stroke-width="0.75"/>
<polyline points="58.40,183.53 71.70,184.07 85.00,184.07 98.30,184.07 111.60,184.07 124.90,184.60" fill="none" stroke="#e2208a" stroke-width="0.75"/>
<polyline points="58.40,184.07 71.70,185.14 85.00,186.20 98.30,185.14 111.60,186.20 124.90,197.95" fill="none" stroke="#16785c" stroke-width="0.75"/>
<polyline points="58.40,183.00 71.70,183.00 85.00,183.00 98.30,183.00 111.60,183.00 124.90,183.00" fill="none" stroke="#f2b400" stroke-width="0.75"/>
<rect x="57.25" y="181.85" width="2.30" height="2.30" fill="#fff" stroke="#5fb6e4" stroke-width="0.6"/>
<rect x="70.55" y="182.38" width="2.30" height="2.30" fill="#fff" stroke="#5fb6e4" stroke-width="0.6"/>
<rect x="83.85" y="182.38" width="2.30" height="2.30" fill="#fff" stroke="#5fb6e4" stroke-width="0.6"/>
<rect x="97.15" y="182.38" width="2.30" height="2.30" fill="#fff" stroke="#5fb6e4" stroke-width="0.6"/>
<rect x="110.45" y="182.38" width="2.30" height="2.30" fill="#fff" stroke="#5fb6e4" stroke-width="0.6"/>
<rect x="123.75" y="182.92" width="2.30" height="2.30" fill="#fff" stroke="#5fb6e4" stroke-width="0.6"/>
<circle cx="58.40" cy="183.53" r="1.15" fill="#3b1a4e"/>
<circle cx="71.70" cy="185.14" r="1.15" fill="#3b1a4e"/>
<circle cx="85.00" cy="187.27" r="1.15" fill="#3b1a4e"/>
<circle cx="98.30" cy="185.14" r="1.15" fill="#3b1a4e"/>
<circle cx="111.60" cy="185.14" r="1.15" fill="#3b1a4e"/>
<circle cx="124.90" cy="184.60" r="1.15" fill="#3b1a4e"/>
<circle cx="58.40" cy="184.07" r="1.15" fill="#fff" stroke="#8a58aa" stroke-width="0.6"/>
<circle cx="71.70" cy="187.81" r="1.15" fill="#fff" stroke="#8a58aa" stroke-width="0.6"/>
<circle cx="85.00" cy="187.27" r="1.15" fill="#fff" stroke="#8a58aa" stroke-width="0.6"/>
<circle cx="98.30" cy="189.41" r="1.15" fill="#fff" stroke="#8a58aa" stroke-width="0.6"/>
<circle cx="111.60" cy="187.27" r="1.15" fill="#fff" stroke="#8a58aa" stroke-width="0.6"/>
<circle cx="124.90" cy="191.54" r="1.15" fill="#fff" stroke="#8a58aa" stroke-width="0.6"/>
<circle cx="58.40" cy="184.07" r="1.15" fill="#fff" stroke="#3d2a48" stroke-width="0.6"/>
<circle cx="71.70" cy="184.60" r="1.15" fill="#fff" stroke="#3d2a48" stroke-width="0.6"/>
<circle cx="85.00" cy="188.34" r="1.15" fill="#fff" stroke="#3d2a48" stroke-width="0.6"/>
<circle cx="98.30" cy="185.67" r="1.15" fill="#fff" stroke="#3d2a48" stroke-width="0.6"/>
<circle cx="111.60" cy="185.67" r="1.15" fill="#fff" stroke="#3d2a48" stroke-width="0.6"/>
<circle cx="124.90" cy="185.14" r="1.15" fill="#fff" stroke="#3d2a48" stroke-width="0.6"/>
<circle cx="58.40" cy="190.48" r="1.15" fill="#3c9a44"/>
<circle cx="71.70" cy="184.60" r="1.15" fill="#3c9a44"/>
<circle cx="85.00" cy="184.07" r="1.15" fill="#3c9a44"/>
<circle cx="98.30" cy="184.07" r="1.15" fill="#3c9a44"/>
<circle cx="111.60" cy="184.07" r="1.15" fill="#3c9a44"/>
<circle cx="124.90" cy="184.60" r="1.15" fill="#3c9a44"/>
<path d="M58.40,182.27 L59.55,184.34 L57.25,184.34Z" fill="#c8102e"/>
<path d="M71.70,182.27 L72.85,184.34 L70.55,184.34Z" fill="#c8102e"/>
<path d="M85.00,182.27 L86.15,184.34 L83.85,184.34Z" fill="#c8102e"/>
<path d="M98.30,182.27 L99.45,184.34 L97.15,184.34Z" fill="#c8102e"/>
<path d="M111.60,182.27 L112.75,184.34 L110.45,184.34Z" fill="#c8102e"/>
<path d="M124.90,182.80 L126.05,184.87 L123.75,184.87Z" fill="#c8102e"/>
<path d="M58.40,182.27 L59.55,184.34 L57.25,184.34Z" fill="#fff" stroke="#c8102e" stroke-width="0.6"/>
<path d="M71.70,182.27 L72.85,184.34 L70.55,184.34Z" fill="#fff" stroke="#c8102e" stroke-width="0.6"/>
<path d="M85.00,182.27 L86.15,184.34 L83.85,184.34Z" fill="#fff" stroke="#c8102e" stroke-width="0.6"/>
<path d="M98.30,182.27 L99.45,184.34 L97.15,184.34Z" fill="#fff" stroke="#c8102e" stroke-width="0.6"/>
<path d="M111.60,182.80 L112.75,184.87 L110.45,184.87Z" fill="#fff" stroke="#c8102e" stroke-width="0.6"/>
<path d="M124.90,182.80 L126.05,184.87 L123.75,184.87Z" fill="#fff" stroke="#c8102e" stroke-width="0.6"/>
<circle cx="58.40" cy="183.00" r="1.15" fill="#c07830"/>
<circle cx="71.70" cy="183.53" r="1.15" fill="#c07830"/>
<circle cx="85.00" cy="183.53" r="1.15" fill="#c07830"/>
<circle cx="98.30" cy="183.53" r="1.15" fill="#c07830"/>
<circle cx="111.60" cy="183.53" r="1.15" fill="#c07830"/>
<circle cx="124.90" cy="183.53" r="1.15" fill="#c07830"/>
<rect x="57.25" y="182.38" width="2.30" height="2.30" fill="#e2208a"/>
<rect x="70.55" y="182.92" width="2.30" height="2.30" fill="#e2208a"/>
<rect x="83.85" y="182.92" width="2.30" height="2.30" fill="#e2208a"/>
<rect x="97.15" y="182.92" width="2.30" height="2.30" fill="#e2208a"/>
<rect x="110.45" y="182.92" width="2.30" height="2.30" fill="#e2208a"/>
<rect x="123.75" y="183.45" width="2.30" height="2.30" fill="#e2208a"/>
<circle cx="58.40" cy="184.07" r="1.15" fill="#16785c"/>
<circle cx="71.70" cy="185.14" r="1.15" fill="#16785c"/>
<circle cx="85.00" cy="186.20" r="1.15" fill="#16785c"/>
<circle cx="98.30" cy="185.14" r="1.15" fill="#16785c"/>
<circle cx="111.60" cy="186.20" r="1.15" fill="#16785c"/>
<circle cx="124.90" cy="197.95" r="1.15" fill="#16785c"/>
<path d="M58.40,184.26 L59.55,182.19 L57.25,182.19Z" fill="#f2b400"/>
<path d="M71.70,184.26 L72.85,182.19 L70.55,182.19Z" fill="#f2b400"/>
<path d="M85.00,184.26 L86.15,182.19 L83.85,182.19Z" fill="#f2b400"/>
<path d="M98.30,184.26 L99.45,182.19 L97.15,182.19Z" fill="#f2b400"/>
<path d="M111.60,184.26 L112.75,182.19 L110.45,182.19Z" fill="#f2b400"/>
<path d="M124.90,184.26 L126.05,182.19 L123.75,182.19Z" fill="#f2b400"/>
<line x1="51.80" y1="180.50" x2="51.80" y2="236.40" stroke="#231f20" stroke-width="0.9"/>
<line x1="48.80" y1="236.40" x2="131.30" y2="236.40" stroke="#231f20" stroke-width="0.9"/>
<line x1="49.20" y1="236.40" x2="51.80" y2="236.40" stroke="#231f20" stroke-width="0.8"/>
<text x="45.90" y="238.50" font-size="6.1" fill="#231f20" text-anchor="end">0</text>
<line x1="49.20" y1="225.72" x2="51.80" y2="225.72" stroke="#231f20" stroke-width="0.8"/>
<text x="45.90" y="227.82" font-size="6.1" fill="#231f20" text-anchor="end">20</text>
<line x1="49.20" y1="215.04" x2="51.80" y2="215.04" stroke="#231f20" stroke-width="0.8"/>
<text x="45.90" y="217.14" font-size="6.1" fill="#231f20" text-anchor="end">40</text>
<line x1="49.20" y1="204.36" x2="51.80" y2="204.36" stroke="#231f20" stroke-width="0.8"/>
<text x="45.90" y="206.46" font-size="6.1" fill="#231f20" text-anchor="end">60</text>
<line x1="49.20" y1="193.68" x2="51.80" y2="193.68" stroke="#231f20" stroke-width="0.8"/>
<text x="45.90" y="195.78" font-size="6.1" fill="#231f20" text-anchor="end">80</text>
<line x1="49.20" y1="183.00" x2="51.80" y2="183.00" stroke="#231f20" stroke-width="0.8"/>
<text x="45.90" y="185.10" font-size="6.1" fill="#231f20" text-anchor="end">100</text>
<line x1="58.40" y1="236.40" x2="58.40" y2="239.00" stroke="#231f20" stroke-width="0.8"/>
<text x="59.10" y="245.40" font-size="6.5" fill="#231f20" text-anchor="end" transform="rotate(-45 59.10 245.40)">Inf Prod</text>
<line x1="71.70" y1="236.40" x2="71.70" y2="239.00" stroke="#231f20" stroke-width="0.8"/>
<text x="72.40" y="245.40" font-size="6.5" fill="#231f20" text-anchor="end" transform="rotate(-45 72.40 245.40)">Day 4</text>
<line x1="85.00" y1="236.40" x2="85.00" y2="239.00" stroke="#231f20" stroke-width="0.8"/>
<text x="85.70" y="245.40" font-size="6.5" fill="#231f20" text-anchor="end" transform="rotate(-45 85.70 245.40)">Day 11</text>
<line x1="98.30" y1="236.40" x2="98.30" y2="239.00" stroke="#231f20" stroke-width="0.8"/>
<text x="99.00" y="245.40" font-size="6.5" fill="#231f20" text-anchor="end" transform="rotate(-45 99.00 245.40)">Day 18</text>
<line x1="111.60" y1="236.40" x2="111.60" y2="239.00" stroke="#231f20" stroke-width="0.8"/>
<text x="112.30" y="245.40" font-size="6.5" fill="#231f20" text-anchor="end" transform="rotate(-45 112.30 245.40)">Day 25</text>
<line x1="124.90" y1="236.40" x2="124.90" y2="239.00" stroke="#231f20" stroke-width="0.8"/>
<text x="125.60" y="245.40" font-size="6.5" fill="#231f20" text-anchor="end" transform="rotate(-45 125.60 245.40)">Day 32</text>
<text x="29.80" y="208.20" font-size="7.2" fill="#231f20" text-anchor="middle" textLength="28.7" lengthAdjust="spacingAndGlyphs" transform="rotate(-90 29.80 208.20)">% Positive</text>
<text x="91.30" y="171.70" font-size="8.7" fill="#231f20" text-anchor="middle" textLength="21.4" lengthAdjust="spacingAndGlyphs">CD28</text>
<polyline points="172.90,203.29 186.20,209.70 199.50,201.69 212.80,203.29 226.10,199.02 239.40,199.02" fill="none" stroke="#5fb6e4" stroke-width="0.75"/>
<polyline points="172.90,199.02 186.20,193.68 199.50,191.54 212.80,192.61 226.10,192.61 239.40,193.68" fill="none" stroke="#3b1a4e" stroke-width="0.75"/>
<polyline points="172.90,199.55 186.20,207.03 199.50,203.29 212.80,202.76 226.10,205.43 239.40,207.03" fill="none" stroke="#8a58aa" stroke-width="0.75"/>
<polyline points="172.90,204.36 186.20,211.84 199.50,214.51" fill="none" stroke="#3d2a48" stroke-width="0.75"/>
<polyline points="172.90,219.85 186.20,207.03 199.50,201.16 212.80,196.35 226.10,193.68 239.40,192.61" fill="none" stroke="#3c9a44" stroke-width="0.75"/>
<polyline points="172.90,208.63 186.20,213.44 199.50,203.29 212.80,201.16 226.10,208.63 239.40,201.16" fill="none" stroke="#c8102e" stroke-width="0.75"/>
<polyline points="172.90,207.03 186.20,205.43 199.50,202.76 212.80,201.16 226.10,202.76 239.40,199.02" fill="none" stroke="#c8102e" stroke-width="0.75"/>
<polyline points="172.90,203.29 186.20,190.48 199.50,191.01 212.80,192.61 226.10,192.61 239.40,192.61" fill="none" stroke="#c07830" stroke-width="0.75"/>
<polyline points="172.90,208.63 186.20,213.97 199.50,202.76 212.80,201.16 226.10,202.22 239.40,196.88" fill="none" stroke="#e2208a" stroke-width="0.75"/>
<polyline points="172.90,207.03 186.20,205.43 199.50,203.29 212.80,208.63 226.10,203.29 239.40,216.64" fill="none" stroke="#16785c" stroke-width="0.75"/>
<polyline points="172.90,205.43 186.20,212.37 199.50,196.35 212.80,194.75 226.10,192.61 239.40,190.48" fill="none" stroke="#f2b400" stroke-width="0.75"/>
<rect x="171.75" y="202.14" width="2.30" height="2.30" fill="#fff" stroke="#5fb6e4" stroke-width="0.6"/>
<rect x="185.05" y="208.55" width="2.30" height="2.30" fill="#fff" stroke="#5fb6e4" stroke-width="0.6"/>
<rect x="198.35" y="200.54" width="2.30" height="2.30" fill="#fff" stroke="#5fb6e4" stroke-width="0.6"/>
<rect x="211.65" y="202.14" width="2.30" height="2.30" fill="#fff" stroke="#5fb6e4" stroke-width="0.6"/>
<rect x="224.95" y="197.87" width="2.30" height="2.30" fill="#fff" stroke="#5fb6e4" stroke-width="0.6"/>
<rect x="238.25" y="197.87" width="2.30" height="2.30" fill="#fff" stroke="#5fb6e4" stroke-width="0.6"/>
<circle cx="172.90" cy="199.02" r="1.15" fill="#3b1a4e"/>
<circle cx="186.20" cy="193.68" r="1.15" fill="#3b1a4e"/>
<circle cx="199.50" cy="191.54" r="1.15" fill="#3b1a4e"/>
<circle cx="212.80" cy="192.61" r="1.15" fill="#3b1a4e"/>
<circle cx="226.10" cy="192.61" r="1.15" fill="#3b1a4e"/>
<circle cx="239.40" cy="193.68" r="1.15" fill="#3b1a4e"/>
<circle cx="172.90" cy="199.55" r="1.15" fill="#fff" stroke="#8a58aa" stroke-width="0.6"/>
<circle cx="186.20" cy="207.03" r="1.15" fill="#fff" stroke="#8a58aa" stroke-width="0.6"/>
<circle cx="199.50" cy="203.29" r="1.15" fill="#fff" stroke="#8a58aa" stroke-width="0.6"/>
<circle cx="212.80" cy="202.76" r="1.15" fill="#fff" stroke="#8a58aa" stroke-width="0.6"/>
<circle cx="226.10" cy="205.43" r="1.15" fill="#fff" stroke="#8a58aa" stroke-width="0.6"/>
<circle cx="239.40" cy="207.03" r="1.15" fill="#fff" stroke="#8a58aa" stroke-width="0.6"/>
<circle cx="172.90" cy="204.36" r="1.15" fill="#fff" stroke="#3d2a48" stroke-width="0.6"/>
<circle cx="186.20" cy="211.84" r="1.15" fill="#fff" stroke="#3d2a48" stroke-width="0.6"/>
<circle cx="199.50" cy="214.51" r="1.15" fill="#fff" stroke="#3d2a48" stroke-width="0.6"/>
<circle cx="172.90" cy="219.85" r="1.15" fill="#3c9a44"/>
<circle cx="186.20" cy="207.03" r="1.15" fill="#3c9a44"/>
<circle cx="199.50" cy="201.16" r="1.15" fill="#3c9a44"/>
<circle cx="212.80" cy="196.35" r="1.15" fill="#3c9a44"/>
<circle cx="226.10" cy="193.68" r="1.15" fill="#3c9a44"/>
<circle cx="239.40" cy="192.61" r="1.15" fill="#3c9a44"/>
<path d="M172.90,207.37 L174.05,209.44 L171.75,209.44Z" fill="#c8102e"/>
<path d="M186.20,212.17 L187.35,214.24 L185.05,214.24Z" fill="#c8102e"/>
<path d="M199.50,202.03 L200.65,204.10 L198.35,204.10Z" fill="#c8102e"/>
<path d="M212.80,199.89 L213.95,201.96 L211.65,201.96Z" fill="#c8102e"/>
<path d="M226.10,207.37 L227.25,209.44 L224.95,209.44Z" fill="#c8102e"/>
<path d="M239.40,199.89 L240.55,201.96 L238.25,201.96Z" fill="#c8102e"/>
<path d="M172.90,205.77 L174.05,207.84 L171.75,207.84Z" fill="#fff" stroke="#c8102e" stroke-width="0.6"/>
<path d="M186.20,204.16 L187.35,206.23 L185.05,206.23Z" fill="#fff" stroke="#c8102e" stroke-width="0.6"/>
<path d="M199.50,201.49 L200.65,203.56 L198.35,203.56Z" fill="#fff" stroke="#c8102e" stroke-width="0.6"/>
<path d="M212.80,199.89 L213.95,201.96 L211.65,201.96Z" fill="#fff" stroke="#c8102e" stroke-width="0.6"/>
<path d="M226.10,201.49 L227.25,203.56 L224.95,203.56Z" fill="#fff" stroke="#c8102e" stroke-width="0.6"/>
<path d="M239.40,197.76 L240.55,199.83 L238.25,199.83Z" fill="#fff" stroke="#c8102e" stroke-width="0.6"/>
<circle cx="172.90" cy="203.29" r="1.15" fill="#c07830"/>
<circle cx="186.20" cy="190.48" r="1.15" fill="#c07830"/>
<circle cx="199.50" cy="191.01" r="1.15" fill="#c07830"/>
<circle cx="212.80" cy="192.61" r="1.15" fill="#c07830"/>
<circle cx="226.10" cy="192.61" r="1.15" fill="#c07830"/>
<circle cx="239.40" cy="192.61" r="1.15" fill="#c07830"/>
<rect x="171.75" y="207.48" width="2.30" height="2.30" fill="#e2208a"/>
<rect x="185.05" y="212.82" width="2.30" height="2.30" fill="#e2208a"/>
<rect x="198.35" y="201.61" width="2.30" height="2.30" fill="#e2208a"/>
<rect x="211.65" y="200.01" width="2.30" height="2.30" fill="#e2208a"/>
<rect x="224.95" y="201.07" width="2.30" height="2.30" fill="#e2208a"/>
<rect x="238.25" y="195.73" width="2.30" height="2.30" fill="#e2208a"/>
<circle cx="172.90" cy="207.03" r="1.15" fill="#16785c"/>
<circle cx="186.20" cy="205.43" r="1.15" fill="#16785c"/>
<circle cx="199.50" cy="203.29" r="1.15" fill="#16785c"/>
<circle cx="212.80" cy="208.63" r="1.15" fill="#16785c"/>
<circle cx="226.10" cy="203.29" r="1.15" fill="#16785c"/>
<circle cx="239.40" cy="216.64" r="1.15" fill="#16785c"/>
<path d="M172.90,206.69 L174.05,204.62 L171.75,204.62Z" fill="#f2b400"/>
<path d="M186.20,213.63 L187.35,211.56 L185.05,211.56Z" fill="#f2b400"/>
<path d="M199.50,197.61 L200.65,195.54 L198.35,195.54Z" fill="#f2b400"/>
<path d="M212.80,196.01 L213.95,193.94 L211.65,193.94Z" fill="#f2b400"/>
<path d="M226.10,193.88 L227.25,191.81 L224.95,191.81Z" fill="#f2b400"/>
<path d="M239.40,191.74 L240.55,189.67 L238.25,189.67Z" fill="#f2b400"/>
<line x1="166.30" y1="180.50" x2="166.30" y2="236.40" stroke="#231f20" stroke-width="0.9"/>
<line x1="163.30" y1="236.40" x2="245.80" y2="236.40" stroke="#231f20" stroke-width="0.9"/>
<line x1="163.70" y1="236.40" x2="166.30" y2="236.40" stroke="#231f20" stroke-width="0.8"/>
<text x="160.40" y="238.50" font-size="6.1" fill="#231f20" text-anchor="end">0</text>
<line x1="163.70" y1="225.72" x2="166.30" y2="225.72" stroke="#231f20" stroke-width="0.8"/>
<text x="160.40" y="227.82" font-size="6.1" fill="#231f20" text-anchor="end">20</text>
<line x1="163.70" y1="215.04" x2="166.30" y2="215.04" stroke="#231f20" stroke-width="0.8"/>
<text x="160.40" y="217.14" font-size="6.1" fill="#231f20" text-anchor="end">40</text>
<line x1="163.70" y1="204.36" x2="166.30" y2="204.36" stroke="#231f20" stroke-width="0.8"/>
<text x="160.40" y="206.46" font-size="6.1" fill="#231f20" text-anchor="end">60</text>
<line x1="163.70" y1="193.68" x2="166.30" y2="193.68" stroke="#231f20" stroke-width="0.8"/>
<text x="160.40" y="195.78" font-size="6.1" fill="#231f20" text-anchor="end">80</text>
<line x1="163.70" y1="183.00" x2="166.30" y2="183.00" stroke="#231f20" stroke-width="0.8"/>
<text x="160.40" y="185.10" font-size="6.1" fill="#231f20" text-anchor="end">100</text>
<line x1="172.90" y1="236.40" x2="172.90" y2="239.00" stroke="#231f20" stroke-width="0.8"/>
<text x="173.60" y="245.40" font-size="6.5" fill="#231f20" text-anchor="end" transform="rotate(-45 173.60 245.40)">Inf Prod</text>
<line x1="186.20" y1="236.40" x2="186.20" y2="239.00" stroke="#231f20" stroke-width="0.8"/>
<text x="186.90" y="245.40" font-size="6.5" fill="#231f20" text-anchor="end" transform="rotate(-45 186.90 245.40)">Day 4</text>
<line x1="199.50" y1="236.40" x2="199.50" y2="239.00" stroke="#231f20" stroke-width="0.8"/>
<text x="200.20" y="245.40" font-size="6.5" fill="#231f20" text-anchor="end" transform="rotate(-45 200.20 245.40)">Day 11</text>
<line x1="212.80" y1="236.40" x2="212.80" y2="239.00" stroke="#231f20" stroke-width="0.8"/>
<text x="213.50" y="245.40" font-size="6.5" fill="#231f20" text-anchor="end" transform="rotate(-45 213.50 245.40)">Day 18</text>
<line x1="226.10" y1="236.40" x2="226.10" y2="239.00" stroke="#231f20" stroke-width="0.8"/>
<text x="226.80" y="245.40" font-size="6.5" fill="#231f20" text-anchor="end" transform="rotate(-45 226.80 245.40)">Day 25</text>
<line x1="239.40" y1="236.40" x2="239.40" y2="239.00" stroke="#231f20" stroke-width="0.8"/>
<text x="240.10" y="245.40" font-size="6.5" fill="#231f20" text-anchor="end" transform="rotate(-45 240.10 245.40)">Day 32</text>
<text x="144.30" y="208.20" font-size="7.2" fill="#231f20" text-anchor="middle" textLength="28.7" lengthAdjust="spacingAndGlyphs" transform="rotate(-90 144.30 208.20)">% Positive</text>
<text x="205.80" y="171.70" font-size="8.7" fill="#231f20" text-anchor="middle" textLength="21.4" lengthAdjust="spacingAndGlyphs">CD27</text>
<polyline points="287.80,203.29 301.10,201.69 314.40,203.29 327.70,202.76 341.00,204.36 354.30,201.16" fill="none" stroke="#5fb6e4" stroke-width="0.75"/>
<polyline points="287.80,217.18 301.10,215.04 314.40,205.43 327.70,207.03 341.00,208.63 354.30,208.63" fill="none" stroke="#3b1a4e" stroke-width="0.75"/>
<polyline points="287.80,209.70 301.10,207.03 314.40,205.96 327.70,210.77 341.00,207.03 354.30,209.70" fill="none" stroke="#8a58aa" stroke-width="0.75"/>
<polyline points="287.80,213.97 301.10,217.71 314.40,208.63 327.70,211.30 341.00,209.70 354.30,209.70" fill="none" stroke="#3d2a48" stroke-width="0.75"/>
<polyline points="287.80,214.51 301.10,210.77 314.40,203.29 327.70,201.69 341.00,207.03 354.30,200.09" fill="none" stroke="#3c9a44" stroke-width="0.75"/>
<polyline points="287.80,213.97 301.10,217.71 314.40,219.31 327.70,215.57 341.00,211.84 354.30,210.23" fill="none" stroke="#c8102e" stroke-width="0.75"/>
<polyline points="287.80,208.63 301.10,216.11 314.40,215.04 327.70,215.04 341.00,211.30 354.30,209.17" fill="none" stroke="#c8102e" stroke-width="0.75"/>
<polyline points="287.80,202.76 301.10,198.49 314.40,197.95 327.70,199.02 341.00,199.02 354.30,199.02" fill="none" stroke="#c07830" stroke-width="0.75"/>
<polyline points="287.80,210.23 301.10,202.76 314.40,201.16 327.70,193.15 341.00,195.28 354.30,194.21" fill="none" stroke="#e2208a" stroke-width="0.75"/>
<polyline points="287.80,209.70 301.10,215.04 314.40,202.76 327.70,203.29 341.00,208.10 354.30,208.10" fill="none" stroke="#16785c" stroke-width="0.75"/>
<polyline points="287.80,204.36 301.10,199.02 314.40,203.29 327.70,205.43 341.00,201.69 354.30,197.42" fill="none" stroke="#f2b400" stroke-width="0.75"/>
<rect x="286.65" y="202.14" width="2.30" height="2.30" fill="#fff" stroke="#5fb6e4" stroke-width="0.6"/>
<rect x="299.95" y="200.54" width="2.30" height="2.30" fill="#fff" stroke="#5fb6e4" stroke-width="0.6"/>
<rect x="313.25" y="202.14" width="2.30" height="2.30" fill="#fff" stroke="#5fb6e4" stroke-width="0.6"/>
<rect x="326.55" y="201.61" width="2.30" height="2.30" fill="#fff" stroke="#5fb6e4" stroke-width="0.6"/>
<rect x="339.85" y="203.21" width="2.30" height="2.30" fill="#fff" stroke="#5fb6e4" stroke-width="0.6"/>
<rect x="353.15" y="200.01" width="2.30" height="2.30" fill="#fff" stroke="#5fb6e4" stroke-width="0.6"/>
<circle cx="287.80" cy="217.18" r="1.15" fill="#3b1a4e"/>
<circle cx="301.10" cy="215.04" r="1.15" fill="#3b1a4e"/>
<circle cx="314.40" cy="205.43" r="1.15" fill="#3b1a4e"/>
<circle cx="327.70" cy="207.03" r="1.15" fill="#3b1a4e"/>
<circle cx="341.00" cy="208.63" r="1.15" fill="#3b1a4e"/>
<circle cx="354.30" cy="208.63" r="1.15" fill="#3b1a4e"/>
<circle cx="287.80" cy="209.70" r="1.15" fill="#fff" stroke="#8a58aa" stroke-width="0.6"/>
<circle cx="301.10" cy="207.03" r="1.15" fill="#fff" stroke="#8a58aa" stroke-width="0.6"/>
<circle cx="314.40" cy="205.96" r="1.15" fill="#fff" stroke="#8a58aa" stroke-width="0.6"/>
<circle cx="327.70" cy="210.77" r="1.15" fill="#fff" stroke="#8a58aa" stroke-width="0.6"/>
<circle cx="341.00" cy="207.03" r="1.15" fill="#fff" stroke="#8a58aa" stroke-width="0.6"/>
<circle cx="354.30" cy="209.70" r="1.15" fill="#fff" stroke="#8a58aa" stroke-width="0.6"/>
<circle cx="287.80" cy="213.97" r="1.15" fill="#fff" stroke="#3d2a48" stroke-width="0.6"/>
<circle cx="301.10" cy="217.71" r="1.15" fill="#fff" stroke="#3d2a48" stroke-width="0.6"/>
<circle cx="314.40" cy="208.63" r="1.15" fill="#fff" stroke="#3d2a48" stroke-width="0.6"/>
<circle cx="327.70" cy="211.30" r="1.15" fill="#fff" stroke="#3d2a48" stroke-width="0.6"/>
<circle cx="341.00" cy="209.70" r="1.15" fill="#fff" stroke="#3d2a48" stroke-width="0.6"/>
<circle cx="354.30" cy="209.70" r="1.15" fill="#fff" stroke="#3d2a48" stroke-width="0.6"/>
<circle cx="287.80" cy="214.51" r="1.15" fill="#3c9a44"/>
<circle cx="301.10" cy="210.77" r="1.15" fill="#3c9a44"/>
<circle cx="314.40" cy="203.29" r="1.15" fill="#3c9a44"/>
<circle cx="327.70" cy="201.69" r="1.15" fill="#3c9a44"/>
<circle cx="341.00" cy="207.03" r="1.15" fill="#3c9a44"/>
<circle cx="354.30" cy="200.09" r="1.15" fill="#3c9a44"/>
<path d="M287.80,212.71 L288.95,214.78 L286.65,214.78Z" fill="#c8102e"/>
<path d="M301.10,216.45 L302.25,218.52 L299.95,218.52Z" fill="#c8102e"/>
<path d="M314.40,218.05 L315.55,220.12 L313.25,220.12Z" fill="#c8102e"/>
<path d="M327.70,214.31 L328.85,216.38 L326.55,216.38Z" fill="#c8102e"/>
<path d="M341.00,210.57 L342.15,212.64 L339.85,212.64Z" fill="#c8102e"/>
<path d="M354.30,208.97 L355.45,211.04 L353.15,211.04Z" fill="#c8102e"/>
<path d="M287.80,207.37 L288.95,209.44 L286.65,209.44Z" fill="#fff" stroke="#c8102e" stroke-width="0.6"/>
<path d="M301.10,214.84 L302.25,216.91 L299.95,216.91Z" fill="#fff" stroke="#c8102e" stroke-width="0.6"/>
<path d="M314.40,213.78 L315.55,215.85 L313.25,215.85Z" fill="#fff" stroke="#c8102e" stroke-width="0.6"/>
<path d="M327.70,213.78 L328.85,215.85 L326.55,215.85Z" fill="#fff" stroke="#c8102e" stroke-width="0.6"/>
<path d="M341.00,210.04 L342.15,212.11 L339.85,212.11Z" fill="#fff" stroke="#c8102e" stroke-width="0.6"/>
<path d="M354.30,207.90 L355.45,209.97 L353.15,209.97Z" fill="#fff" stroke="#c8102e" stroke-width="0.6"/>
<circle cx="287.80" cy="202.76" r="1.15" fill="#c07830"/>
<circle cx="301.10" cy="198.49" r="1.15" fill="#c07830"/>
<circle cx="314.40" cy="197.95" r="1.15" fill="#c07830"/>
<circle cx="327.70" cy="199.02" r="1.15" fill="#c07830"/>
<circle cx="341.00" cy="199.02" r="1.15" fill="#c07830"/>
<circle cx="354.30" cy="199.02" r="1.15" fill="#c07830"/>
<rect x="286.65" y="209.08" width="2.30" height="2.30" fill="#e2208a"/>
<rect x="299.95" y="201.61" width="2.30" height="2.30" fill="#e2208a"/>
<rect x="313.25" y="200.01" width="2.30" height="2.30" fill="#e2208a"/>
<rect x="326.55" y="192.00" width="2.30" height="2.30" fill="#e2208a"/>
<rect x="339.85" y="194.13" width="2.30" height="2.30" fill="#e2208a"/>
<rect x="353.15" y="193.06" width="2.30" height="2.30" fill="#e2208a"/>
<circle cx="287.80" cy="209.70" r="1.15" fill="#16785c"/>
<circle cx="301.10" cy="215.04" r="1.15" fill="#16785c"/>
<circle cx="314.40" cy="202.76" r="1.15" fill="#16785c"/>
<circle cx="327.70" cy="203.29" r="1.15" fill="#16785c"/>
<circle cx="341.00" cy="208.10" r="1.15" fill="#16785c"/>
<circle cx="354.30" cy="208.10" r="1.15" fill="#16785c"/>
<path d="M287.80,205.62 L288.95,203.56 L286.65,203.56Z" fill="#f2b400"/>
<path d="M301.10,200.28 L302.25,198.22 L299.95,198.22Z" fill="#f2b400"/>
<path d="M314.40,204.56 L315.55,202.49 L313.25,202.49Z" fill="#f2b400"/>
<path d="M327.70,206.69 L328.85,204.62 L326.55,204.62Z" fill="#f2b400"/>
<path d="M341.00,202.95 L342.15,200.88 L339.85,200.88Z" fill="#f2b400"/>
<path d="M354.30,198.68 L355.45,196.61 L353.15,196.61Z" fill="#f2b400"/>
<line x1="281.20" y1="180.50" x2="281.20" y2="236.40" stroke="#231f20" stroke-width="0.9"/>
<line x1="278.20" y1="236.40" x2="360.70" y2="236.40" stroke="#231f20" stroke-width="0.9"/>
<line x1="278.60" y1="236.40" x2="281.20" y2="236.40" stroke="#231f20" stroke-width="0.8"/>
<text x="275.30" y="238.50" font-size="6.1" fill="#231f20" text-anchor="end">0</text>
<line x1="278.60" y1="225.72" x2="281.20" y2="225.72" stroke="#231f20" stroke-width="0.8"/>
<text x="275.30" y="227.82" font-size="6.1" fill="#231f20" text-anchor="end">20</text>
<line x1="278.60" y1="215.04" x2="281.20" y2="215.04" stroke="#231f20" stroke-width="0.8"/>
<text x="275.30" y="217.14" font-size="6.1" fill="#231f20" text-anchor="end">40</text>
<line x1="278.60" y1="204.36" x2="281.20" y2="204.36" stroke="#231f20" stroke-width="0.8"/>
<text x="275.30" y="206.46" font-size="6.1" fill="#231f20" text-anchor="end">60</text>
<line x1="278.60" y1="193.68" x2="281.20" y2="193.68" stroke="#231f20" stroke-width="0.8"/>
<text x="275.30" y="195.78" font-size="6.1" fill="#231f20" text-anchor="end">80</text>
<line x1="278.60" y1="183.00" x2="281.20" y2="183.00" stroke="#231f20" stroke-width="0.8"/>
<text x="275.30" y="185.10" font-size="6.1" fill="#231f20" text-anchor="end">100</text>
<line x1="287.80" y1="236.40" x2="287.80" y2="239.00" stroke="#231f20" stroke-width="0.8"/>
<text x="288.50" y="245.40" font-size="6.5" fill="#231f20" text-anchor="end" transform="rotate(-45 288.50 245.40)">Inf Prod</text>
<line x1="301.10" y1="236.40" x2="301.10" y2="239.00" stroke="#231f20" stroke-width="0.8"/>
<text x="301.80" y="245.40" font-size="6.5" fill="#231f20" text-anchor="end" transform="rotate(-45 301.80 245.40)">Day 4</text>
<line x1="314.40" y1="236.40" x2="314.40" y2="239.00" stroke="#231f20" stroke-width="0.8"/>
<text x="315.10" y="245.40" font-size="6.5" fill="#231f20" text-anchor="end" transform="rotate(-45 315.10 245.40)">Day 11</text>
<line x1="327.70" y1="236.40" x2="327.70" y2="239.00" stroke="#231f20" stroke-width="0.8"/>
<text x="328.40" y="245.40" font-size="6.5" fill="#231f20" text-anchor="end" transform="rotate(-45 328.40 245.40)">Day 18</text>
<line x1="341.00" y1="236.40" x2="341.00" y2="239.00" stroke="#231f20" stroke-width="0.8"/>
<text x="341.70" y="245.40" font-size="6.5" fill="#231f20" text-anchor="end" transform="rotate(-45 341.70 245.40)">Day 25</text>
<line x1="354.30" y1="236.40" x2="354.30" y2="239.00" stroke="#231f20" stroke-width="0.8"/>
<text x="355.00" y="245.40" font-size="6.5" fill="#231f20" text-anchor="end" transform="rotate(-45 355.00 245.40)">Day 32</text>
<text x="259.20" y="208.20" font-size="7.2" fill="#231f20" text-anchor="middle" textLength="28.7" lengthAdjust="spacingAndGlyphs" transform="rotate(-90 259.20 208.20)">% Positive</text>
<text x="320.70" y="171.70" font-size="8.7" fill="#231f20" text-anchor="middle" textLength="25.5" lengthAdjust="spacingAndGlyphs">CD62L</text>
<polyline points="402.10,225.72 415.40,226.79 428.70,234.80 442.00,234.80 455.30,235.33 468.60,235.33" fill="none" stroke="#5fb6e4" stroke-width="0.75"/>
<polyline points="402.10,183.00 415.40,223.58 428.70,222.52 442.00,218.78 455.30,212.90 468.60,211.30" fill="none" stroke="#3b1a4e" stroke-width="0.75"/>
<polyline points="415.40,204.36 428.70,206.50 442.00,205.96 455.30,203.29 468.60,204.36" fill="none" stroke="#8a58aa" stroke-width="0.75"/>
<polyline points="402.10,205.43 415.40,223.58 428.70,225.72 442.00,232.13 455.30,231.06 468.60,229.99" fill="none" stroke="#3d2a48" stroke-width="0.75"/>
<polyline points="402.10,227.86 415.40,225.19 428.70,225.72 442.00,229.99 455.30,229.99 468.60,228.92" fill="none" stroke="#3c9a44" stroke-width="0.75"/>
<polyline points="402.10,205.96 415.40,217.71 428.70,221.45 442.00,232.66 455.30,231.59 468.60,232.66" fill="none" stroke="#c8102e" stroke-width="0.75"/>
<polyline points="402.10,204.36 415.40,223.58 428.70,231.06 442.00,232.13 455.30,231.59 468.60,232.13" fill="none" stroke="#c8102e" stroke-width="0.75"/>
<polyline points="402.10,223.05 415.40,226.79 428.70,228.39 442.00,226.25 455.30,228.39 468.60,226.25" fill="none" stroke="#c07830" stroke-width="0.75"/>
<polyline points="402.10,223.05 415.40,233.20 428.70,229.99 442.00,233.20 455.30,232.13 468.60,232.66" fill="none" stroke="#e2208a" stroke-width="0.75"/>
<polyline points="402.10,199.02 415.40,223.58 428.70,225.19 442.00,229.46 455.30,216.64 468.60,228.39" fill="none" stroke="#16785c" stroke-width="0.75"/>
<polyline points="402.10,224.65 415.40,226.79 428.70,229.46 442.00,227.32 455.30,229.46 468.60,227.32" fill="none" stroke="#f2b400" stroke-width="0.75"/>
<rect x="400.95" y="224.57" width="2.30" height="2.30" fill="#fff" stroke="#5fb6e4" stroke-width="0.6"/>
<rect x="414.25" y="225.64" width="2.30" height="2.30" fill="#fff" stroke="#5fb6e4" stroke-width="0.6"/>
<rect x="427.55" y="233.65" width="2.30" height="2.30" fill="#fff" stroke="#5fb6e4" stroke-width="0.6"/>
<rect x="440.85" y="233.65" width="2.30" height="2.30" fill="#fff" stroke="#5fb6e4" stroke-width="0.6"/>
<rect x="454.15" y="234.18" width="2.30" height="2.30" fill="#fff" stroke="#5fb6e4" stroke-width="0.6"/>
<rect x="467.45" y="234.18" width="2.30" height="2.30" fill="#fff" stroke="#5fb6e4" stroke-width="0.6"/>
<circle cx="402.10" cy="183.00" r="1.15" fill="#3b1a4e"/>
<circle cx="415.40" cy="223.58" r="1.15" fill="#3b1a4e"/>
<circle cx="428.70" cy="222.52" r="1.15" fill="#3b1a4e"/>
<circle cx="442.00" cy="218.78" r="1.15" fill="#3b1a4e"/>
<circle cx="455.30" cy="212.90" r="1.15" fill="#3b1a4e"/>
<circle cx="468.60" cy="211.30" r="1.15" fill="#3b1a4e"/>
<circle cx="415.40" cy="204.36" r="1.15" fill="#fff" stroke="#8a58aa" stroke-width="0.6"/>
<circle cx="428.70" cy="206.50" r="1.15" fill="#fff" stroke="#8a58aa" stroke-width="0.6"/>
<circle cx="442.00" cy="205.96" r="1.15" fill="#fff" stroke="#8a58aa" stroke-width="0.6"/>
<circle cx="455.30" cy="203.29" r="1.15" fill="#fff" stroke="#8a58aa" stroke-width="0.6"/>
<circle cx="468.60" cy="204.36" r="1.15" fill="#fff" stroke="#8a58aa" stroke-width="0.6"/>
<circle cx="402.10" cy="205.43" r="1.15" fill="#fff" stroke="#3d2a48" stroke-width="0.6"/>
<circle cx="415.40" cy="223.58" r="1.15" fill="#fff" stroke="#3d2a48" stroke-width="0.6"/>
<circle cx="428.70" cy="225.72" r="1.15" fill="#fff" stroke="#3d2a48" stroke-width="0.6"/>
<circle cx="442.00" cy="232.13" r="1.15" fill="#fff" stroke="#3d2a48" stroke-width="0.6"/>
<circle cx="455.30" cy="231.06" r="1.15" fill="#fff" stroke="#3d2a48" stroke-width="0.6"/>
<circle cx="468.60" cy="229.99" r="1.15" fill="#fff" stroke="#3d2a48" stroke-width="0.6"/>
<circle cx="402.10" cy="227.86" r="1.15" fill="#3c9a44"/>
<circle cx="415.40" cy="225.19" r="1.15" fill="#3c9a44"/>
<circle cx="428.70" cy="225.72" r="1.15" fill="#3c9a44"/>
<circle cx="442.00" cy="229.99" r="1.15" fill="#3c9a44"/>
<circle cx="455.30" cy="229.99" r="1.15" fill="#3c9a44"/>
<circle cx="468.60" cy="228.92" r="1.15" fill="#3c9a44"/>
<path d="M402.10,204.70 L403.25,206.77 L400.95,206.77Z" fill="#c8102e"/>
<path d="M415.40,216.45 L416.55,218.52 L414.25,218.52Z" fill="#c8102e"/>
<path d="M428.70,220.18 L429.85,222.25 L427.55,222.25Z" fill="#c8102e"/>
<path d="M442.00,231.40 L443.15,233.47 L440.85,233.47Z" fill="#c8102e"/>
<path d="M455.30,230.33 L456.45,232.40 L454.15,232.40Z" fill="#c8102e"/>
<path d="M468.60,231.40 L469.75,233.47 L467.45,233.47Z" fill="#c8102e"/>
<path d="M402.10,203.10 L403.25,205.17 L400.95,205.17Z" fill="#fff" stroke="#c8102e" stroke-width="0.6"/>
<path d="M415.40,222.32 L416.55,224.39 L414.25,224.39Z" fill="#fff" stroke="#c8102e" stroke-width="0.6"/>
<path d="M428.70,229.80 L429.85,231.87 L427.55,231.87Z" fill="#fff" stroke="#c8102e" stroke-width="0.6"/>
<path d="M442.00,230.86 L443.15,232.93 L440.85,232.93Z" fill="#fff" stroke="#c8102e" stroke-width="0.6"/>
<path d="M455.30,230.33 L456.45,232.40 L454.15,232.40Z" fill="#fff" stroke="#c8102e" stroke-width="0.6"/>
<path d="M468.60,230.86 L469.75,232.93 L467.45,232.93Z" fill="#fff" stroke="#c8102e" stroke-width="0.6"/>
<circle cx="402.10" cy="223.05" r="1.15" fill="#c07830"/>
<circle cx="415.40" cy="226.79" r="1.15" fill="#c07830"/>
<circle cx="428.70" cy="228.39" r="1.15" fill="#c07830"/>
<circle cx="442.00" cy="226.25" r="1.15" fill="#c07830"/>
<circle cx="455.30" cy="228.39" r="1.15" fill="#c07830"/>
<circle cx="468.60" cy="226.25" r="1.15" fill="#c07830"/>
<rect x="400.95" y="221.90" width="2.30" height="2.30" fill="#e2208a"/>
<rect x="414.25" y="232.05" width="2.30" height="2.30" fill="#e2208a"/>
<rect x="427.55" y="228.84" width="2.30" height="2.30" fill="#e2208a"/>
<rect x="440.85" y="232.05" width="2.30" height="2.30" fill="#e2208a"/>
<rect x="454.15" y="230.98" width="2.30" height="2.30" fill="#e2208a"/>
<rect x="467.45" y="231.51" width="2.30" height="2.30" fill="#e2208a"/>
<circle cx="402.10" cy="199.02" r="1.15" fill="#16785c"/>
<circle cx="415.40" cy="223.58" r="1.15" fill="#16785c"/>
<circle cx="428.70" cy="225.19" r="1.15" fill="#16785c"/>
<circle cx="442.00" cy="229.46" r="1.15" fill="#16785c"/>
<circle cx="455.30" cy="216.64" r="1.15" fill="#16785c"/>
<circle cx="468.60" cy="228.39" r="1.15" fill="#16785c"/>
<path d="M402.10,225.92 L403.25,223.85 L400.95,223.85Z" fill="#f2b400"/>
<path d="M415.40,228.05 L416.55,225.98 L414.25,225.98Z" fill="#f2b400"/>
<path d="M428.70,230.72 L429.85,228.65 L427.55,228.65Z" fill="#f2b400"/>
<path d="M442.00,228.59 L443.15,226.52 L440.85,226.52Z" fill="#f2b400"/>
<path d="M455.30,230.72 L456.45,228.65 L454.15,228.65Z" fill="#f2b400"/>
<path d="M468.60,228.59 L469.75,226.52 L467.45,226.52Z" fill="#f2b400"/>
<line x1="395.50" y1="180.50" x2="395.50" y2="236.40" stroke="#231f20" stroke-width="0.9"/>
<line x1="392.50" y1="236.40" x2="475.00" y2="236.40" stroke="#231f20" stroke-width="0.9"/>
<line x1="392.90" y1="236.40" x2="395.50" y2="236.40" stroke="#231f20" stroke-width="0.8"/>
<text x="389.60" y="238.50" font-size="6.1" fill="#231f20" text-anchor="end">0</text>
<line x1="392.90" y1="225.72" x2="395.50" y2="225.72" stroke="#231f20" stroke-width="0.8"/>
<text x="389.60" y="227.82" font-size="6.1" fill="#231f20" text-anchor="end">20</text>
<line x1="392.90" y1="215.04" x2="395.50" y2="215.04" stroke="#231f20" stroke-width="0.8"/>
<text x="389.60" y="217.14" font-size="6.1" fill="#231f20" text-anchor="end">40</text>
<line x1="392.90" y1="204.36" x2="395.50" y2="204.36" stroke="#231f20" stroke-width="0.8"/>
<text x="389.60" y="206.46" font-size="6.1" fill="#231f20" text-anchor="end">60</text>
<line x1="392.90" y1="193.68" x2="395.50" y2="193.68" stroke="#231f20" stroke-width="0.8"/>
<text x="389.60" y="195.78" font-size="6.1" fill="#231f20" text-anchor="end">80</text>
<line x1="392.90" y1="183.00" x2="395.50" y2="183.00" stroke="#231f20" stroke-width="0.8"/>
<text x="389.60" y="185.10" font-size="6.1" fill="#231f20" text-anchor="end">100</text>
<line x1="402.10" y1="236.40" x2="402.10" y2="239.00" stroke="#231f20" stroke-width="0.8"/>
<text x="402.80" y="245.40" font-size="6.5" fill="#231f20" text-anchor="end" transform="rotate(-45 402.80 245.40)">Inf Prod</text>
<line x1="415.40" y1="236.40" x2="415.40" y2="239.00" stroke="#231f20" stroke-width="0.8"/>
<text x="416.10" y="245.40" font-size="6.5" fill="#231f20" text-anchor="end" transform="rotate(-45 416.10 245.40)">Day 4</text>
<line x1="428.70" y1="236.40" x2="428.70" y2="239.00" stroke="#231f20" stroke-width="0.8"/>
<text x="429.40" y="245.40" font-size="6.5" fill="#231f20" text-anchor="end" transform="rotate(-45 429.40 245.40)">Day 11</text>
<line x1="442.00" y1="236.40" x2="442.00" y2="239.00" stroke="#231f20" stroke-width="0.8"/>
<text x="442.70" y="245.40" font-size="6.5" fill="#231f20" text-anchor="end" transform="rotate(-45 442.70 245.40)">Day 18</text>
<line x1="455.30" y1="236.40" x2="455.30" y2="239.00" stroke="#231f20" stroke-width="0.8"/>
<text x="456.00" y="245.40" font-size="6.5" fill="#231f20" text-anchor="end" transform="rotate(-45 456.00 245.40)">Day 25</text>
<line x1="468.60" y1="236.40" x2="468.60" y2="239.00" stroke="#231f20" stroke-width="0.8"/>
<text x="469.30" y="245.40" font-size="6.5" fill="#231f20" text-anchor="end" transform="rotate(-45 469.30 245.40)">Day 32</text>
<text x="373.50" y="208.20" font-size="7.2" fill="#231f20" text-anchor="middle" textLength="28.7" lengthAdjust="spacingAndGlyphs" transform="rotate(-90 373.50 208.20)">% Positive</text>
<text x="435.00" y="171.70" font-size="8.7" fill="#231f20" text-anchor="middle" textLength="18.5" lengthAdjust="spacingAndGlyphs">PD-1</text>
<polyline points="58.40,279.21 71.70,279.74 85.00,279.74 98.30,282.93 111.60,281.34 124.90,284.53" fill="none" stroke="#5fb6e4" stroke-width="0.75"/>
<polyline points="58.40,285.59 71.70,304.19 85.00,313.23 98.30,311.63 111.60,316.95" fill="none" stroke="#3b1a4e" stroke-width="0.75"/>
<polyline points="58.40,284.53 71.70,303.66 85.00,307.91 98.30,304.73 111.60,315.36 124.90,319.61" fill="none" stroke="#8a58aa" stroke-width="0.75"/>
<polyline points="58.40,283.47 71.70,299.41 85.00,312.70 98.30,311.10 111.60,316.95 124.90,297.82" fill="none" stroke="#3d2a48" stroke-width="0.75"/>
<polyline points="58.40,281.87 71.70,284.53 85.00,286.65 98.30,289.31 111.60,295.16" fill="none" stroke="#3c9a44" stroke-width="0.75"/>
<polyline points="58.40,280.81 71.70,282.40 85.00,291.97 98.30,291.97 111.60,283.47 124.90,289.31" fill="none" stroke="#c8102e" stroke-width="0.75"/>
<polyline points="58.40,282.40 71.70,283.47 85.00,283.47 98.30,288.78 111.60,284.53 124.90,291.44" fill="none" stroke="#c8102e" stroke-width="0.75"/>
<polyline points="58.40,280.28 71.70,286.65 85.00,286.12 98.30,287.72 111.60,289.84 124.90,296.22" fill="none" stroke="#c07830" stroke-width="0.75"/>
<polyline points="58.40,283.47 71.70,282.40 85.00,282.40 98.30,294.10 111.60,291.97 124.90,282.40" fill="none" stroke="#e2208a" stroke-width="0.75"/>
<polyline points="58.40,280.81 71.70,280.81 85.00,281.87 98.30,284.53 111.60,281.87 124.90,286.12" fill="none" stroke="#16785c" stroke-width="0.75"/>
<polyline points="58.40,279.74 71.70,299.41 85.00,321.73 98.30,318.01 111.60,311.63 124.90,297.82" fill="none" stroke="#f2b400" stroke-width="0.75"/>
<rect x="57.25" y="278.06" width="2.30" height="2.30" fill="#fff" stroke="#5fb6e4" stroke-width="0.6"/>
<rect x="70.55" y="278.59" width="2.30" height="2.30" fill="#fff" stroke="#5fb6e4" stroke-width="0.6"/>
<rect x="83.85" y="278.59" width="2.30" height="2.30" fill="#fff" stroke="#5fb6e4" stroke-width="0.6"/>
<rect x="97.15" y="281.78" width="2.30" height="2.30" fill="#fff" stroke="#5fb6e4" stroke-width="0.6"/>
<rect x="110.45" y="280.19" width="2.30" height="2.30" fill="#fff" stroke="#5fb6e4" stroke-width="0.6"/>
<rect x="123.75" y="283.38" width="2.30" height="2.30" fill="#fff" stroke="#5fb6e4" stroke-width="0.6"/>
<circle cx="58.40" cy="285.59" r="1.15" fill="#3b1a4e"/>
<circle cx="71.70" cy="304.19" r="1.15" fill="#3b1a4e"/>
<circle cx="85.00" cy="313.23" r="1.15" fill="#3b1a4e"/>
<circle cx="98.30" cy="311.63" r="1.15" fill="#3b1a4e"/>
<circle cx="111.60" cy="316.95" r="1.15" fill="#3b1a4e"/>
<circle cx="58.40" cy="284.53" r="1.15" fill="#fff" stroke="#8a58aa" stroke-width="0.6"/>
<circle cx="71.70" cy="303.66" r="1.15" fill="#fff" stroke="#8a58aa" stroke-width="0.6"/>
<circle cx="85.00" cy="307.91" r="1.15" fill="#fff" stroke="#8a58aa" stroke-width="0.6"/>
<circle cx="98.30" cy="304.73" r="1.15" fill="#fff" stroke="#8a58aa" stroke-width="0.6"/>
<circle cx="111.60" cy="315.36" r="1.15" fill="#fff" stroke="#8a58aa" stroke-width="0.6"/>
<circle cx="124.90" cy="319.61" r="1.15" fill="#fff" stroke="#8a58aa" stroke-width="0.6"/>
<circle cx="58.40" cy="283.47" r="1.15" fill="#fff" stroke="#3d2a48" stroke-width="0.6"/>
<circle cx="71.70" cy="299.41" r="1.15" fill="#fff" stroke="#3d2a48" stroke-width="0.6"/>
<circle cx="85.00" cy="312.70" r="1.15" fill="#fff" stroke="#3d2a48" stroke-width="0.6"/>
<circle cx="98.30" cy="311.10" r="1.15" fill="#fff" stroke="#3d2a48" stroke-width="0.6"/>
<circle cx="111.60" cy="316.95" r="1.15" fill="#fff" stroke="#3d2a48" stroke-width="0.6"/>
<circle cx="124.90" cy="297.82" r="1.15" fill="#fff" stroke="#3d2a48" stroke-width="0.6"/>
<circle cx="58.40" cy="281.87" r="1.15" fill="#3c9a44"/>
<circle cx="71.70" cy="284.53" r="1.15" fill="#3c9a44"/>
<circle cx="85.00" cy="286.65" r="1.15" fill="#3c9a44"/>
<circle cx="98.30" cy="289.31" r="1.15" fill="#3c9a44"/>
<circle cx="111.60" cy="295.16" r="1.15" fill="#3c9a44"/>
<path d="M58.40,279.54 L59.55,281.61 L57.25,281.61Z" fill="#c8102e"/>
<path d="M71.70,281.14 L72.85,283.21 L70.55,283.21Z" fill="#c8102e"/>
<path d="M85.00,290.70 L86.15,292.77 L83.85,292.77Z" fill="#c8102e"/>
<path d="M98.30,290.70 L99.45,292.77 L97.15,292.77Z" fill="#c8102e"/>
<path d="M111.60,282.20 L112.75,284.27 L110.45,284.27Z" fill="#c8102e"/>
<path d="M124.90,288.05 L126.05,290.12 L123.75,290.12Z" fill="#c8102e"/>
<path d="M58.40,281.14 L59.55,283.21 L57.25,283.21Z" fill="#fff" stroke="#c8102e" stroke-width="0.6"/>
<path d="M71.70,282.20 L72.85,284.27 L70.55,284.27Z" fill="#fff" stroke="#c8102e" stroke-width="0.6"/>
<path d="M85.00,282.20 L86.15,284.27 L83.85,284.27Z" fill="#fff" stroke="#c8102e" stroke-width="0.6"/>
<path d="M98.30,287.52 L99.45,289.59 L97.15,289.59Z" fill="#fff" stroke="#c8102e" stroke-width="0.6"/>
<path d="M111.60,283.26 L112.75,285.33 L110.45,285.33Z" fill="#fff" stroke="#c8102e" stroke-width="0.6"/>
<path d="M124.90,290.17 L126.05,292.24 L123.75,292.24Z" fill="#fff" stroke="#c8102e" stroke-width="0.6"/>
<circle cx="58.40" cy="280.28" r="1.15" fill="#c07830"/>
<circle cx="71.70" cy="286.65" r="1.15" fill="#c07830"/>
<circle cx="85.00" cy="286.12" r="1.15" fill="#c07830"/>
<circle cx="98.30" cy="287.72" r="1.15" fill="#c07830"/>
<circle cx="111.60" cy="289.84" r="1.15" fill="#c07830"/>
<circle cx="124.90" cy="296.22" r="1.15" fill="#c07830"/>
<rect x="57.25" y="282.32" width="2.30" height="2.30" fill="#e2208a"/>
<rect x="70.55" y="281.25" width="2.30" height="2.30" fill="#e2208a"/>
<rect x="83.85" y="281.25" width="2.30" height="2.30" fill="#e2208a"/>
<rect x="97.15" y="292.95" width="2.30" height="2.30" fill="#e2208a"/>
<rect x="110.45" y="290.82" width="2.30" height="2.30" fill="#e2208a"/>
<rect x="123.75" y="281.25" width="2.30" height="2.30" fill="#e2208a"/>
<circle cx="58.40" cy="280.81" r="1.15" fill="#16785c"/>
<circle cx="71.70" cy="280.81" r="1.15" fill="#16785c"/>
<circle cx="85.00" cy="281.87" r="1.15" fill="#16785c"/>
<circle cx="98.30" cy="284.53" r="1.15" fill="#16785c"/>
<circle cx="111.60" cy="281.87" r="1.15" fill="#16785c"/>
<circle cx="124.90" cy="286.12" r="1.15" fill="#16785c"/>
<path d="M58.40,281.01 L59.55,278.94 L57.25,278.94Z" fill="#f2b400"/>
<path d="M71.70,300.68 L72.85,298.61 L70.55,298.61Z" fill="#f2b400"/>
<path d="M85.00,323.00 L86.15,320.93 L83.85,320.93Z" fill="#f2b400"/>
<path d="M98.30,319.28 L99.45,317.21 L97.15,317.21Z" fill="#f2b400"/>
<path d="M111.60,312.90 L112.75,310.83 L110.45,310.83Z" fill="#f2b400"/>
<path d="M124.90,299.08 L126.05,297.01 L123.75,297.01Z" fill="#f2b400"/>
<line x1="51.80" y1="275.65" x2="51.80" y2="331.30" stroke="#231f20" stroke-width="0.9"/>
<line x1="48.80" y1="331.30" x2="131.30" y2="331.30" stroke="#231f20" stroke-width="0.9"/>
<line x1="49.20" y1="331.30" x2="51.80" y2="331.30" stroke="#231f20" stroke-width="0.8"/>
<text x="45.90" y="333.40" font-size="6.1" fill="#231f20" text-anchor="end">0</text>
<line x1="49.20" y1="320.67" x2="51.80" y2="320.67" stroke="#231f20" stroke-width="0.8"/>
<text x="45.90" y="322.77" font-size="6.1" fill="#231f20" text-anchor="end">20</text>
<line x1="49.20" y1="310.04" x2="51.80" y2="310.04" stroke="#231f20" stroke-width="0.8"/>
<text x="45.90" y="312.14" font-size="6.1" fill="#231f20" text-anchor="end">40</text>
<line x1="49.20" y1="299.41" x2="51.80" y2="299.41" stroke="#231f20" stroke-width="0.8"/>
<text x="45.90" y="301.51" font-size="6.1" fill="#231f20" text-anchor="end">60</text>
<line x1="49.20" y1="288.78" x2="51.80" y2="288.78" stroke="#231f20" stroke-width="0.8"/>
<text x="45.90" y="290.88" font-size="6.1" fill="#231f20" text-anchor="end">80</text>
<line x1="49.20" y1="278.15" x2="51.80" y2="278.15" stroke="#231f20" stroke-width="0.8"/>
<text x="45.90" y="280.25" font-size="6.1" fill="#231f20" text-anchor="end">100</text>
<line x1="58.40" y1="331.30" x2="58.40" y2="333.90" stroke="#231f20" stroke-width="0.8"/>
<text x="59.10" y="340.30" font-size="6.5" fill="#231f20" text-anchor="end" transform="rotate(-45 59.10 340.30)">Inf Prod</text>
<line x1="71.70" y1="331.30" x2="71.70" y2="333.90" stroke="#231f20" stroke-width="0.8"/>
<text x="72.40" y="340.30" font-size="6.5" fill="#231f20" text-anchor="end" transform="rotate(-45 72.40 340.30)">Day 4</text>
<line x1="85.00" y1="331.30" x2="85.00" y2="333.90" stroke="#231f20" stroke-width="0.8"/>
<text x="85.70" y="340.30" font-size="6.5" fill="#231f20" text-anchor="end" transform="rotate(-45 85.70 340.30)">Day 11</text>
<line x1="98.30" y1="331.30" x2="98.30" y2="333.90" stroke="#231f20" stroke-width="0.8"/>
<text x="99.00" y="340.30" font-size="6.5" fill="#231f20" text-anchor="end" transform="rotate(-45 99.00 340.30)">Day 18</text>
<line x1="111.60" y1="331.30" x2="111.60" y2="333.90" stroke="#231f20" stroke-width="0.8"/>
<text x="112.30" y="340.30" font-size="6.5" fill="#231f20" text-anchor="end" transform="rotate(-45 112.30 340.30)">Day 25</text>
<line x1="124.90" y1="331.30" x2="124.90" y2="333.90" stroke="#231f20" stroke-width="0.8"/>
<text x="125.60" y="340.30" font-size="6.5" fill="#231f20" text-anchor="end" transform="rotate(-45 125.60 340.30)">Day 32</text>
<text x="29.80" y="303.23" font-size="7.2" fill="#231f20" text-anchor="middle" textLength="28.7" lengthAdjust="spacingAndGlyphs" transform="rotate(-90 29.80 303.23)">% Positive</text>
<polyline points="172.90,309.51 186.20,298.35 199.50,295.16 212.80,291.97 226.10,290.91 239.40,288.78" fill="none" stroke="#5fb6e4" stroke-width="0.75"/>
<polyline points="172.90,291.44 186.20,283.47 199.50,298.35 212.80,289.84 226.10,288.78 239.40,291.44" fill="none" stroke="#3b1a4e" stroke-width="0.75"/>
<polyline points="172.90,292.50 186.20,302.07 199.50,306.32 212.80,301.00 226.10,312.17 239.40,312.70" fill="none" stroke="#8a58aa" stroke-width="0.75"/>
<polyline points="172.90,293.03 186.20,284.53 199.50,286.65 212.80,293.03 226.10,293.03 239.40,294.10" fill="none" stroke="#3d2a48" stroke-width="0.75"/>
<polyline points="172.90,305.79 186.20,296.75 199.50,291.44 212.80,288.78 226.10,289.84 239.40,293.03" fill="none" stroke="#3c9a44" stroke-width="0.75"/>
<polyline points="172.90,304.19 186.20,289.84 199.50,288.25 212.80,290.91 226.10,289.84 239.40,291.44" fill="none" stroke="#c8102e" stroke-width="0.75"/>
<polyline points="172.90,295.16 186.20,291.97 199.50,288.78 212.80,296.22 226.10,293.03 239.40,289.84" fill="none" stroke="#c8102e" stroke-width="0.75"/>
<polyline points="172.90,291.44 186.20,280.81 199.50,282.40 212.80,289.84 226.10,294.10 239.40,296.75" fill="none" stroke="#c07830" stroke-width="0.75"/>
<polyline points="172.90,295.16 186.20,294.10 199.50,288.78 212.80,289.31 226.10,288.78 239.40,290.91" fill="none" stroke="#e2208a" stroke-width="0.75"/>
<polyline points="172.90,294.10 186.20,291.44 199.50,294.10 212.80,290.91 226.10,290.91 239.40,289.84" fill="none" stroke="#16785c" stroke-width="0.75"/>
<polyline points="172.90,301.54 186.20,306.85 199.50,293.03 212.80,300.47 226.10,306.85 239.40,296.22" fill="none" stroke="#f2b400" stroke-width="0.75"/>
<rect x="171.75" y="308.36" width="2.30" height="2.30" fill="#fff" stroke="#5fb6e4" stroke-width="0.6"/>
<rect x="185.05" y="297.20" width="2.30" height="2.30" fill="#fff" stroke="#5fb6e4" stroke-width="0.6"/>
<rect x="198.35" y="294.01" width="2.30" height="2.30" fill="#fff" stroke="#5fb6e4" stroke-width="0.6"/>
<rect x="211.65" y="290.82" width="2.30" height="2.30" fill="#fff" stroke="#5fb6e4" stroke-width="0.6"/>
<rect x="224.95" y="289.76" width="2.30" height="2.30" fill="#fff" stroke="#5fb6e4" stroke-width="0.6"/>
<rect x="238.25" y="287.63" width="2.30" height="2.30" fill="#fff" stroke="#5fb6e4" stroke-width="0.6"/>
<circle cx="172.90" cy="291.44" r="1.15" fill="#3b1a4e"/>
<circle cx="186.20" cy="283.47" r="1.15" fill="#3b1a4e"/>
<circle cx="199.50" cy="298.35" r="1.15" fill="#3b1a4e"/>
<circle cx="212.80" cy="289.84" r="1.15" fill="#3b1a4e"/>
<circle cx="226.10" cy="288.78" r="1.15" fill="#3b1a4e"/>
<circle cx="239.40" cy="291.44" r="1.15" fill="#3b1a4e"/>
<circle cx="172.90" cy="292.50" r="1.15" fill="#fff" stroke="#8a58aa" stroke-width="0.6"/>
<circle cx="186.20" cy="302.07" r="1.15" fill="#fff" stroke="#8a58aa" stroke-width="0.6"/>
<circle cx="199.50" cy="306.32" r="1.15" fill="#fff" stroke="#8a58aa" stroke-width="0.6"/>
<circle cx="212.80" cy="301.00" r="1.15" fill="#fff" stroke="#8a58aa" stroke-width="0.6"/>
<circle cx="226.10" cy="312.17" r="1.15" fill="#fff" stroke="#8a58aa" stroke-width="0.6"/>
<circle cx="239.40" cy="312.70" r="1.15" fill="#fff" stroke="#8a58aa" stroke-width="0.6"/>
<circle cx="172.90" cy="293.03" r="1.15" fill="#fff" stroke="#3d2a48" stroke-width="0.6"/>
<circle cx="186.20" cy="284.53" r="1.15" fill="#fff" stroke="#3d2a48" stroke-width="0.6"/>
<circle cx="199.50" cy="286.65" r="1.15" fill="#fff" stroke="#3d2a48" stroke-width="0.6"/>
<circle cx="212.80" cy="293.03" r="1.15" fill="#fff" stroke="#3d2a48" stroke-width="0.6"/>
<circle cx="226.10" cy="293.03" r="1.15" fill="#fff" stroke="#3d2a48" stroke-width="0.6"/>
<circle cx="239.40" cy="294.10" r="1.15" fill="#fff" stroke="#3d2a48" stroke-width="0.6"/>
<circle cx="172.90" cy="305.79" r="1.15" fill="#3c9a44"/>
<circle cx="186.20" cy="296.75" r="1.15" fill="#3c9a44"/>
<circle cx="199.50" cy="291.44" r="1.15" fill="#3c9a44"/>
<circle cx="212.80" cy="288.78" r="1.15" fill="#3c9a44"/>
<circle cx="226.10" cy="289.84" r="1.15" fill="#3c9a44"/>
<circle cx="239.40" cy="293.03" r="1.15" fill="#3c9a44"/>
<path d="M172.90,302.93 L174.05,305.00 L171.75,305.00Z" fill="#c8102e"/>
<path d="M186.20,288.58 L187.35,290.65 L185.05,290.65Z" fill="#c8102e"/>
<path d="M199.50,286.98 L200.65,289.05 L198.35,289.05Z" fill="#c8102e"/>
<path d="M212.80,289.64 L213.95,291.71 L211.65,291.71Z" fill="#c8102e"/>
<path d="M226.10,288.58 L227.25,290.65 L224.95,290.65Z" fill="#c8102e"/>
<path d="M239.40,290.17 L240.55,292.24 L238.25,292.24Z" fill="#c8102e"/>
<path d="M172.90,293.89 L174.05,295.96 L171.75,295.96Z" fill="#fff" stroke="#c8102e" stroke-width="0.6"/>
<path d="M186.20,290.70 L187.35,292.77 L185.05,292.77Z" fill="#fff" stroke="#c8102e" stroke-width="0.6"/>
<path d="M199.50,287.52 L200.65,289.59 L198.35,289.59Z" fill="#fff" stroke="#c8102e" stroke-width="0.6"/>
<path d="M212.80,294.96 L213.95,297.03 L211.65,297.03Z" fill="#fff" stroke="#c8102e" stroke-width="0.6"/>
<path d="M226.10,291.77 L227.25,293.84 L224.95,293.84Z" fill="#fff" stroke="#c8102e" stroke-width="0.6"/>
<path d="M239.40,288.58 L240.55,290.65 L238.25,290.65Z" fill="#fff" stroke="#c8102e" stroke-width="0.6"/>
<circle cx="172.90" cy="291.44" r="1.15" fill="#c07830"/>
<circle cx="186.20" cy="280.81" r="1.15" fill="#c07830"/>
<circle cx="199.50" cy="282.40" r="1.15" fill="#c07830"/>
<circle cx="212.80" cy="289.84" r="1.15" fill="#c07830"/>
<circle cx="226.10" cy="294.10" r="1.15" fill="#c07830"/>
<circle cx="239.40" cy="296.75" r="1.15" fill="#c07830"/>
<rect x="171.75" y="294.01" width="2.30" height="2.30" fill="#e2208a"/>
<rect x="185.05" y="292.95" width="2.30" height="2.30" fill="#e2208a"/>
<rect x="198.35" y="287.63" width="2.30" height="2.30" fill="#e2208a"/>
<rect x="211.65" y="288.16" width="2.30" height="2.30" fill="#e2208a"/>
<rect x="224.95" y="287.63" width="2.30" height="2.30" fill="#e2208a"/>
<rect x="238.25" y="289.76" width="2.30" height="2.30" fill="#e2208a"/>
<circle cx="172.90" cy="294.10" r="1.15" fill="#16785c"/>
<circle cx="186.20" cy="291.44" r="1.15" fill="#16785c"/>
<circle cx="199.50" cy="294.10" r="1.15" fill="#16785c"/>
<circle cx="212.80" cy="290.91" r="1.15" fill="#16785c"/>
<circle cx="226.10" cy="290.91" r="1.15" fill="#16785c"/>
<circle cx="239.40" cy="289.84" r="1.15" fill="#16785c"/>
<path d="M172.90,302.80 L174.05,300.73 L171.75,300.73Z" fill="#f2b400"/>
<path d="M186.20,308.12 L187.35,306.05 L185.05,306.05Z" fill="#f2b400"/>
<path d="M199.50,294.30 L200.65,292.23 L198.35,292.23Z" fill="#f2b400"/>
<path d="M212.80,301.74 L213.95,299.67 L211.65,299.67Z" fill="#f2b400"/>
<path d="M226.10,308.12 L227.25,306.05 L224.95,306.05Z" fill="#f2b400"/>
<path d="M239.40,297.49 L240.55,295.42 L238.25,295.42Z" fill="#f2b400"/>
<line x1="166.30" y1="275.65" x2="166.30" y2="331.30" stroke="#231f20" stroke-width="0.9"/>
<line x1="163.30" y1="331.30" x2="245.80" y2="331.30" stroke="#231f20" stroke-width="0.9"/>
<line x1="163.70" y1="331.30" x2="166.30" y2="331.30" stroke="#231f20" stroke-width="0.8"/>
<text x="160.40" y="333.40" font-size="6.1" fill="#231f20" text-anchor="end">0</text>
<line x1="163.70" y1="320.67" x2="166.30" y2="320.67" stroke="#231f20" stroke-width="0.8"/>
<text x="160.40" y="322.77" font-size="6.1" fill="#231f20" text-anchor="end">20</text>
<line x1="163.70" y1="310.04" x2="166.30" y2="310.04" stroke="#231f20" stroke-width="0.8"/>
<text x="160.40" y="312.14" font-size="6.1" fill="#231f20" text-anchor="end">40</text>
<line x1="163.70" y1="299.41" x2="166.30" y2="299.41" stroke="#231f20" stroke-width="0.8"/>
<text x="160.40" y="301.51" font-size="6.1" fill="#231f20" text-anchor="end">60</text>
<line x1="163.70" y1="288.78" x2="166.30" y2="288.78" stroke="#231f20" stroke-width="0.8"/>
<text x="160.40" y="290.88" font-size="6.1" fill="#231f20" text-anchor="end">80</text>
<line x1="163.70" y1="278.15" x2="166.30" y2="278.15" stroke="#231f20" stroke-width="0.8"/>
<text x="160.40" y="280.25" font-size="6.1" fill="#231f20" text-anchor="end">100</text>
<line x1="172.90" y1="331.30" x2="172.90" y2="333.90" stroke="#231f20" stroke-width="0.8"/>
<text x="173.60" y="340.30" font-size="6.5" fill="#231f20" text-anchor="end" transform="rotate(-45 173.60 340.30)">Inf Prod</text>
<line x1="186.20" y1="331.30" x2="186.20" y2="333.90" stroke="#231f20" stroke-width="0.8"/>
<text x="186.90" y="340.30" font-size="6.5" fill="#231f20" text-anchor="end" transform="rotate(-45 186.90 340.30)">Day 4</text>
<line x1="199.50" y1="331.30" x2="199.50" y2="333.90" stroke="#231f20" stroke-width="0.8"/>
<text x="200.20" y="340.30" font-size="6.5" fill="#231f20" text-anchor="end" transform="rotate(-45 200.20 340.30)">Day 11</text>
<line x1="212.80" y1="331.30" x2="212.80" y2="333.90" stroke="#231f20" stroke-width="0.8"/>
<text x="213.50" y="340.30" font-size="6.5" fill="#231f20" text-anchor="end" transform="rotate(-45 213.50 340.30)">Day 18</text>
<line x1="226.10" y1="331.30" x2="226.10" y2="333.90" stroke="#231f20" stroke-width="0.8"/>
<text x="226.80" y="340.30" font-size="6.5" fill="#231f20" text-anchor="end" transform="rotate(-45 226.80 340.30)">Day 25</text>
<line x1="239.40" y1="331.30" x2="239.40" y2="333.90" stroke="#231f20" stroke-width="0.8"/>
<text x="240.10" y="340.30" font-size="6.5" fill="#231f20" text-anchor="end" transform="rotate(-45 240.10 340.30)">Day 32</text>
<text x="144.30" y="303.23" font-size="7.2" fill="#231f20" text-anchor="middle" textLength="28.7" lengthAdjust="spacingAndGlyphs" transform="rotate(-90 144.30 303.23)">% Positive</text>
<polyline points="287.80,311.10 301.10,300.47 314.40,307.91 327.70,306.85 341.00,308.98 354.30,308.45" fill="none" stroke="#5fb6e4" stroke-width="0.75"/>
<polyline points="287.80,328.64 301.10,311.63 314.40,308.98 327.70,311.63 341.00,314.29 354.30,316.42" fill="none" stroke="#3b1a4e" stroke-width="0.75"/>
<polyline points="287.80,313.76 301.10,303.66 314.40,309.51 327.70,304.19 341.00,310.04 354.30,308.98" fill="none" stroke="#8a58aa" stroke-width="0.75"/>
<polyline points="287.80,317.48 301.10,328.64 314.40,310.04 327.70,315.36 341.00,311.10 354.30,318.01" fill="none" stroke="#3d2a48" stroke-width="0.75"/>
<polyline points="287.80,313.23 301.10,306.85 314.40,298.35 327.70,297.28 341.00,303.66" fill="none" stroke="#3c9a44" stroke-width="0.75"/>
<polyline points="287.80,304.19 301.10,313.76 314.40,315.36 327.70,311.63 341.00,313.76 354.30,311.63" fill="none" stroke="#c8102e" stroke-width="0.75"/>
<polyline points="287.80,304.73 301.10,304.73 314.40,304.73 327.70,315.36 341.00,318.54 354.30,320.67" fill="none" stroke="#c8102e" stroke-width="0.75"/>
<polyline points="287.80,304.73 301.10,307.91 314.40,304.73 327.70,296.75 341.00,298.35 354.30,296.22" fill="none" stroke="#c07830" stroke-width="0.75"/>
<polyline points="287.80,305.79 301.10,312.70 314.40,318.01 327.70,324.39 341.00,325.99 354.30,322.80" fill="none" stroke="#e2208a" stroke-width="0.75"/>
<polyline points="287.80,312.70 301.10,307.38 314.40,307.91 327.70,311.10 341.00,314.29 354.30,315.36" fill="none" stroke="#16785c" stroke-width="0.75"/>
<polyline points="287.80,312.17 301.10,312.17 314.40,319.61 327.70,327.05 341.00,321.20 354.30,312.70" fill="none" stroke="#f2b400" stroke-width="0.75"/>
<rect x="286.65" y="309.95" width="2.30" height="2.30" fill="#fff" stroke="#5fb6e4" stroke-width="0.6"/>
<rect x="299.95" y="299.32" width="2.30" height="2.30" fill="#fff" stroke="#5fb6e4" stroke-width="0.6"/>
<rect x="313.25" y="306.76" width="2.30" height="2.30" fill="#fff" stroke="#5fb6e4" stroke-width="0.6"/>
<rect x="326.55" y="305.70" width="2.30" height="2.30" fill="#fff" stroke="#5fb6e4" stroke-width="0.6"/>
<rect x="339.85" y="307.83" width="2.30" height="2.30" fill="#fff" stroke="#5fb6e4" stroke-width="0.6"/>
<rect x="353.15" y="307.30" width="2.30" height="2.30" fill="#fff" stroke="#5fb6e4" stroke-width="0.6"/>
<circle cx="287.80" cy="328.64" r="1.15" fill="#3b1a4e"/>
<circle cx="301.10" cy="311.63" r="1.15" fill="#3b1a4e"/>
<circle cx="314.40" cy="308.98" r="1.15" fill="#3b1a4e"/>
<circle cx="327.70" cy="311.63" r="1.15" fill="#3b1a4e"/>
<circle cx="341.00" cy="314.29" r="1.15" fill="#3b1a4e"/>
<circle cx="354.30" cy="316.42" r="1.15" fill="#3b1a4e"/>
<circle cx="287.80" cy="313.76" r="1.15" fill="#fff" stroke="#8a58aa" stroke-width="0.6"/>
<circle cx="301.10" cy="303.66" r="1.15" fill="#fff" stroke="#8a58aa" stroke-width="0.6"/>
<circle cx="314.40" cy="309.51" r="1.15" fill="#fff" stroke="#8a58aa" stroke-width="0.6"/>
<circle cx="327.70" cy="304.19" r="1.15" fill="#fff" stroke="#8a58aa" stroke-width="0.6"/>
<circle cx="341.00" cy="310.04" r="1.15" fill="#fff" stroke="#8a58aa" stroke-width="0.6"/>
<circle cx="354.30" cy="308.98" r="1.15" fill="#fff" stroke="#8a58aa" stroke-width="0.6"/>
<circle cx="287.80" cy="317.48" r="1.15" fill="#fff" stroke="#3d2a48" stroke-width="0.6"/>
<circle cx="301.10" cy="328.64" r="1.15" fill="#fff" stroke="#3d2a48" stroke-width="0.6"/>
<circle cx="314.40" cy="310.04" r="1.15" fill="#fff" stroke="#3d2a48" stroke-width="0.6"/>
<circle cx="327.70" cy="315.36" r="1.15" fill="#fff" stroke="#3d2a48" stroke-width="0.6"/>
<circle cx="341.00" cy="311.10" r="1.15" fill="#fff" stroke="#3d2a48" stroke-width="0.6"/>
<circle cx="354.30" cy="318.01" r="1.15" fill="#fff" stroke="#3d2a48" stroke-width="0.6"/>
<circle cx="287.80" cy="313.23" r="1.15" fill="#3c9a44"/>
<circle cx="301.10" cy="306.85" r="1.15" fill="#3c9a44"/>
<circle cx="314.40" cy="298.35" r="1.15" fill="#3c9a44"/>
<circle cx="327.70" cy="297.28" r="1.15" fill="#3c9a44"/>
<circle cx="341.00" cy="303.66" r="1.15" fill="#3c9a44"/>
<path d="M287.80,302.93 L288.95,305.00 L286.65,305.00Z" fill="#c8102e"/>
<path d="M301.10,312.50 L302.25,314.57 L299.95,314.57Z" fill="#c8102e"/>
<path d="M314.40,314.09 L315.55,316.16 L313.25,316.16Z" fill="#c8102e"/>
<path d="M327.70,310.37 L328.85,312.44 L326.55,312.44Z" fill="#c8102e"/>
<path d="M341.00,312.50 L342.15,314.57 L339.85,314.57Z" fill="#c8102e"/>
<path d="M354.30,310.37 L355.45,312.44 L353.15,312.44Z" fill="#c8102e"/>
<path d="M287.80,303.46 L288.95,305.53 L286.65,305.53Z" fill="#fff" stroke="#c8102e" stroke-width="0.6"/>
<path d="M301.10,303.46 L302.25,305.53 L299.95,305.53Z" fill="#fff" stroke="#c8102e" stroke-width="0.6"/>
<path d="M314.40,303.46 L315.55,305.53 L313.25,305.53Z" fill="#fff" stroke="#c8102e" stroke-width="0.6"/>
<path d="M327.70,314.09 L328.85,316.16 L326.55,316.16Z" fill="#fff" stroke="#c8102e" stroke-width="0.6"/>
<path d="M341.00,317.28 L342.15,319.35 L339.85,319.35Z" fill="#fff" stroke="#c8102e" stroke-width="0.6"/>
<path d="M354.30,319.41 L355.45,321.48 L353.15,321.48Z" fill="#fff" stroke="#c8102e" stroke-width="0.6"/>
<circle cx="287.80" cy="304.73" r="1.15" fill="#c07830"/>
<circle cx="301.10" cy="307.91" r="1.15" fill="#c07830"/>
<circle cx="314.40" cy="304.73" r="1.15" fill="#c07830"/>
<circle cx="327.70" cy="296.75" r="1.15" fill="#c07830"/>
<circle cx="341.00" cy="298.35" r="1.15" fill="#c07830"/>
<circle cx="354.30" cy="296.22" r="1.15" fill="#c07830"/>
<rect x="286.65" y="304.64" width="2.30" height="2.30" fill="#e2208a"/>
<rect x="299.95" y="311.55" width="2.30" height="2.30" fill="#e2208a"/>
<rect x="313.25" y="316.86" width="2.30" height="2.30" fill="#e2208a"/>
<rect x="326.55" y="323.24" width="2.30" height="2.30" fill="#e2208a"/>
<rect x="339.85" y="324.84" width="2.30" height="2.30" fill="#e2208a"/>
<rect x="353.15" y="321.65" width="2.30" height="2.30" fill="#e2208a"/>
<circle cx="287.80" cy="312.70" r="1.15" fill="#16785c"/>
<circle cx="301.10" cy="307.38" r="1.15" fill="#16785c"/>
<circle cx="314.40" cy="307.91" r="1.15" fill="#16785c"/>
<circle cx="327.70" cy="311.10" r="1.15" fill="#16785c"/>
<circle cx="341.00" cy="314.29" r="1.15" fill="#16785c"/>
<circle cx="354.30" cy="315.36" r="1.15" fill="#16785c"/>
<path d="M287.80,313.43 L288.95,311.36 L286.65,311.36Z" fill="#f2b400"/>
<path d="M301.10,313.43 L302.25,311.36 L299.95,311.36Z" fill="#f2b400"/>
<path d="M314.40,320.87 L315.55,318.80 L313.25,318.80Z" fill="#f2b400"/>
<path d="M327.70,328.31 L328.85,326.24 L326.55,326.24Z" fill="#f2b400"/>
<path d="M341.00,322.47 L342.15,320.40 L339.85,320.40Z" fill="#f2b400"/>
<path d="M354.30,313.96 L355.45,311.89 L353.15,311.89Z" fill="#f2b400"/>
<line x1="281.20" y1="275.65" x2="281.20" y2="331.30" stroke="#231f20" stroke-width="0.9"/>
<line x1="278.20" y1="331.30" x2="360.70" y2="331.30" stroke="#231f20" stroke-width="0.9"/>
<line x1="278.60" y1="331.30" x2="281.20" y2="331.30" stroke="#231f20" stroke-width="0.8"/>
<text x="275.30" y="333.40" font-size="6.1" fill="#231f20" text-anchor="end">0</text>
<line x1="278.60" y1="320.67" x2="281.20" y2="320.67" stroke="#231f20" stroke-width="0.8"/>
<text x="275.30" y="322.77" font-size="6.1" fill="#231f20" text-anchor="end">20</text>
<line x1="278.60" y1="310.04" x2="281.20" y2="310.04" stroke="#231f20" stroke-width="0.8"/>
<text x="275.30" y="312.14" font-size="6.1" fill="#231f20" text-anchor="end">40</text>
<line x1="278.60" y1="299.41" x2="281.20" y2="299.41" stroke="#231f20" stroke-width="0.8"/>
<text x="275.30" y="301.51" font-size="6.1" fill="#231f20" text-anchor="end">60</text>
<line x1="278.60" y1="288.78" x2="281.20" y2="288.78" stroke="#231f20" stroke-width="0.8"/>
<text x="275.30" y="290.88" font-size="6.1" fill="#231f20" text-anchor="end">80</text>
<line x1="278.60" y1="278.15" x2="281.20" y2="278.15" stroke="#231f20" stroke-width="0.8"/>
<text x="275.30" y="280.25" font-size="6.1" fill="#231f20" text-anchor="end">100</text>
<line x1="287.80" y1="331.30" x2="287.80" y2="333.90" stroke="#231f20" stroke-width="0.8"/>
<text x="288.50" y="340.30" font-size="6.5" fill="#231f20" text-anchor="end" transform="rotate(-45 288.50 340.30)">Inf Prod</text>
<line x1="301.10" y1="331.30" x2="301.10" y2="333.90" stroke="#231f20" stroke-width="0.8"/>
<text x="301.80" y="340.30" font-size="6.5" fill="#231f20" text-anchor="end" transform="rotate(-45 301.80 340.30)">Day 4</text>
<line x1="314.40" y1="331.30" x2="314.40" y2="333.90" stroke="#231f20" stroke-width="0.8"/>
<text x="315.10" y="340.30" font-size="6.5" fill="#231f20" text-anchor="end" transform="rotate(-45 315.10 340.30)">Day 11</text>
<line x1="327.70" y1="331.30" x2="327.70" y2="333.90" stroke="#231f20" stroke-width="0.8"/>
<text x="328.40" y="340.30" font-size="6.5" fill="#231f20" text-anchor="end" transform="rotate(-45 328.40 340.30)">Day 18</text>
<line x1="341.00" y1="331.30" x2="341.00" y2="333.90" stroke="#231f20" stroke-width="0.8"/>
<text x="341.70" y="340.30" font-size="6.5" fill="#231f20" text-anchor="end" transform="rotate(-45 341.70 340.30)">Day 25</text>
<line x1="354.30" y1="331.30" x2="354.30" y2="333.90" stroke="#231f20" stroke-width="0.8"/>
<text x="355.00" y="340.30" font-size="6.5" fill="#231f20" text-anchor="end" transform="rotate(-45 355.00 340.30)">Day 32</text>
<text x="259.20" y="303.23" font-size="7.2" fill="#231f20" text-anchor="middle" textLength="28.7" lengthAdjust="spacingAndGlyphs" transform="rotate(-90 259.20 303.23)">% Positive</text>
<polyline points="402.10,328.38 415.40,319.61 428.70,322.80 442.00,327.58 455.30,325.13 468.60,324.39" fill="none" stroke="#5fb6e4" stroke-width="0.75"/>
<polyline points="402.10,280.81 415.40,293.03 428.70,302.07 442.00,318.54 455.30,307.38 468.60,296.75" fill="none" stroke="#3b1a4e" stroke-width="0.75"/>
<polyline points="402.10,304.73 415.40,305.79 428.70,305.47 442.00,294.89 455.30,306.32 468.60,308.98" fill="none" stroke="#8a58aa" stroke-width="0.75"/>
<polyline points="402.10,325.13 415.40,293.24 428.70,300.58 442.00,318.54 455.30,314.82 468.60,320.14" fill="none" stroke="#3d2a48" stroke-width="0.75"/>
<polyline points="402.10,325.99 415.40,317.75 428.70,318.54 442.00,301.54 455.30,306.32 468.60,308.98" fill="none" stroke="#3c9a44" stroke-width="0.75"/>
<polyline points="402.10,324.39 415.40,293.24 428.70,310.57 442.00,318.54 455.30,313.76 468.60,319.61" fill="none" stroke="#c8102e" stroke-width="0.75"/>
<polyline points="402.10,307.91 415.40,302.07 428.70,310.57 442.00,312.70 455.30,320.14 468.60,321.73" fill="none" stroke="#c8102e" stroke-width="0.75"/>
<polyline points="402.10,296.49 415.40,300.47 428.70,303.66 442.00,312.70 455.30,320.14 468.60,323.33" fill="none" stroke="#c07830" stroke-width="0.75"/>
<polyline points="402.10,313.76 415.40,316.10 428.70,316.10 442.00,318.54 455.30,313.76 468.60,318.54" fill="none" stroke="#e2208a" stroke-width="0.75"/>
<polyline points="402.10,303.87 415.40,306.32 428.70,301.54 442.00,301.54 455.30,303.13 468.60,308.98" fill="none" stroke="#16785c" stroke-width="0.75"/>
<polyline points="402.10,307.38 415.40,305.47 428.70,296.49 442.00,298.35 455.30,308.76 468.60,309.51" fill="none" stroke="#f2b400" stroke-width="0.75"/>
<rect x="400.95" y="327.23" width="2.30" height="2.30" fill="#fff" stroke="#5fb6e4" stroke-width="0.6"/>
<rect x="414.25" y="318.46" width="2.30" height="2.30" fill="#fff" stroke="#5fb6e4" stroke-width="0.6"/>
<rect x="427.55" y="321.65" width="2.30" height="2.30" fill="#fff" stroke="#5fb6e4" stroke-width="0.6"/>
<rect x="440.85" y="326.43" width="2.30" height="2.30" fill="#fff" stroke="#5fb6e4" stroke-width="0.6"/>
<rect x="454.15" y="323.98" width="2.30" height="2.30" fill="#fff" stroke="#5fb6e4" stroke-width="0.6"/>
<rect x="467.45" y="323.24" width="2.30" height="2.30" fill="#fff" stroke="#5fb6e4" stroke-width="0.6"/>
<circle cx="402.10" cy="280.81" r="1.15" fill="#3b1a4e"/>
<circle cx="415.40" cy="293.03" r="1.15" fill="#3b1a4e"/>
<circle cx="428.70" cy="302.07" r="1.15" fill="#3b1a4e"/>
<circle cx="442.00" cy="318.54" r="1.15" fill="#3b1a4e"/>
<circle cx="455.30" cy="307.38" r="1.15" fill="#3b1a4e"/>
<circle cx="468.60" cy="296.75" r="1.15" fill="#3b1a4e"/>
<circle cx="402.10" cy="304.73" r="1.15" fill="#fff" stroke="#8a58aa" stroke-width="0.6"/>
<circle cx="415.40" cy="305.79" r="1.15" fill="#fff" stroke="#8a58aa" stroke-width="0.6"/>
<circle cx="428.70" cy="305.47" r="1.15" fill="#fff" stroke="#8a58aa" stroke-width="0.6"/>
<circle cx="442.00" cy="294.89" r="1.15" fill="#fff" stroke="#8a58aa" stroke-width="0.6"/>
<circle cx="455.30" cy="306.32" r="1.15" fill="#fff" stroke="#8a58aa" stroke-width="0.6"/>
<circle cx="468.60" cy="308.98" r="1.15" fill="#fff" stroke="#8a58aa" stroke-width="0.6"/>
<circle cx="402.10" cy="325.13" r="1.15" fill="#fff" stroke="#3d2a48" stroke-width="0.6"/>
<circle cx="415.40" cy="293.24" r="1.15" fill="#fff" stroke="#3d2a48" stroke-width="0.6"/>
<circle cx="428.70" cy="300.58" r="1.15" fill="#fff" stroke="#3d2a48" stroke-width="0.6"/>
<circle cx="442.00" cy="318.54" r="1.15" fill="#fff" stroke="#3d2a48" stroke-width="0.6"/>
<circle cx="455.30" cy="314.82" r="1.15" fill="#fff" stroke="#3d2a48" stroke-width="0.6"/>
<circle cx="468.60" cy="320.14" r="1.15" fill="#fff" stroke="#3d2a48" stroke-width="0.6"/>
<circle cx="402.10" cy="325.99" r="1.15" fill="#3c9a44"/>
<circle cx="415.40" cy="317.75" r="1.15" fill="#3c9a44"/>
<circle cx="428.70" cy="318.54" r="1.15" fill="#3c9a44"/>
<circle cx="442.00" cy="301.54" r="1.15" fill="#3c9a44"/>
<circle cx="455.30" cy="306.32" r="1.15" fill="#3c9a44"/>
<circle cx="468.60" cy="308.98" r="1.15" fill="#3c9a44"/>
<path d="M402.10,323.13 L403.25,325.20 L400.95,325.20Z" fill="#c8102e"/>
<path d="M415.40,291.98 L416.55,294.05 L414.25,294.05Z" fill="#c8102e"/>
<path d="M428.70,309.31 L429.85,311.38 L427.55,311.38Z" fill="#c8102e"/>
<path d="M442.00,317.28 L443.15,319.35 L440.85,319.35Z" fill="#c8102e"/>
<path d="M455.30,312.50 L456.45,314.57 L454.15,314.57Z" fill="#c8102e"/>
<path d="M468.60,318.34 L469.75,320.41 L467.45,320.41Z" fill="#c8102e"/>
<path d="M402.10,306.65 L403.25,308.72 L400.95,308.72Z" fill="#fff" stroke="#c8102e" stroke-width="0.6"/>
<path d="M415.40,300.80 L416.55,302.87 L414.25,302.87Z" fill="#fff" stroke="#c8102e" stroke-width="0.6"/>
<path d="M428.70,309.31 L429.85,311.38 L427.55,311.38Z" fill="#fff" stroke="#c8102e" stroke-width="0.6"/>
<path d="M442.00,311.43 L443.15,313.50 L440.85,313.50Z" fill="#fff" stroke="#c8102e" stroke-width="0.6"/>
<path d="M455.30,318.87 L456.45,320.94 L454.15,320.94Z" fill="#fff" stroke="#c8102e" stroke-width="0.6"/>
<path d="M468.60,320.47 L469.75,322.54 L467.45,322.54Z" fill="#fff" stroke="#c8102e" stroke-width="0.6"/>
<circle cx="402.10" cy="296.49" r="1.15" fill="#c07830"/>
<circle cx="415.40" cy="300.47" r="1.15" fill="#c07830"/>
<circle cx="428.70" cy="303.66" r="1.15" fill="#c07830"/>
<circle cx="442.00" cy="312.70" r="1.15" fill="#c07830"/>
<circle cx="455.30" cy="320.14" r="1.15" fill="#c07830"/>
<circle cx="468.60" cy="323.33" r="1.15" fill="#c07830"/>
<rect x="400.95" y="312.61" width="2.30" height="2.30" fill="#e2208a"/>
<rect x="414.25" y="314.95" width="2.30" height="2.30" fill="#e2208a"/>
<rect x="427.55" y="314.95" width="2.30" height="2.30" fill="#e2208a"/>
<rect x="440.85" y="317.39" width="2.30" height="2.30" fill="#e2208a"/>
<rect x="454.15" y="312.61" width="2.30" height="2.30" fill="#e2208a"/>
<rect x="467.45" y="317.39" width="2.30" height="2.30" fill="#e2208a"/>
<circle cx="402.10" cy="303.87" r="1.15" fill="#16785c"/>
<circle cx="415.40" cy="306.32" r="1.15" fill="#16785c"/>
<circle cx="428.70" cy="301.54" r="1.15" fill="#16785c"/>
<circle cx="442.00" cy="301.54" r="1.15" fill="#16785c"/>
<circle cx="455.30" cy="303.13" r="1.15" fill="#16785c"/>
<circle cx="468.60" cy="308.98" r="1.15" fill="#16785c"/>
<path d="M402.10,308.65 L403.25,306.58 L400.95,306.58Z" fill="#f2b400"/>
<path d="M415.40,306.73 L416.55,304.66 L414.25,304.66Z" fill="#f2b400"/>
<path d="M428.70,297.75 L429.85,295.68 L427.55,295.68Z" fill="#f2b400"/>
<path d="M442.00,299.61 L443.15,297.54 L440.85,297.54Z" fill="#f2b400"/>
<path d="M455.30,310.03 L456.45,307.96 L454.15,307.96Z" fill="#f2b400"/>
<path d="M468.60,310.77 L469.75,308.70 L467.45,308.70Z" fill="#f2b400"/>
<line x1="395.50" y1="275.65" x2="395.50" y2="331.30" stroke="#231f20" stroke-width="0.9"/>
<line x1="392.50" y1="331.30" x2="475.00" y2="331.30" stroke="#231f20" stroke-width="0.9"/>
<line x1="392.90" y1="331.30" x2="395.50" y2="331.30" stroke="#231f20" stroke-width="0.8"/>
<text x="389.60" y="333.40" font-size="6.1" fill="#231f20" text-anchor="end">0</text>
<line x1="392.90" y1="320.67" x2="395.50" y2="320.67" stroke="#231f20" stroke-width="0.8"/>
<text x="389.60" y="322.77" font-size="6.1" fill="#231f20" text-anchor="end">20</text>
<line x1="392.90" y1="310.04" x2="395.50" y2="310.04" stroke="#231f20" stroke-width="0.8"/>
<text x="389.60" y="312.14" font-size="6.1" fill="#231f20" text-anchor="end">40</text>
<line x1="392.90" y1="299.41" x2="395.50" y2="299.41" stroke="#231f20" stroke-width="0.8"/>
<text x="389.60" y="301.51" font-size="6.1" fill="#231f20" text-anchor="end">60</text>
<line x1="392.90" y1="288.78" x2="395.50" y2="288.78" stroke="#231f20" stroke-width="0.8"/>
<text x="389.60" y="290.88" font-size="6.1" fill="#231f20" text-anchor="end">80</text>
<line x1="392.90" y1="278.15" x2="395.50" y2="278.15" stroke="#231f20" stroke-width="0.8"/>
<text x="389.60" y="280.25" font-size="6.1" fill="#231f20" text-anchor="end">100</text>
<line x1="402.10" y1="331.30" x2="402.10" y2="333.90" stroke="#231f20" stroke-width="0.8"/>
<text x="402.80" y="340.30" font-size="6.5" fill="#231f20" text-anchor="end" transform="rotate(-45 402.80 340.30)">Inf Prod</text>
<line x1="415.40" y1="331.30" x2="415.40" y2="333.90" stroke="#231f20" stroke-width="0.8"/>
<text x="416.10" y="340.30" font-size="6.5" fill="#231f20" text-anchor="end" transform="rotate(-45 416.10 340.30)">Day 4</text>
<line x1="428.70" y1="331.30" x2="428.70" y2="333.90" stroke="#231f20" stroke-width="0.8"/>
<text x="429.40" y="340.30" font-size="6.5" fill="#231f20" text-anchor="end" transform="rotate(-45 429.40 340.30)">Day 11</text>
<line x1="442.00" y1="331.30" x2="442.00" y2="333.90" stroke="#231f20" stroke-width="0.8"/>
<text x="442.70" y="340.30" font-size="6.5" fill="#231f20" text-anchor="end" transform="rotate(-45 442.70 340.30)">Day 18</text>
<line x1="455.30" y1="331.30" x2="455.30" y2="333.90" stroke="#231f20" stroke-width="0.8"/>
<text x="456.00" y="340.30" font-size="6.5" fill="#231f20" text-anchor="end" transform="rotate(-45 456.00 340.30)">Day 25</text>
<line x1="468.60" y1="331.30" x2="468.60" y2="333.90" stroke="#231f20" stroke-width="0.8"/>
<text x="469.30" y="340.30" font-size="6.5" fill="#231f20" text-anchor="end" transform="rotate(-45 469.30 340.30)">Day 32</text>
<text x="373.50" y="303.23" font-size="7.2" fill="#231f20" text-anchor="middle" textLength="28.7" lengthAdjust="spacingAndGlyphs" transform="rotate(-90 373.50 303.23)">% Positive</text>
<text x="17.6" y="208.2" font-size="8.5" textLength="48" lengthAdjust="spacingAndGlyphs" fill="#231f20" text-anchor="middle" transform="rotate(-90 17.6 208.2)">CD4<tspan font-size="5" dy="-3">+</tspan><tspan dy="3"> TCR-T</tspan></text>
<text x="17.6" y="303.6" font-size="8.5" textLength="48" lengthAdjust="spacingAndGlyphs" fill="#231f20" text-anchor="middle" transform="rotate(-90 17.6 303.6)">CD8<tspan font-size="5" dy="-3">+</tspan><tspan dy="3"> TCR-T</tspan></text>
<line x1="482.20" y1="198.80" x2="492.00" y2="198.80" stroke="#5fb6e4" stroke-width="1.1"/>
<rect x="484.90" y="196.70" width="4.20" height="4.20" fill="#fff" stroke="#5fb6e4" stroke-width="0.9"/>
<text x="495.00" y="201.00" font-size="6.2" fill="#231f20">Pt 1.3</text>
<line x1="482.20" y1="210.25" x2="492.00" y2="210.25" stroke="#3b1a4e" stroke-width="1.1"/>
<circle cx="487.00" cy="210.25" r="2.1" fill="#3b1a4e"/>
<text x="495.00" y="212.45" font-size="6.2" fill="#231f20">Pt 3.1</text>
<line x1="482.20" y1="221.70" x2="492.00" y2="221.70" stroke="#8a58aa" stroke-width="1.1"/>
<circle cx="487.00" cy="221.70" r="2.1" fill="#fff" stroke="#8a58aa" stroke-width="0.9"/>
<text x="495.00" y="223.90" font-size="6.2" fill="#231f20">Pt 3.2</text>
<line x1="482.20" y1="233.15" x2="492.00" y2="233.15" stroke="#3d2a48" stroke-width="1.1"/>
<circle cx="487.00" cy="233.15" r="2.1" fill="#fff" stroke="#3d2a48" stroke-width="0.9"/>
<text x="495.00" y="235.35" font-size="6.2" fill="#231f20">Pt 3.3</text>
<line x1="482.20" y1="244.60" x2="492.00" y2="244.60" stroke="#3c9a44" stroke-width="1.1"/>
<circle cx="487.00" cy="244.60" r="2.1" fill="#3c9a44"/>
<text x="495.00" y="246.80" font-size="6.2" fill="#231f20">Pt 4</text>
<line x1="482.20" y1="256.05" x2="492.00" y2="256.05" stroke="#c8102e" stroke-width="1.1"/>
<path d="M487.00,253.74 L489.10,257.52 L484.90,257.52Z" fill="#c8102e"/>
<text x="495.00" y="258.25" font-size="6.2" fill="#231f20">Pt 5</text>
<line x1="482.20" y1="267.50" x2="492.00" y2="267.50" stroke="#c8102e" stroke-width="1.1"/>
<path d="M487.00,265.19 L489.10,268.97 L484.90,268.97Z" fill="#fff" stroke="#c8102e" stroke-width="0.9"/>
<text x="495.00" y="269.70" font-size="6.2" fill="#231f20">Pt 5.2</text>
<line x1="482.20" y1="278.95" x2="492.00" y2="278.95" stroke="#c07830" stroke-width="1.1"/>
<circle cx="487.00" cy="278.95" r="2.1" fill="#c07830"/>
<text x="495.00" y="281.15" font-size="6.2" fill="#231f20">Pt 6</text>
<line x1="482.20" y1="290.40" x2="492.00" y2="290.40" stroke="#e2208a" stroke-width="1.1"/>
<rect x="484.90" y="288.30" width="4.20" height="4.20" fill="#e2208a"/>
<text x="495.00" y="292.60" font-size="6.2" fill="#231f20">Pt 7</text>
<line x1="482.20" y1="301.85" x2="492.00" y2="301.85" stroke="#16785c" stroke-width="1.1"/>
<circle cx="487.00" cy="301.85" r="2.1" fill="#16785c"/>
<text x="495.00" y="304.05" font-size="6.2" fill="#231f20">Pt 8</text>
<line x1="482.20" y1="313.30" x2="492.00" y2="313.30" stroke="#f2b400" stroke-width="1.1"/>
<path d="M487.00,315.61 L489.10,311.83 L484.90,311.83Z" fill="#f2b400"/>
<text x="495.00" y="315.50" font-size="6.2" fill="#231f20">Pt 9</text>
<line x1="44.60" y1="398.50" x2="44.60" y2="475.80" stroke="#231f20" stroke-width="1.0"/>
<line x1="44.60" y1="475.30" x2="351.00" y2="475.30" stroke="#231f20" stroke-width="1.0"/>
<line x1="41.00" y1="475.30" x2="45.00" y2="475.30" stroke="#231f20" stroke-width="0.8"/>
<text x="38.30" y="477.50" font-size="6.4" fill="#231f20" text-anchor="end">0</text>
<line x1="41.00" y1="454.90" x2="45.00" y2="454.90" stroke="#231f20" stroke-width="0.8"/>
<text x="38.30" y="457.10" font-size="6.4" fill="#231f20" text-anchor="end">20</text>
<line x1="41.00" y1="434.50" x2="45.00" y2="434.50" stroke="#231f20" stroke-width="0.8"/>
<text x="38.30" y="436.70" font-size="6.4" fill="#231f20" text-anchor="end">40</text>
<line x1="41.00" y1="414.10" x2="45.00" y2="414.10" stroke="#231f20" stroke-width="0.8"/>
<text x="38.30" y="416.30" font-size="6.4" fill="#231f20" text-anchor="end">60</text>
<text x="25.40" y="437.10" font-size="7.8" fill="#231f20" text-anchor="middle" textLength="29.0" lengthAdjust="spacingAndGlyphs" transform="rotate(-90 25.40 437.10)">% Positive</text>
<rect x="47.60" y="449.29" width="9.60" height="26.01" fill="#b59acb"/>
<line x1="52.40" y1="436.27" x2="52.40" y2="462.31" stroke="#231f20" stroke-width="0.7"/>
<line x1="50.60" y1="436.27" x2="54.20" y2="436.27" stroke="#231f20" stroke-width="0.7"/>
<line x1="50.60" y1="462.31" x2="54.20" y2="462.31" stroke="#231f20" stroke-width="0.7"/>
<rect x="51.05" y="434.58" width="2.70" height="2.70" fill="#fff" stroke="#2e2236" stroke-width="0.8"/>
<rect x="48.45" y="436.92" width="2.70" height="2.70" fill="#fff" stroke="#2e2236" stroke-width="0.8"/>
<rect x="51.05" y="446.51" width="2.70" height="2.70" fill="#fff" stroke="#2e2236" stroke-width="0.8"/>
<rect x="51.05" y="449.98" width="2.70" height="2.70" fill="#fff" stroke="#2e2236" stroke-width="0.8"/>
<rect x="51.05" y="467.32" width="2.70" height="2.70" fill="#fff" stroke="#2e2236" stroke-width="0.8"/>
<rect x="58.50" y="428.89" width="9.60" height="46.41" fill="#5e1870"/>
<line x1="63.30" y1="421.62" x2="63.30" y2="436.16" stroke="#231f20" stroke-width="0.7"/>
<line x1="61.50" y1="421.62" x2="65.10" y2="421.62" stroke="#231f20" stroke-width="0.7"/>
<line x1="61.50" y1="436.16" x2="65.10" y2="436.16" stroke="#231f20" stroke-width="0.7"/>
<rect x="61.85" y="416.73" width="2.90" height="2.90" fill="#24082a"/>
<rect x="61.85" y="426.93" width="2.90" height="2.90" fill="#24082a"/>
<rect x="59.25" y="427.95" width="2.90" height="2.90" fill="#24082a"/>
<rect x="64.45" y="428.97" width="2.90" height="2.90" fill="#24082a"/>
<rect x="61.85" y="437.13" width="2.90" height="2.90" fill="#24082a"/>
<rect x="69.40" y="453.37" width="9.60" height="21.93" fill="#c5e6b5"/>
<line x1="74.20" y1="441.47" x2="74.20" y2="465.27" stroke="#1a3d1a" stroke-width="0.7"/>
<line x1="72.40" y1="441.47" x2="76.00" y2="441.47" stroke="#1a3d1a" stroke-width="0.7"/>
<line x1="72.40" y1="465.27" x2="76.00" y2="465.27" stroke="#1a3d1a" stroke-width="0.7"/>
<circle cx="74.20" cy="437.05" r="1.4" fill="#fff" stroke="#163c16" stroke-width="0.8"/>
<circle cx="74.20" cy="446.03" r="1.4" fill="#fff" stroke="#163c16" stroke-width="0.8"/>
<circle cx="74.20" cy="456.02" r="1.4" fill="#fff" stroke="#163c16" stroke-width="0.8"/>
<circle cx="74.20" cy="461.33" r="1.4" fill="#fff" stroke="#163c16" stroke-width="0.8"/>
<circle cx="74.20" cy="466.63" r="1.4" fill="#fff" stroke="#163c16" stroke-width="0.8"/>
<rect x="80.30" y="439.09" width="9.60" height="36.21" fill="#30aa30"/>
<line x1="85.10" y1="421.96" x2="85.10" y2="456.22" stroke="#1a3d1a" stroke-width="0.7"/>
<line x1="83.30" y1="421.96" x2="86.90" y2="421.96" stroke="#1a3d1a" stroke-width="0.7"/>
<line x1="83.30" y1="456.22" x2="86.90" y2="456.22" stroke="#1a3d1a" stroke-width="0.7"/>
<circle cx="85.10" cy="423.79" r="1.4" fill="#30aa30" stroke="#163c16" stroke-width="0.8"/>
<circle cx="85.10" cy="428.69" r="1.4" fill="#30aa30" stroke="#163c16" stroke-width="0.8"/>
<circle cx="85.10" cy="432.46" r="1.4" fill="#30aa30" stroke="#163c16" stroke-width="0.8"/>
<circle cx="85.10" cy="440.62" r="1.4" fill="#30aa30" stroke="#163c16" stroke-width="0.8"/>
<circle cx="85.10" cy="467.14" r="1.4" fill="#30aa30" stroke="#163c16" stroke-width="0.8"/>
<path d="M52.40,428.93 V393.6 H63.30 V411.18" fill="none" stroke="#231f20" stroke-width="0.6"/>
<text x="57.85" y="393.40" font-size="6.0" fill="#231f20" text-anchor="middle">**</text>
<path d="M74.20,430.05 V393.6 H85.10 V414.96" fill="none" stroke="#231f20" stroke-width="0.6"/>
<text x="79.65" y="391.60" font-size="5.6" fill="#231f20" text-anchor="middle">ns</text>
<line x1="68.70" y1="475.30" x2="68.70" y2="477.80" stroke="#231f20" stroke-width="0.8"/>
<text x="68.70" y="487.3" font-size="6.4" fill="#231f20" text-anchor="middle">CD25<tspan font-size="5" dy="-2.8">+</tspan></text>
<rect x="96.80" y="464.49" width="9.60" height="10.81" fill="#b59acb"/>
<line x1="101.60" y1="457.70" x2="101.60" y2="471.28" stroke="#231f20" stroke-width="0.7"/>
<line x1="99.80" y1="457.70" x2="103.40" y2="457.70" stroke="#231f20" stroke-width="0.7"/>
<line x1="99.80" y1="471.28" x2="103.40" y2="471.28" stroke="#231f20" stroke-width="0.7"/>
<rect x="100.25" y="456.10" width="2.70" height="2.70" fill="#fff" stroke="#2e2236" stroke-width="0.8"/>
<rect x="97.65" y="458.24" width="2.70" height="2.70" fill="#fff" stroke="#2e2236" stroke-width="0.8"/>
<rect x="102.85" y="460.49" width="2.70" height="2.70" fill="#fff" stroke="#2e2236" stroke-width="0.8"/>
<rect x="100.25" y="465.38" width="2.70" height="2.70" fill="#fff" stroke="#2e2236" stroke-width="0.8"/>
<rect x="100.25" y="473.13" width="2.70" height="2.70" fill="#fff" stroke="#2e2236" stroke-width="0.8"/>
<rect x="107.70" y="451.84" width="9.60" height="23.46" fill="#5e1870"/>
<line x1="112.50" y1="443.76" x2="112.50" y2="459.92" stroke="#231f20" stroke-width="0.7"/>
<line x1="110.70" y1="443.76" x2="114.30" y2="443.76" stroke="#231f20" stroke-width="0.7"/>
<line x1="110.70" y1="459.92" x2="114.30" y2="459.92" stroke="#231f20" stroke-width="0.7"/>
<rect x="111.05" y="435.09" width="2.90" height="2.90" fill="#24082a"/>
<rect x="111.05" y="449.37" width="2.90" height="2.90" fill="#24082a"/>
<rect x="108.45" y="451.41" width="2.90" height="2.90" fill="#24082a"/>
<rect x="113.65" y="453.45" width="2.90" height="2.90" fill="#24082a"/>
<rect x="108.45" y="455.49" width="2.90" height="2.90" fill="#24082a"/>
<rect x="118.60" y="460.00" width="9.60" height="15.30" fill="#c5e6b5"/>
<line x1="123.40" y1="452.35" x2="123.40" y2="467.65" stroke="#1a3d1a" stroke-width="0.7"/>
<line x1="121.60" y1="452.35" x2="125.20" y2="452.35" stroke="#1a3d1a" stroke-width="0.7"/>
<line x1="121.60" y1="467.65" x2="125.20" y2="467.65" stroke="#1a3d1a" stroke-width="0.7"/>
<circle cx="123.40" cy="455.41" r="1.4" fill="#fff" stroke="#163c16" stroke-width="0.8"/>
<circle cx="120.80" cy="457.45" r="1.4" fill="#fff" stroke="#163c16" stroke-width="0.8"/>
<circle cx="126.00" cy="460.00" r="1.4" fill="#fff" stroke="#163c16" stroke-width="0.8"/>
<circle cx="123.40" cy="463.57" r="1.4" fill="#fff" stroke="#163c16" stroke-width="0.8"/>
<circle cx="123.40" cy="474.79" r="1.4" fill="#fff" stroke="#163c16" stroke-width="0.8"/>
<rect x="129.50" y="453.47" width="9.60" height="21.83" fill="#30aa30"/>
<line x1="134.30" y1="440.06" x2="134.30" y2="466.88" stroke="#1a3d1a" stroke-width="0.7"/>
<line x1="132.50" y1="440.06" x2="136.10" y2="440.06" stroke="#1a3d1a" stroke-width="0.7"/>
<line x1="132.50" y1="466.88" x2="136.10" y2="466.88" stroke="#1a3d1a" stroke-width="0.7"/>
<circle cx="134.30" cy="438.89" r="1.4" fill="#30aa30" stroke="#163c16" stroke-width="0.8"/>
<circle cx="134.30" cy="447.25" r="1.4" fill="#30aa30" stroke="#163c16" stroke-width="0.8"/>
<circle cx="131.70" cy="449.80" r="1.4" fill="#30aa30" stroke="#163c16" stroke-width="0.8"/>
<circle cx="134.30" cy="454.39" r="1.4" fill="#30aa30" stroke="#163c16" stroke-width="0.8"/>
<circle cx="134.30" cy="474.79" r="1.4" fill="#30aa30" stroke="#163c16" stroke-width="0.8"/>
<path d="M101.60,450.45 V393.6 H112.50 V429.54" fill="none" stroke="#231f20" stroke-width="0.6"/>
<text x="107.05" y="393.40" font-size="6.0" fill="#231f20" text-anchor="middle">**</text>
<path d="M123.40,445.35 V393.6 H134.30 V431.89" fill="none" stroke="#231f20" stroke-width="0.6"/>
<text x="128.85" y="393.40" font-size="6.0" fill="#231f20" text-anchor="middle">*</text>
<line x1="117.90" y1="475.30" x2="117.90" y2="477.80" stroke="#231f20" stroke-width="0.8"/>
<text x="117.90" y="487.3" font-size="6.4" fill="#231f20" text-anchor="middle">CTLA4<tspan font-size="5" dy="-2.8">+</tspan></text>
<rect x="145.60" y="468.87" width="9.60" height="6.43" fill="#b59acb"/>
<line x1="150.40" y1="463.94" x2="150.40" y2="473.81" stroke="#231f20" stroke-width="0.7"/>
<line x1="148.60" y1="463.94" x2="152.20" y2="463.94" stroke="#231f20" stroke-width="0.7"/>
<line x1="148.60" y1="473.81" x2="152.20" y2="473.81" stroke="#231f20" stroke-width="0.7"/>
<rect x="149.05" y="460.49" width="2.70" height="2.70" fill="#fff" stroke="#2e2236" stroke-width="0.8"/>
<rect x="146.45" y="462.73" width="2.70" height="2.70" fill="#fff" stroke="#2e2236" stroke-width="0.8"/>
<rect x="151.65" y="464.87" width="2.70" height="2.70" fill="#fff" stroke="#2e2236" stroke-width="0.8"/>
<rect x="149.05" y="468.65" width="2.70" height="2.70" fill="#fff" stroke="#2e2236" stroke-width="0.8"/>
<rect x="149.05" y="472.93" width="2.70" height="2.70" fill="#fff" stroke="#2e2236" stroke-width="0.8"/>
<rect x="156.50" y="458.47" width="9.60" height="16.83" fill="#5e1870"/>
<line x1="161.30" y1="451.36" x2="161.30" y2="465.58" stroke="#231f20" stroke-width="0.7"/>
<line x1="159.50" y1="451.36" x2="163.10" y2="451.36" stroke="#231f20" stroke-width="0.7"/>
<line x1="159.50" y1="465.58" x2="163.10" y2="465.58" stroke="#231f20" stroke-width="0.7"/>
<rect x="159.85" y="443.56" width="2.90" height="2.90" fill="#24082a"/>
<rect x="159.85" y="456.00" width="2.90" height="2.90" fill="#24082a"/>
<rect x="157.25" y="457.53" width="2.90" height="2.90" fill="#24082a"/>
<rect x="162.45" y="459.77" width="2.90" height="2.90" fill="#24082a"/>
<rect x="157.25" y="461.61" width="2.90" height="2.90" fill="#24082a"/>
<rect x="167.40" y="461.02" width="9.60" height="14.28" fill="#c5e6b5"/>
<line x1="172.20" y1="455.35" x2="172.20" y2="466.69" stroke="#1a3d1a" stroke-width="0.7"/>
<line x1="170.40" y1="455.35" x2="174.00" y2="455.35" stroke="#1a3d1a" stroke-width="0.7"/>
<line x1="170.40" y1="466.69" x2="174.00" y2="466.69" stroke="#1a3d1a" stroke-width="0.7"/>
<circle cx="172.20" cy="461.22" r="1.4" fill="#fff" stroke="#163c16" stroke-width="0.8"/>
<circle cx="169.60" cy="461.84" r="1.4" fill="#fff" stroke="#163c16" stroke-width="0.8"/>
<circle cx="172.20" cy="466.73" r="1.4" fill="#fff" stroke="#163c16" stroke-width="0.8"/>
<circle cx="169.60" cy="467.75" r="1.4" fill="#fff" stroke="#163c16" stroke-width="0.8"/>
<circle cx="172.20" cy="475.30" r="1.4" fill="#fff" stroke="#163c16" stroke-width="0.8"/>
<rect x="178.30" y="460.00" width="9.60" height="15.30" fill="#30aa30"/>
<line x1="183.10" y1="451.56" x2="183.10" y2="468.44" stroke="#1a3d1a" stroke-width="0.7"/>
<line x1="181.30" y1="451.56" x2="184.90" y2="451.56" stroke="#1a3d1a" stroke-width="0.7"/>
<line x1="181.30" y1="468.44" x2="184.90" y2="468.44" stroke="#1a3d1a" stroke-width="0.7"/>
<circle cx="183.10" cy="451.33" r="1.4" fill="#30aa30" stroke="#163c16" stroke-width="0.8"/>
<circle cx="183.10" cy="454.59" r="1.4" fill="#30aa30" stroke="#163c16" stroke-width="0.8"/>
<circle cx="180.50" cy="454.59" r="1.4" fill="#30aa30" stroke="#163c16" stroke-width="0.8"/>
<circle cx="183.10" cy="464.08" r="1.4" fill="#30aa30" stroke="#163c16" stroke-width="0.8"/>
<circle cx="183.10" cy="471.73" r="1.4" fill="#30aa30" stroke="#163c16" stroke-width="0.8"/>
<path d="M150.40,454.84 V393.6 H161.30 V438.01" fill="none" stroke="#231f20" stroke-width="0.6"/>
<text x="155.85" y="393.40" font-size="6.0" fill="#231f20" text-anchor="middle">**</text>
<path d="M172.20,448.35 V393.6 H183.10 V444.33" fill="none" stroke="#231f20" stroke-width="0.6"/>
<text x="177.65" y="393.40" font-size="6.0" fill="#231f20" text-anchor="middle">**</text>
<line x1="166.70" y1="475.30" x2="166.70" y2="477.80" stroke="#231f20" stroke-width="0.8"/>
<text x="166.70" y="487.3" font-size="6.4" fill="#231f20" text-anchor="middle">LAG3<tspan font-size="5" dy="-2.8">+</tspan></text>
<rect x="206.00" y="466.73" width="9.60" height="8.57" fill="#b59acb"/>
<line x1="210.80" y1="462.73" x2="210.80" y2="470.73" stroke="#231f20" stroke-width="0.7"/>
<line x1="209.00" y1="462.73" x2="212.60" y2="462.73" stroke="#231f20" stroke-width="0.7"/>
<line x1="209.00" y1="470.73" x2="212.60" y2="470.73" stroke="#231f20" stroke-width="0.7"/>
<rect x="209.45" y="455.90" width="2.70" height="2.70" fill="#fff" stroke="#2e2236" stroke-width="0.8"/>
<rect x="206.85" y="457.12" width="2.70" height="2.70" fill="#fff" stroke="#2e2236" stroke-width="0.8"/>
<rect x="209.45" y="462.12" width="2.70" height="2.70" fill="#fff" stroke="#2e2236" stroke-width="0.8"/>
<rect x="206.85" y="462.73" width="2.70" height="2.70" fill="#fff" stroke="#2e2236" stroke-width="0.8"/>
<rect x="212.05" y="465.38" width="2.70" height="2.70" fill="#fff" stroke="#2e2236" stroke-width="0.8"/>
<rect x="216.90" y="430.83" width="9.60" height="44.47" fill="#5e1870"/>
<line x1="221.70" y1="429.11" x2="221.70" y2="432.55" stroke="#231f20" stroke-width="0.7"/>
<line x1="219.90" y1="429.11" x2="223.50" y2="429.11" stroke="#231f20" stroke-width="0.7"/>
<line x1="219.90" y1="432.55" x2="223.50" y2="432.55" stroke="#231f20" stroke-width="0.7"/>
<rect x="220.25" y="426.93" width="2.90" height="2.90" fill="#24082a"/>
<rect x="217.65" y="428.46" width="2.90" height="2.90" fill="#24082a"/>
<rect x="222.85" y="429.48" width="2.90" height="2.90" fill="#24082a"/>
<rect x="217.65" y="430.30" width="2.90" height="2.90" fill="#24082a"/>
<rect x="222.85" y="431.42" width="2.90" height="2.90" fill="#24082a"/>
<rect x="227.80" y="463.47" width="9.60" height="11.83" fill="#c5e6b5"/>
<line x1="232.60" y1="454.33" x2="232.60" y2="472.61" stroke="#1a3d1a" stroke-width="0.7"/>
<line x1="230.80" y1="454.33" x2="234.40" y2="454.33" stroke="#1a3d1a" stroke-width="0.7"/>
<line x1="230.80" y1="472.61" x2="234.40" y2="472.61" stroke="#1a3d1a" stroke-width="0.7"/>
<circle cx="232.60" cy="451.64" r="1.4" fill="#fff" stroke="#163c16" stroke-width="0.8"/>
<circle cx="232.60" cy="457.96" r="1.4" fill="#fff" stroke="#163c16" stroke-width="0.8"/>
<circle cx="232.60" cy="461.02" r="1.4" fill="#fff" stroke="#163c16" stroke-width="0.8"/>
<circle cx="232.60" cy="467.96" r="1.4" fill="#fff" stroke="#163c16" stroke-width="0.8"/>
<circle cx="232.60" cy="475.30" r="1.4" fill="#fff" stroke="#163c16" stroke-width="0.8"/>
<rect x="238.70" y="444.70" width="9.60" height="30.60" fill="#30aa30"/>
<line x1="243.50" y1="430.46" x2="243.50" y2="458.94" stroke="#1a3d1a" stroke-width="0.7"/>
<line x1="241.70" y1="430.46" x2="245.30" y2="430.46" stroke="#1a3d1a" stroke-width="0.7"/>
<line x1="241.70" y1="458.94" x2="245.30" y2="458.94" stroke="#1a3d1a" stroke-width="0.7"/>
<circle cx="243.50" cy="430.83" r="1.4" fill="#30aa30" stroke="#163c16" stroke-width="0.8"/>
<circle cx="243.50" cy="433.99" r="1.4" fill="#30aa30" stroke="#163c16" stroke-width="0.8"/>
<circle cx="243.50" cy="438.99" r="1.4" fill="#30aa30" stroke="#163c16" stroke-width="0.8"/>
<circle cx="243.50" cy="444.70" r="1.4" fill="#30aa30" stroke="#163c16" stroke-width="0.8"/>
<circle cx="243.50" cy="466.73" r="1.4" fill="#30aa30" stroke="#163c16" stroke-width="0.8"/>
<path d="M210.80,450.25 V393.6 H221.70 V421.38" fill="none" stroke="#231f20" stroke-width="0.6"/>
<text x="216.25" y="393.40" font-size="6.0" fill="#231f20" text-anchor="middle">****</text>
<path d="M232.60,444.64 V393.6 H243.50 V423.46" fill="none" stroke="#231f20" stroke-width="0.6"/>
<text x="238.05" y="393.40" font-size="6.0" fill="#231f20" text-anchor="middle">*</text>
<line x1="227.10" y1="475.30" x2="227.10" y2="477.80" stroke="#231f20" stroke-width="0.8"/>
<text x="227.10" y="487.3" font-size="6.4" fill="#231f20" text-anchor="middle">CD25<tspan font-size="5" dy="-2.8">+</tspan></text>
<rect x="254.60" y="467.14" width="9.60" height="8.16" fill="#b59acb"/>
<line x1="259.40" y1="465.29" x2="259.40" y2="468.99" stroke="#231f20" stroke-width="0.7"/>
<line x1="257.60" y1="465.29" x2="261.20" y2="465.29" stroke="#231f20" stroke-width="0.7"/>
<line x1="257.60" y1="468.99" x2="261.20" y2="468.99" stroke="#231f20" stroke-width="0.7"/>
<rect x="258.05" y="462.83" width="2.70" height="2.70" fill="#fff" stroke="#2e2236" stroke-width="0.8"/>
<rect x="255.45" y="464.06" width="2.70" height="2.70" fill="#fff" stroke="#2e2236" stroke-width="0.8"/>
<rect x="260.65" y="464.77" width="2.70" height="2.70" fill="#fff" stroke="#2e2236" stroke-width="0.8"/>
<rect x="255.45" y="466.81" width="2.70" height="2.70" fill="#fff" stroke="#2e2236" stroke-width="0.8"/>
<rect x="260.65" y="467.22" width="2.70" height="2.70" fill="#fff" stroke="#2e2236" stroke-width="0.8"/>
<rect x="265.50" y="428.38" width="9.60" height="46.92" fill="#5e1870"/>
<line x1="270.30" y1="414.81" x2="270.30" y2="441.95" stroke="#231f20" stroke-width="0.7"/>
<line x1="268.50" y1="414.81" x2="272.10" y2="414.81" stroke="#231f20" stroke-width="0.7"/>
<line x1="268.50" y1="441.95" x2="272.10" y2="441.95" stroke="#231f20" stroke-width="0.7"/>
<rect x="268.85" y="405.51" width="2.90" height="2.90" fill="#24082a"/>
<rect x="268.85" y="424.89" width="2.90" height="2.90" fill="#24082a"/>
<rect x="266.25" y="424.89" width="2.90" height="2.90" fill="#24082a"/>
<rect x="268.85" y="438.56" width="2.90" height="2.90" fill="#24082a"/>
<rect x="266.25" y="438.56" width="2.90" height="2.90" fill="#24082a"/>
<rect x="276.40" y="468.16" width="9.60" height="7.14" fill="#c5e6b5"/>
<line x1="281.20" y1="460.58" x2="281.20" y2="475.30" stroke="#1a3d1a" stroke-width="0.7"/>
<line x1="279.40" y1="460.58" x2="283.00" y2="460.58" stroke="#1a3d1a" stroke-width="0.7"/>
<line x1="279.40" y1="475.30" x2="283.00" y2="475.30" stroke="#1a3d1a" stroke-width="0.7"/>
<circle cx="281.20" cy="455.31" r="1.4" fill="#fff" stroke="#163c16" stroke-width="0.8"/>
<circle cx="281.20" cy="458.98" r="1.4" fill="#fff" stroke="#163c16" stroke-width="0.8"/>
<circle cx="281.20" cy="464.79" r="1.4" fill="#fff" stroke="#163c16" stroke-width="0.8"/>
<circle cx="278.60" cy="464.79" r="1.4" fill="#fff" stroke="#163c16" stroke-width="0.8"/>
<circle cx="281.20" cy="475.30" r="1.4" fill="#fff" stroke="#163c16" stroke-width="0.8"/>
<rect x="287.30" y="442.15" width="9.60" height="33.15" fill="#30aa30"/>
<line x1="292.10" y1="424.07" x2="292.10" y2="460.23" stroke="#1a3d1a" stroke-width="0.7"/>
<line x1="290.30" y1="424.07" x2="293.90" y2="424.07" stroke="#1a3d1a" stroke-width="0.7"/>
<line x1="290.30" y1="460.23" x2="293.90" y2="460.23" stroke="#1a3d1a" stroke-width="0.7"/>
<circle cx="292.10" cy="417.16" r="1.4" fill="#30aa30" stroke="#163c16" stroke-width="0.8"/>
<circle cx="292.10" cy="436.54" r="1.4" fill="#30aa30" stroke="#163c16" stroke-width="0.8"/>
<circle cx="289.50" cy="437.66" r="1.4" fill="#30aa30" stroke="#163c16" stroke-width="0.8"/>
<circle cx="292.10" cy="447.76" r="1.4" fill="#30aa30" stroke="#163c16" stroke-width="0.8"/>
<circle cx="292.10" cy="466.73" r="1.4" fill="#30aa30" stroke="#163c16" stroke-width="0.8"/>
<path d="M259.40,457.18 V393.6 H270.30 V399.96" fill="none" stroke="#231f20" stroke-width="0.6"/>
<text x="264.85" y="393.40" font-size="6.0" fill="#231f20" text-anchor="middle">**</text>
<path d="M281.20,448.31 V393.6 H292.10 V410.16" fill="none" stroke="#231f20" stroke-width="0.6"/>
<text x="286.65" y="393.40" font-size="6.0" fill="#231f20" text-anchor="middle">*</text>
<line x1="275.70" y1="475.30" x2="275.70" y2="477.80" stroke="#231f20" stroke-width="0.8"/>
<text x="275.70" y="487.3" font-size="6.4" fill="#231f20" text-anchor="middle">CTLA4<tspan font-size="5" dy="-2.8">+</tspan></text>
<rect x="304.00" y="461.63" width="9.60" height="13.67" fill="#b59acb"/>
<line x1="308.80" y1="456.68" x2="308.80" y2="466.58" stroke="#231f20" stroke-width="0.7"/>
<line x1="307.00" y1="456.68" x2="310.60" y2="456.68" stroke="#231f20" stroke-width="0.7"/>
<line x1="307.00" y1="466.58" x2="310.60" y2="466.58" stroke="#231f20" stroke-width="0.7"/>
<rect x="307.45" y="453.35" width="2.70" height="2.70" fill="#fff" stroke="#2e2236" stroke-width="0.8"/>
<rect x="304.85" y="453.35" width="2.70" height="2.70" fill="#fff" stroke="#2e2236" stroke-width="0.8"/>
<rect x="310.05" y="453.35" width="2.70" height="2.70" fill="#fff" stroke="#2e2236" stroke-width="0.8"/>
<rect x="307.45" y="457.73" width="2.70" height="2.70" fill="#fff" stroke="#2e2236" stroke-width="0.8"/>
<rect x="307.45" y="463.44" width="2.70" height="2.70" fill="#fff" stroke="#2e2236" stroke-width="0.8"/>
<rect x="304.85" y="463.44" width="2.70" height="2.70" fill="#fff" stroke="#2e2236" stroke-width="0.8"/>
<rect x="314.90" y="424.50" width="9.60" height="50.80" fill="#5e1870"/>
<line x1="319.70" y1="413.18" x2="319.70" y2="435.83" stroke="#231f20" stroke-width="0.7"/>
<line x1="317.90" y1="413.18" x2="321.50" y2="413.18" stroke="#231f20" stroke-width="0.7"/>
<line x1="317.90" y1="435.83" x2="321.50" y2="435.83" stroke="#231f20" stroke-width="0.7"/>
<rect x="318.25" y="404.49" width="2.90" height="2.90" fill="#24082a"/>
<rect x="318.25" y="417.44" width="2.90" height="2.90" fill="#24082a"/>
<rect x="318.25" y="424.89" width="2.90" height="2.90" fill="#24082a"/>
<rect x="315.65" y="424.89" width="2.90" height="2.90" fill="#24082a"/>
<rect x="318.25" y="435.09" width="2.90" height="2.90" fill="#24082a"/>
<rect x="325.80" y="460.41" width="9.60" height="14.89" fill="#c5e6b5"/>
<line x1="330.60" y1="446.25" x2="330.60" y2="474.57" stroke="#1a3d1a" stroke-width="0.7"/>
<line x1="328.80" y1="446.25" x2="332.40" y2="446.25" stroke="#1a3d1a" stroke-width="0.7"/>
<line x1="328.80" y1="474.57" x2="332.40" y2="474.57" stroke="#1a3d1a" stroke-width="0.7"/>
<circle cx="330.60" cy="433.99" r="1.4" fill="#fff" stroke="#163c16" stroke-width="0.8"/>
<circle cx="330.60" cy="454.70" r="1.4" fill="#fff" stroke="#163c16" stroke-width="0.8"/>
<circle cx="330.60" cy="457.96" r="1.4" fill="#fff" stroke="#163c16" stroke-width="0.8"/>
<circle cx="328.00" cy="457.96" r="1.4" fill="#fff" stroke="#163c16" stroke-width="0.8"/>
<circle cx="330.60" cy="473.57" r="1.4" fill="#fff" stroke="#163c16" stroke-width="0.8"/>
<rect x="336.70" y="435.83" width="9.60" height="39.47" fill="#30aa30"/>
<line x1="341.50" y1="417.76" x2="341.50" y2="453.89" stroke="#1a3d1a" stroke-width="0.7"/>
<line x1="339.70" y1="417.76" x2="343.30" y2="417.76" stroke="#1a3d1a" stroke-width="0.7"/>
<line x1="339.70" y1="453.89" x2="343.30" y2="453.89" stroke="#1a3d1a" stroke-width="0.7"/>
<circle cx="341.50" cy="413.08" r="1.4" fill="#30aa30" stroke="#163c16" stroke-width="0.8"/>
<circle cx="341.50" cy="432.05" r="1.4" fill="#30aa30" stroke="#163c16" stroke-width="0.8"/>
<circle cx="338.90" cy="432.66" r="1.4" fill="#30aa30" stroke="#163c16" stroke-width="0.8"/>
<circle cx="341.50" cy="436.54" r="1.4" fill="#30aa30" stroke="#163c16" stroke-width="0.8"/>
<circle cx="341.50" cy="463.47" r="1.4" fill="#30aa30" stroke="#163c16" stroke-width="0.8"/>
<path d="M308.80,447.70 V393.6 H319.70 V398.94" fill="none" stroke="#231f20" stroke-width="0.6"/>
<text x="314.25" y="393.40" font-size="6.0" fill="#231f20" text-anchor="middle">**</text>
<path d="M330.60,426.99 V393.6 H341.50 V406.08" fill="none" stroke="#231f20" stroke-width="0.6"/>
<text x="336.05" y="393.40" font-size="6.0" fill="#231f20" text-anchor="middle">*</text>
<line x1="325.10" y1="475.30" x2="325.10" y2="477.80" stroke="#231f20" stroke-width="0.8"/>
<text x="325.10" y="487.3" font-size="6.4" fill="#231f20" text-anchor="middle">LAG3<tspan font-size="5" dy="-2.8">+</tspan></text>
<text x="113.8" y="381.6" font-size="8.2" fill="#231f20" text-anchor="middle">CD4<tspan font-size="5" dy="-3.2">+</tspan></text>
<text x="273.2" y="381.6" font-size="8.2" fill="#231f20" text-anchor="middle">CD8<tspan font-size="5" dy="-3.2">+</tspan></text>
<rect x="358.8" y="420.00" width="3.8" height="3.8" fill="#b59acb" stroke="#3a2a40" stroke-width="0.6"/>
<text x="366.20" y="424.20" font-size="6.4" fill="#231f20" textLength="49.0" lengthAdjust="spacingAndGlyphs">D11 CD4+/CD8+</text>
<rect x="358.8" y="429.80" width="3.8" height="3.8" fill="#5e1870" stroke="#2a0a30" stroke-width="0.6"/>
<text x="366.20" y="434.00" font-size="6.4" fill="#231f20" textLength="71.2" lengthAdjust="spacingAndGlyphs">D11 CD4+/CD8+ CD34+</text>
<circle cx="360.7" cy="441.50" r="2.0" fill="#fff" stroke="#1a4a1a" stroke-width="0.8"/>
<text x="366.20" y="443.80" font-size="6.4" fill="#231f20" textLength="49.0" lengthAdjust="spacingAndGlyphs">D18 CD4+/CD8+</text>
<circle cx="360.7" cy="451.30" r="2.0" fill="#30aa30" stroke="#1a3d1a" stroke-width="0.8"/>
<text x="366.20" y="453.60" font-size="6.4" fill="#231f20" textLength="71.2" lengthAdjust="spacingAndGlyphs">D18 CD4+/CD8+ CD34+</text>
<line x1="43.80" y1="521.50" x2="43.80" y2="603.80" stroke="#231f20" stroke-width="0.9"/>
<line x1="41.30" y1="603.80" x2="218.00" y2="603.80" stroke="#231f20" stroke-width="0.9"/>
<line x1="41.20" y1="603.80" x2="43.80" y2="603.80" stroke="#231f20" stroke-width="0.8"/>
<text x="39.40" y="606.00" font-size="6.2" fill="#231f20" text-anchor="end">0</text>
<line x1="41.20" y1="587.95" x2="43.80" y2="587.95" stroke="#231f20" stroke-width="0.8"/>
<text x="39.40" y="590.15" font-size="6.2" fill="#231f20" text-anchor="end">20</text>
<line x1="41.20" y1="572.10" x2="43.80" y2="572.10" stroke="#231f20" stroke-width="0.8"/>
<text x="39.40" y="574.30" font-size="6.2" fill="#231f20" text-anchor="end">40</text>
<line x1="41.20" y1="556.25" x2="43.80" y2="556.25" stroke="#231f20" stroke-width="0.8"/>
<text x="39.40" y="558.45" font-size="6.2" fill="#231f20" text-anchor="end">60</text>
<line x1="41.20" y1="540.40" x2="43.80" y2="540.40" stroke="#231f20" stroke-width="0.8"/>
<text x="39.40" y="542.60" font-size="6.2" fill="#231f20" text-anchor="end">80</text>
<line x1="41.20" y1="524.55" x2="43.80" y2="524.55" stroke="#231f20" stroke-width="0.8"/>
<text x="39.40" y="526.75" font-size="6.2" fill="#231f20" text-anchor="end">100</text>
<rect x="51.75" y="539.61" width="2.90" height="64.19" fill="#123362"/>
<line x1="50.75" y1="603.80" x2="50.75" y2="606.20" stroke="#231f20" stroke-width="0.8"/>
<text x="50.75" y="614.80" font-size="6.2" fill="#231f20" text-anchor="middle">1.1</text>
<rect x="60.19" y="535.64" width="2.70" height="68.16" fill="#8894b2"/>
<rect x="65.19" y="530.10" width="2.90" height="73.70" fill="#123362"/>
<line x1="64.19" y1="603.80" x2="64.19" y2="606.20" stroke="#231f20" stroke-width="0.8"/>
<text x="64.19" y="614.80" font-size="6.2" fill="#231f20" text-anchor="middle">1.2</text>
<rect x="73.63" y="567.34" width="2.70" height="36.45" fill="#8894b2"/>
<rect x="78.63" y="536.44" width="2.90" height="67.36" fill="#123362"/>
<line x1="77.63" y1="603.80" x2="77.63" y2="606.20" stroke="#231f20" stroke-width="0.8"/>
<text x="77.63" y="614.80" font-size="6.2" fill="#231f20" text-anchor="middle">2</text>
<rect x="87.07" y="545.95" width="2.70" height="57.85" fill="#8894b2"/>
<line x1="91.07" y1="603.80" x2="91.07" y2="606.20" stroke="#231f20" stroke-width="0.8"/>
<text x="91.07" y="614.80" font-size="6.2" fill="#231f20" text-anchor="middle">3.1</text>
<rect x="100.51" y="539.61" width="2.70" height="64.19" fill="#8894b2"/>
<line x1="104.51" y1="603.80" x2="104.51" y2="606.20" stroke="#231f20" stroke-width="0.8"/>
<text x="104.51" y="614.80" font-size="6.2" fill="#231f20" text-anchor="middle">3.2</text>
<rect x="113.95" y="549.91" width="2.70" height="53.89" fill="#8894b2"/>
<rect x="118.95" y="524.55" width="2.90" height="79.25" fill="#123362"/>
<line x1="117.95" y1="603.80" x2="117.95" y2="606.20" stroke="#231f20" stroke-width="0.8"/>
<text x="117.95" y="614.80" font-size="6.2" fill="#231f20" text-anchor="middle">4</text>
<rect x="127.39" y="549.12" width="2.70" height="54.68" fill="#8894b2"/>
<rect x="132.39" y="540.40" width="2.90" height="63.40" fill="#123362"/>
<line x1="131.39" y1="603.80" x2="131.39" y2="606.20" stroke="#231f20" stroke-width="0.8"/>
<text x="131.39" y="614.80" font-size="6.2" fill="#231f20" text-anchor="middle">5.1</text>
<rect x="140.83" y="567.34" width="2.70" height="36.45" fill="#8894b2"/>
<rect x="145.83" y="525.34" width="2.90" height="78.46" fill="#123362"/>
<line x1="144.83" y1="603.80" x2="144.83" y2="606.20" stroke="#231f20" stroke-width="0.8"/>
<text x="144.83" y="614.80" font-size="6.2" fill="#231f20" text-anchor="middle">5.2</text>
<rect x="154.27" y="534.06" width="2.70" height="69.74" fill="#8894b2"/>
<rect x="159.27" y="534.06" width="2.90" height="69.74" fill="#123362"/>
<line x1="158.27" y1="603.80" x2="158.27" y2="606.20" stroke="#231f20" stroke-width="0.8"/>
<text x="158.27" y="614.80" font-size="6.2" fill="#231f20" text-anchor="middle">1.3</text>
<rect x="167.71" y="534.85" width="2.70" height="68.95" fill="#8894b2"/>
<rect x="172.71" y="534.06" width="2.90" height="69.74" fill="#123362"/>
<line x1="171.71" y1="603.80" x2="171.71" y2="606.20" stroke="#231f20" stroke-width="0.8"/>
<text x="171.71" y="614.80" font-size="6.2" fill="#231f20" text-anchor="middle">6</text>
<rect x="181.15" y="542.78" width="2.70" height="61.02" fill="#8894b2"/>
<rect x="186.15" y="541.19" width="2.90" height="62.61" fill="#123362"/>
<line x1="185.15" y1="603.80" x2="185.15" y2="606.20" stroke="#231f20" stroke-width="0.8"/>
<text x="185.15" y="614.80" font-size="6.2" fill="#231f20" text-anchor="middle">7</text>
<rect x="194.59" y="545.95" width="2.70" height="57.85" fill="#8894b2"/>
<rect x="199.59" y="537.23" width="2.90" height="66.57" fill="#123362"/>
<line x1="198.59" y1="603.80" x2="198.59" y2="606.20" stroke="#231f20" stroke-width="0.8"/>
<text x="198.59" y="614.80" font-size="6.2" fill="#231f20" text-anchor="middle">8</text>
<rect x="208.03" y="548.32" width="2.70" height="55.48" fill="#8894b2"/>
<rect x="213.03" y="545.95" width="2.90" height="57.85" fill="#123362"/>
<line x1="212.03" y1="603.80" x2="212.03" y2="606.20" stroke="#231f20" stroke-width="0.8"/>
<text x="212.03" y="614.80" font-size="6.2" fill="#231f20" text-anchor="middle">9</text>
<text x="131.40" y="627.40" font-size="8.2" fill="#231f20" text-anchor="middle" textLength="20.2" lengthAdjust="spacingAndGlyphs">Patient</text>
<text x="22.00" y="562.97" font-size="7.2" fill="#231f20" text-anchor="middle" textLength="20.0" lengthAdjust="spacingAndGlyphs" transform="rotate(-90 22.00 562.97)">% Lysis</text>
<text x="57.50" y="513.90" font-size="8.5" fill="#231f20" textLength="148.8" lengthAdjust="spacingAndGlyphs">Lysis of H peptide pulsed targets (1nM)</text>
<line x1="270.40" y1="521.50" x2="270.40" y2="604.00" stroke="#231f20" stroke-width="0.9"/>
<line x1="267.90" y1="604.00" x2="443.50" y2="604.00" stroke="#231f20" stroke-width="0.9"/>
<line x1="267.80" y1="604.00" x2="270.40" y2="604.00" stroke="#231f20" stroke-width="0.8"/>
<text x="266.00" y="606.20" font-size="6.2" fill="#231f20" text-anchor="end">0</text>
<line x1="267.80" y1="588.28" x2="270.40" y2="588.28" stroke="#231f20" stroke-width="0.8"/>
<text x="266.00" y="590.48" font-size="6.2" fill="#231f20" text-anchor="end">20</text>
<line x1="267.80" y1="572.56" x2="270.40" y2="572.56" stroke="#231f20" stroke-width="0.8"/>
<text x="266.00" y="574.76" font-size="6.2" fill="#231f20" text-anchor="end">40</text>
<line x1="267.80" y1="556.84" x2="270.40" y2="556.84" stroke="#231f20" stroke-width="0.8"/>
<text x="266.00" y="559.04" font-size="6.2" fill="#231f20" text-anchor="end">60</text>
<line x1="267.80" y1="541.12" x2="270.40" y2="541.12" stroke="#231f20" stroke-width="0.8"/>
<text x="266.00" y="543.32" font-size="6.2" fill="#231f20" text-anchor="end">80</text>
<line x1="267.80" y1="525.40" x2="270.40" y2="525.40" stroke="#231f20" stroke-width="0.8"/>
<text x="266.00" y="527.60" font-size="6.2" fill="#231f20" text-anchor="end">100</text>
<rect x="278.00" y="567.84" width="2.90" height="36.16" fill="#123362"/>
<line x1="277.00" y1="604.00" x2="277.00" y2="606.40" stroke="#231f20" stroke-width="0.8"/>
<text x="277.00" y="615.00" font-size="6.2" fill="#231f20" text-anchor="middle">1.1</text>
<rect x="286.35" y="581.99" width="2.70" height="22.01" fill="#8894b2"/>
<rect x="291.35" y="558.41" width="2.90" height="45.59" fill="#123362"/>
<line x1="290.35" y1="604.00" x2="290.35" y2="606.40" stroke="#231f20" stroke-width="0.8"/>
<text x="290.35" y="615.00" font-size="6.2" fill="#231f20" text-anchor="middle">1.2</text>
<rect x="299.70" y="578.06" width="2.70" height="25.94" fill="#8894b2"/>
<rect x="304.70" y="559.20" width="2.90" height="44.80" fill="#123362"/>
<line x1="303.70" y1="604.00" x2="303.70" y2="606.40" stroke="#231f20" stroke-width="0.8"/>
<text x="303.70" y="615.00" font-size="6.2" fill="#231f20" text-anchor="middle">2</text>
<rect x="313.05" y="588.28" width="2.70" height="15.72" fill="#8894b2"/>
<line x1="317.05" y1="604.00" x2="317.05" y2="606.40" stroke="#231f20" stroke-width="0.8"/>
<text x="317.05" y="615.00" font-size="6.2" fill="#231f20" text-anchor="middle">3.1</text>
<rect x="326.40" y="593.00" width="2.70" height="11.00" fill="#8894b2"/>
<line x1="330.40" y1="604.00" x2="330.40" y2="606.40" stroke="#231f20" stroke-width="0.8"/>
<text x="330.40" y="615.00" font-size="6.2" fill="#231f20" text-anchor="middle">3.2</text>
<rect x="339.75" y="581.99" width="2.70" height="22.01" fill="#8894b2"/>
<rect x="344.75" y="537.19" width="2.90" height="66.81" fill="#123362"/>
<line x1="343.75" y1="604.00" x2="343.75" y2="606.40" stroke="#231f20" stroke-width="0.8"/>
<text x="343.75" y="615.00" font-size="6.2" fill="#231f20" text-anchor="middle">4</text>
<rect x="353.10" y="581.21" width="2.70" height="22.79" fill="#8894b2"/>
<rect x="358.10" y="552.91" width="2.90" height="51.09" fill="#123362"/>
<line x1="357.10" y1="604.00" x2="357.10" y2="606.40" stroke="#231f20" stroke-width="0.8"/>
<text x="357.10" y="615.00" font-size="6.2" fill="#231f20" text-anchor="middle">5.1</text>
<rect x="366.45" y="585.14" width="2.70" height="18.86" fill="#8894b2"/>
<rect x="371.45" y="549.77" width="2.90" height="54.23" fill="#123362"/>
<line x1="370.45" y1="604.00" x2="370.45" y2="606.40" stroke="#231f20" stroke-width="0.8"/>
<text x="370.45" y="615.00" font-size="6.2" fill="#231f20" text-anchor="middle">5.2</text>
<rect x="379.80" y="568.63" width="2.70" height="35.37" fill="#8894b2"/>
<rect x="384.80" y="563.91" width="2.90" height="40.09" fill="#123362"/>
<line x1="383.80" y1="604.00" x2="383.80" y2="606.40" stroke="#231f20" stroke-width="0.8"/>
<text x="383.80" y="615.00" font-size="6.2" fill="#231f20" text-anchor="middle">1.3</text>
<rect x="393.15" y="571.77" width="2.70" height="32.23" fill="#8894b2"/>
<rect x="398.15" y="547.41" width="2.90" height="56.59" fill="#123362"/>
<line x1="397.15" y1="604.00" x2="397.15" y2="606.40" stroke="#231f20" stroke-width="0.8"/>
<text x="397.15" y="615.00" font-size="6.2" fill="#231f20" text-anchor="middle">6</text>
<rect x="406.50" y="578.85" width="2.70" height="25.15" fill="#8894b2"/>
<rect x="411.50" y="550.55" width="2.90" height="53.45" fill="#123362"/>
<line x1="410.50" y1="604.00" x2="410.50" y2="606.40" stroke="#231f20" stroke-width="0.8"/>
<text x="410.50" y="615.00" font-size="6.2" fill="#231f20" text-anchor="middle">7</text>
<rect x="419.85" y="580.42" width="2.70" height="23.58" fill="#8894b2"/>
<rect x="424.85" y="559.20" width="2.90" height="44.80" fill="#123362"/>
<line x1="423.85" y1="604.00" x2="423.85" y2="606.40" stroke="#231f20" stroke-width="0.8"/>
<text x="423.85" y="615.00" font-size="6.2" fill="#231f20" text-anchor="middle">8</text>
<rect x="433.20" y="581.21" width="2.70" height="22.79" fill="#8894b2"/>
<rect x="438.20" y="568.63" width="2.90" height="35.37" fill="#123362"/>
<line x1="437.20" y1="604.00" x2="437.20" y2="606.40" stroke="#231f20" stroke-width="0.8"/>
<text x="437.20" y="615.00" font-size="6.2" fill="#231f20" text-anchor="middle">9</text>
<text x="357.45" y="627.40" font-size="8.2" fill="#231f20" text-anchor="middle" textLength="20.2" lengthAdjust="spacingAndGlyphs">Patient</text>
<text x="248.60" y="563.50" font-size="7.2" fill="#231f20" text-anchor="middle" textLength="20.0" lengthAdjust="spacingAndGlyphs" transform="rotate(-90 248.60 563.50)">% Lysis</text>
<text x="297.00" y="513.90" font-size="8.5" fill="#231f20" textLength="120.6" lengthAdjust="spacingAndGlyphs"></text>
<text x="297.0" y="513.9" font-size="8.5" fill="#231f20" textLength="120.6" lengthAdjust="spacingAndGlyphs">Lysis of HA-1<tspan font-size="5" dy="-3">+</tspan><tspan dy="3"> primary leukemia</tspan></text>
<rect x="452.60" y="555.20" width="5.00" height="5.00" fill="#8894b2"/>
<rect x="452.60" y="565.60" width="5.00" height="5.00" fill="#123362"/>
<text x="461.70" y="560.20" font-size="6.4" fill="#231f20" textLength="12.8" lengthAdjust="spacingAndGlyphs">CD4</text>
<text x="461.70" y="570.60" font-size="6.4" fill="#231f20" textLength="12.8" lengthAdjust="spacingAndGlyphs">CD8</text>
<rect x="0.5" y="0.5" width="519" height="635" fill="none" stroke="#6e6e6e" stroke-width="1"/></svg></body></html>
